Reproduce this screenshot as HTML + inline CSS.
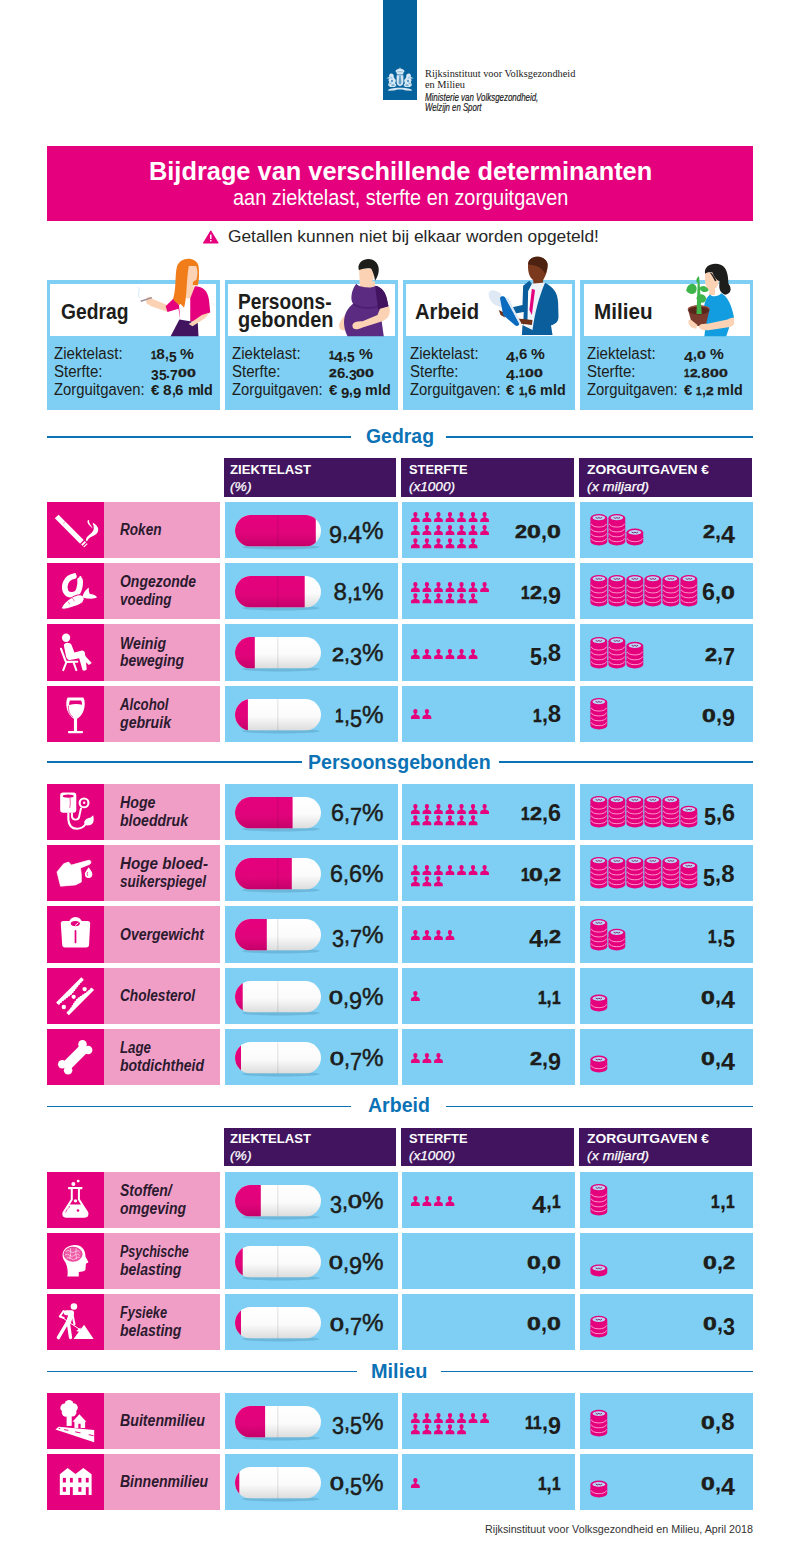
<!DOCTYPE html>
<html><head><meta charset="utf-8"><title>Bijdrage van verschillende determinanten</title>
<style>
html,body{margin:0;padding:0;background:#fff;}
body{width:800px;height:1553px;position:relative;overflow:hidden;font-family:"Liberation Sans",sans-serif;}
#p{position:absolute;left:0;top:0;width:800px;height:1553px;overflow:hidden;}
#p>div,#p>svg,#p>span{position:absolute;}
.t{white-space:nowrap;transform-origin:0 0;display:block;}
svg{overflow:visible;}
</style></head><body><div id="p">
<div style="left:383.25px;top:0.00px;width:33.50px;height:100.25px;background:#05629c;"></div>
<svg style="left:380.00px;top:55.00px;" width="40" height="50" viewBox="0 0 800 1000"><g fill="#d6e8f6">
<path d="M400 240 L412 275 C440 270 480 290 492 325 C470 345 462 370 462 388 L338 388 C338 370 330 345 308 325 C320 290 360 270 388 275 Z"/>
<path d="M332 405 H468 V540 C468 590 430 615 400 625 C370 615 332 590 332 540 Z"/>
<path d="M215 372 C255 368 285 400 275 440 L300 470 L320 520 L300 560 L330 600 L300 640 L200 640 L160 600 L185 540 L165 500 L190 470 L120 465 L185 440 C175 410 185 385 215 372Z"/>
<path d="M585 372 C545 368 515 400 525 440 L500 470 L480 520 L500 560 L470 600 L500 640 L600 640 L640 600 L615 540 L635 500 L610 470 L680 465 L615 440 C625 410 615 385 585 372Z"/>
<path d="M170 690 C250 640 550 640 630 690 L640 715 L520 712 C470 680 330 680 280 712 L160 715 Z"/>
</g>
<g fill="#05629c"><path d="M385 420 L415 420 L430 560 L400 600 L370 560Z" opacity="0.55"/><path d="M300 400 q-25 40 0 80 M500 400 q25 40 0 80" stroke="#05629c" stroke-width="14" fill="none" opacity="0.8"/><path d="M205 440 l40 30 M595 440 l-40 30 M180 580 l50 -20 M620 580 l-50 -20" stroke="#05629c" stroke-width="12" opacity="0.7"/><circle cx="240" cy="520" r="22" opacity="0.7"/><circle cx="560" cy="520" r="22" opacity="0.7"/><path d="M230 590 h60 v25 h-60z M510 590 h60 v25 h-60z" opacity="0.6"/><path d="M345 330 h110 v14 h-110z" opacity="0.5"/></g></svg>
<span class="t" style="left:424.50px;top:68.12px;font:11.2px/11.2px 'Liberation Serif',serif;color:#222;transform:scaleX(0.9220);">Rijksinstituut voor Volksgezondheid</span>
<span class="t" style="left:424.50px;top:78.92px;font:11.2px/11.2px 'Liberation Serif',serif;color:#222;transform:scaleX(0.9252);">en Milieu</span>
<span class="t" style="left:424.50px;top:91.81px;font:italic 10.5px/10.5px 'Liberation Sans',sans-serif;color:#222;transform:scaleX(0.7544);-webkit-text-stroke:0.2px #222;">Ministerie van Volksgezondheid,</span>
<span class="t" style="left:424.50px;top:102.41px;font:italic 10.5px/10.5px 'Liberation Sans',sans-serif;color:#222;transform:scaleX(0.7409);-webkit-text-stroke:0.2px #222;">Welzijn en Sport</span>
<div style="left:47.00px;top:145.50px;width:706.00px;height:75.30px;background:#e5007d;"></div>
<span class="t" style="left:148.80px;top:157.79px;font:bold 26px/26px 'Liberation Sans',sans-serif;color:#fff;transform:scaleX(0.9755);">Bijdrage van verschillende determinanten</span>
<span class="t" style="left:232.60px;top:187.60px;font:21.5px/21.5px 'Liberation Sans',sans-serif;color:#fff;transform:scaleX(0.9262);">aan ziektelast, sterfte en zorguitgaven</span>
<span class="t" style="left:228.30px;top:228.14px;font:17.2px/17.2px 'Liberation Sans',sans-serif;color:#262626;transform:scaleX(1.0083);">Getallen kunnen niet bij elkaar worden opgeteld!</span>
<svg style="left:202.60px;top:230.00px;" width="15.6" height="13.9" viewBox="0 0 30 25"><path d="M15 1.2 L29 24 L1 24 Z" fill="#e5007d" stroke="#e5007d" stroke-width="2" stroke-linejoin="round"/><rect x="13.6" y="8" width="2.8" height="8.5" fill="#fff"/><rect x="13.6" y="18.3" width="2.8" height="2.8" fill="#fff"/></svg>
<div style="left:47.00px;top:280.40px;width:172.80px;height:129.40px;background:#7ecff3;"></div>
<div style="left:50.30px;top:283.70px;width:166.20px;height:51.90px;background:#fff;"></div>
<span class="t" style="left:61.00px;top:301.38px;font:bold 22px/22px 'Liberation Sans',sans-serif;color:#1d1d1b;transform:scaleX(0.8764);">Gedrag</span>
<span class="t" style="left:54.00px;top:346.09px;font:15.6px/15.6px 'Liberation Sans',sans-serif;color:#1d1d1b;transform:scaleX(0.9650);">Ziektelast:</span>
<span class="t" style="left:54.00px;top:364.39px;font:15.6px/15.6px 'Liberation Sans',sans-serif;color:#1d1d1b;transform:scaleX(0.9644);">Sterfte:</span>
<span class="t" style="left:54.00px;top:382.09px;font:15.6px/15.6px 'Liberation Sans',sans-serif;color:#1d1d1b;transform:scaleX(0.9508);">Zorguitgaven:</span>
<span class="t" style="left:150.80px;top:349.72px;font:bold 11.319px/11.319px 'Liberation Sans',sans-serif;color:#1d1d1b;transform:scaleX(0.8766);-webkit-text-stroke:0.3388px #1d1d1b;">1</span>
<span class="t" style="left:156.32px;top:346.26px;font:bold 15.4px/15.4px 'Liberation Sans',sans-serif;color:#1d1d1b;">8</span>
<span class="t" style="left:164.85px;top:346.26px;font:bold 15.4px/15.4px 'Liberation Sans',sans-serif;color:#1d1d1b;transform:scaleX(0.8998);">,</span>
<span class="t" style="left:168.70px;top:348.80px;font:bold 15.4px/15.4px 'Liberation Sans',sans-serif;color:#1d1d1b;transform:scaleX(0.8990);">5</span>
<span class="t" style="left:180.25px;top:346.26px;font:bold 15.4px/15.4px 'Liberation Sans',sans-serif;color:#1d1d1b;transform:scaleX(1.0075);">%</span>
<span class="t" style="left:150.80px;top:367.10px;font:bold 15.4px/15.4px 'Liberation Sans',sans-serif;color:#1d1d1b;transform:scaleX(0.8990);">3</span>
<span class="t" style="left:158.50px;top:367.10px;font:bold 15.4px/15.4px 'Liberation Sans',sans-serif;color:#1d1d1b;transform:scaleX(0.8990);">5</span>
<span class="t" style="left:166.20px;top:364.56px;font:bold 15.4px/15.4px 'Liberation Sans',sans-serif;color:#1d1d1b;transform:scaleX(0.8998);">.</span>
<span class="t" style="left:170.05px;top:367.10px;font:bold 15.4px/15.4px 'Liberation Sans',sans-serif;color:#1d1d1b;transform:scaleX(0.8990);">7</span>
<span class="t" style="left:177.75px;top:368.02px;font:bold 11.319px/11.319px 'Liberation Sans',sans-serif;color:#1d1d1b;transform:scaleX(1.4066);-webkit-text-stroke:0.3388px #1d1d1b;">0</span>
<span class="t" style="left:186.60px;top:368.02px;font:bold 11.319px/11.319px 'Liberation Sans',sans-serif;color:#1d1d1b;transform:scaleX(1.4066);-webkit-text-stroke:0.3388px #1d1d1b;">0</span>
<span class="t" style="left:150.80px;top:382.26px;font:bold 15.4px/15.4px 'Liberation Sans',sans-serif;color:#1d1d1b;transform:scaleX(0.9739);">€</span>
<span class="t" style="left:162.99px;top:382.26px;font:bold 15.4px/15.4px 'Liberation Sans',sans-serif;color:#1d1d1b;">8</span>
<span class="t" style="left:171.53px;top:382.26px;font:bold 15.4px/15.4px 'Liberation Sans',sans-serif;color:#1d1d1b;transform:scaleX(0.8998);">,</span>
<span class="t" style="left:175.38px;top:382.26px;font:bold 15.4px/15.4px 'Liberation Sans',sans-serif;color:#1d1d1b;transform:scaleX(0.9739);">6</span>
<span class="t" style="left:187.57px;top:382.26px;font:bold 15.4px/15.4px 'Liberation Sans',sans-serif;color:#1d1d1b;transform:scaleX(0.9300);">m</span>
<span class="t" style="left:200.30px;top:382.26px;font:bold 15.4px/15.4px 'Liberation Sans',sans-serif;color:#1d1d1b;transform:scaleX(0.9300);">l</span>
<span class="t" style="left:204.28px;top:382.26px;font:bold 15.4px/15.4px 'Liberation Sans',sans-serif;color:#1d1d1b;transform:scaleX(0.9300);">d</span>
<div style="left:225.10px;top:280.40px;width:172.80px;height:129.40px;background:#7ecff3;"></div>
<div style="left:228.40px;top:283.70px;width:166.20px;height:51.90px;background:#fff;"></div>
<span class="t" style="left:238.00px;top:290.88px;font:bold 22px/22px 'Liberation Sans',sans-serif;color:#1d1d1b;transform:scaleX(0.8691);">Persoons-</span>
<span class="t" style="left:238.00px;top:309.38px;font:bold 22px/22px 'Liberation Sans',sans-serif;color:#1d1d1b;transform:scaleX(0.9086);">gebonden</span>
<span class="t" style="left:232.10px;top:346.09px;font:15.6px/15.6px 'Liberation Sans',sans-serif;color:#1d1d1b;transform:scaleX(0.9650);">Ziektelast:</span>
<span class="t" style="left:232.10px;top:364.39px;font:15.6px/15.6px 'Liberation Sans',sans-serif;color:#1d1d1b;transform:scaleX(0.9644);">Sterfte:</span>
<span class="t" style="left:232.10px;top:382.09px;font:15.6px/15.6px 'Liberation Sans',sans-serif;color:#1d1d1b;transform:scaleX(0.9508);">Zorguitgaven:</span>
<span class="t" style="left:328.90px;top:349.72px;font:bold 11.319px/11.319px 'Liberation Sans',sans-serif;color:#1d1d1b;transform:scaleX(0.8766);-webkit-text-stroke:0.3388px #1d1d1b;">1</span>
<span class="t" style="left:334.42px;top:348.80px;font:bold 15.4px/15.4px 'Liberation Sans',sans-serif;color:#1d1d1b;transform:scaleX(1.0489);">4</span>
<span class="t" style="left:343.40px;top:346.26px;font:bold 15.4px/15.4px 'Liberation Sans',sans-serif;color:#1d1d1b;transform:scaleX(0.8998);">,</span>
<span class="t" style="left:347.25px;top:348.80px;font:bold 15.4px/15.4px 'Liberation Sans',sans-serif;color:#1d1d1b;transform:scaleX(0.8990);">5</span>
<span class="t" style="left:358.80px;top:346.26px;font:bold 15.4px/15.4px 'Liberation Sans',sans-serif;color:#1d1d1b;transform:scaleX(1.0075);">%</span>
<span class="t" style="left:328.90px;top:368.02px;font:bold 11.319px/11.319px 'Liberation Sans',sans-serif;color:#1d1d1b;transform:scaleX(1.2232);-webkit-text-stroke:0.3388px #1d1d1b;">2</span>
<span class="t" style="left:336.60px;top:364.56px;font:bold 15.4px/15.4px 'Liberation Sans',sans-serif;color:#1d1d1b;transform:scaleX(0.9739);">6</span>
<span class="t" style="left:344.94px;top:364.56px;font:bold 15.4px/15.4px 'Liberation Sans',sans-serif;color:#1d1d1b;transform:scaleX(0.8998);">.</span>
<span class="t" style="left:348.79px;top:367.10px;font:bold 15.4px/15.4px 'Liberation Sans',sans-serif;color:#1d1d1b;transform:scaleX(0.8990);">3</span>
<span class="t" style="left:356.49px;top:368.02px;font:bold 11.319px/11.319px 'Liberation Sans',sans-serif;color:#1d1d1b;transform:scaleX(1.4066);-webkit-text-stroke:0.3388px #1d1d1b;">0</span>
<span class="t" style="left:365.35px;top:368.02px;font:bold 11.319px/11.319px 'Liberation Sans',sans-serif;color:#1d1d1b;transform:scaleX(1.4066);-webkit-text-stroke:0.3388px #1d1d1b;">0</span>
<span class="t" style="left:328.90px;top:382.26px;font:bold 15.4px/15.4px 'Liberation Sans',sans-serif;color:#1d1d1b;transform:scaleX(0.9739);">€</span>
<span class="t" style="left:341.09px;top:384.80px;font:bold 15.4px/15.4px 'Liberation Sans',sans-serif;color:#1d1d1b;transform:scaleX(0.9739);">9</span>
<span class="t" style="left:349.43px;top:382.26px;font:bold 15.4px/15.4px 'Liberation Sans',sans-serif;color:#1d1d1b;transform:scaleX(0.8998);">,</span>
<span class="t" style="left:353.28px;top:384.80px;font:bold 15.4px/15.4px 'Liberation Sans',sans-serif;color:#1d1d1b;transform:scaleX(0.9739);">9</span>
<span class="t" style="left:365.47px;top:382.26px;font:bold 15.4px/15.4px 'Liberation Sans',sans-serif;color:#1d1d1b;transform:scaleX(0.9300);">m</span>
<span class="t" style="left:378.21px;top:382.26px;font:bold 15.4px/15.4px 'Liberation Sans',sans-serif;color:#1d1d1b;transform:scaleX(0.9300);">l</span>
<span class="t" style="left:382.19px;top:382.26px;font:bold 15.4px/15.4px 'Liberation Sans',sans-serif;color:#1d1d1b;transform:scaleX(0.9300);">d</span>
<div style="left:402.60px;top:280.40px;width:172.80px;height:129.40px;background:#7ecff3;"></div>
<div style="left:405.90px;top:283.70px;width:166.20px;height:51.90px;background:#fff;"></div>
<span class="t" style="left:415.00px;top:301.38px;font:bold 22px/22px 'Liberation Sans',sans-serif;color:#1d1d1b;transform:scaleX(0.9186);">Arbeid</span>
<span class="t" style="left:409.60px;top:346.09px;font:15.6px/15.6px 'Liberation Sans',sans-serif;color:#1d1d1b;transform:scaleX(0.9650);">Ziektelast:</span>
<span class="t" style="left:409.60px;top:364.39px;font:15.6px/15.6px 'Liberation Sans',sans-serif;color:#1d1d1b;transform:scaleX(0.9644);">Sterfte:</span>
<span class="t" style="left:409.60px;top:382.09px;font:15.6px/15.6px 'Liberation Sans',sans-serif;color:#1d1d1b;transform:scaleX(0.9508);">Zorguitgaven:</span>
<span class="t" style="left:506.40px;top:348.80px;font:bold 15.4px/15.4px 'Liberation Sans',sans-serif;color:#1d1d1b;transform:scaleX(1.0489);">4</span>
<span class="t" style="left:515.38px;top:346.26px;font:bold 15.4px/15.4px 'Liberation Sans',sans-serif;color:#1d1d1b;transform:scaleX(0.8998);">,</span>
<span class="t" style="left:519.23px;top:346.26px;font:bold 15.4px/15.4px 'Liberation Sans',sans-serif;color:#1d1d1b;transform:scaleX(0.9739);">6</span>
<span class="t" style="left:531.43px;top:346.26px;font:bold 15.4px/15.4px 'Liberation Sans',sans-serif;color:#1d1d1b;transform:scaleX(1.0075);">%</span>
<span class="t" style="left:506.40px;top:367.10px;font:bold 15.4px/15.4px 'Liberation Sans',sans-serif;color:#1d1d1b;transform:scaleX(1.0489);">4</span>
<span class="t" style="left:515.38px;top:364.56px;font:bold 15.4px/15.4px 'Liberation Sans',sans-serif;color:#1d1d1b;transform:scaleX(0.8998);">.</span>
<span class="t" style="left:519.23px;top:368.02px;font:bold 11.319px/11.319px 'Liberation Sans',sans-serif;color:#1d1d1b;transform:scaleX(0.8766);-webkit-text-stroke:0.3388px #1d1d1b;">1</span>
<span class="t" style="left:524.75px;top:368.02px;font:bold 11.319px/11.319px 'Liberation Sans',sans-serif;color:#1d1d1b;transform:scaleX(1.4066);-webkit-text-stroke:0.3388px #1d1d1b;">0</span>
<span class="t" style="left:533.61px;top:368.02px;font:bold 11.319px/11.319px 'Liberation Sans',sans-serif;color:#1d1d1b;transform:scaleX(1.4066);-webkit-text-stroke:0.3388px #1d1d1b;">0</span>
<span class="t" style="left:506.40px;top:382.26px;font:bold 15.4px/15.4px 'Liberation Sans',sans-serif;color:#1d1d1b;transform:scaleX(0.9739);">€</span>
<span class="t" style="left:518.59px;top:385.72px;font:bold 11.319px/11.319px 'Liberation Sans',sans-serif;color:#1d1d1b;transform:scaleX(0.8766);-webkit-text-stroke:0.3388px #1d1d1b;">1</span>
<span class="t" style="left:524.11px;top:382.26px;font:bold 15.4px/15.4px 'Liberation Sans',sans-serif;color:#1d1d1b;transform:scaleX(0.8998);">,</span>
<span class="t" style="left:527.96px;top:382.26px;font:bold 15.4px/15.4px 'Liberation Sans',sans-serif;color:#1d1d1b;transform:scaleX(0.9739);">6</span>
<span class="t" style="left:540.15px;top:382.26px;font:bold 15.4px/15.4px 'Liberation Sans',sans-serif;color:#1d1d1b;transform:scaleX(0.9300);">m</span>
<span class="t" style="left:552.89px;top:382.26px;font:bold 15.4px/15.4px 'Liberation Sans',sans-serif;color:#1d1d1b;transform:scaleX(0.9300);">l</span>
<span class="t" style="left:556.87px;top:382.26px;font:bold 15.4px/15.4px 'Liberation Sans',sans-serif;color:#1d1d1b;transform:scaleX(0.9300);">d</span>
<div style="left:580.40px;top:280.40px;width:172.80px;height:129.40px;background:#7ecff3;"></div>
<div style="left:583.70px;top:283.70px;width:166.20px;height:51.90px;background:#fff;"></div>
<span class="t" style="left:594.00px;top:301.38px;font:bold 22px/22px 'Liberation Sans',sans-serif;color:#1d1d1b;transform:scaleX(0.9384);">Milieu</span>
<span class="t" style="left:587.40px;top:346.09px;font:15.6px/15.6px 'Liberation Sans',sans-serif;color:#1d1d1b;transform:scaleX(0.9650);">Ziektelast:</span>
<span class="t" style="left:587.40px;top:364.39px;font:15.6px/15.6px 'Liberation Sans',sans-serif;color:#1d1d1b;transform:scaleX(0.9644);">Sterfte:</span>
<span class="t" style="left:587.40px;top:382.09px;font:15.6px/15.6px 'Liberation Sans',sans-serif;color:#1d1d1b;transform:scaleX(0.9508);">Zorguitgaven:</span>
<span class="t" style="left:684.20px;top:348.80px;font:bold 15.4px/15.4px 'Liberation Sans',sans-serif;color:#1d1d1b;transform:scaleX(1.0489);">4</span>
<span class="t" style="left:693.18px;top:346.26px;font:bold 15.4px/15.4px 'Liberation Sans',sans-serif;color:#1d1d1b;transform:scaleX(0.8998);">,</span>
<span class="t" style="left:697.03px;top:349.72px;font:bold 11.319px/11.319px 'Liberation Sans',sans-serif;color:#1d1d1b;transform:scaleX(1.4066);-webkit-text-stroke:0.3388px #1d1d1b;">0</span>
<span class="t" style="left:709.74px;top:346.26px;font:bold 15.4px/15.4px 'Liberation Sans',sans-serif;color:#1d1d1b;transform:scaleX(1.0075);">%</span>
<span class="t" style="left:684.20px;top:368.02px;font:bold 11.319px/11.319px 'Liberation Sans',sans-serif;color:#1d1d1b;transform:scaleX(0.8766);-webkit-text-stroke:0.3388px #1d1d1b;">1</span>
<span class="t" style="left:689.72px;top:368.02px;font:bold 11.319px/11.319px 'Liberation Sans',sans-serif;color:#1d1d1b;transform:scaleX(1.2232);-webkit-text-stroke:0.3388px #1d1d1b;">2</span>
<span class="t" style="left:697.42px;top:364.56px;font:bold 15.4px/15.4px 'Liberation Sans',sans-serif;color:#1d1d1b;transform:scaleX(0.8998);">.</span>
<span class="t" style="left:701.27px;top:364.56px;font:bold 15.4px/15.4px 'Liberation Sans',sans-serif;color:#1d1d1b;">8</span>
<span class="t" style="left:709.80px;top:368.02px;font:bold 11.319px/11.319px 'Liberation Sans',sans-serif;color:#1d1d1b;transform:scaleX(1.4066);-webkit-text-stroke:0.3388px #1d1d1b;">0</span>
<span class="t" style="left:718.66px;top:368.02px;font:bold 11.319px/11.319px 'Liberation Sans',sans-serif;color:#1d1d1b;transform:scaleX(1.4066);-webkit-text-stroke:0.3388px #1d1d1b;">0</span>
<span class="t" style="left:684.20px;top:382.26px;font:bold 15.4px/15.4px 'Liberation Sans',sans-serif;color:#1d1d1b;transform:scaleX(0.9739);">€</span>
<span class="t" style="left:696.39px;top:385.72px;font:bold 11.319px/11.319px 'Liberation Sans',sans-serif;color:#1d1d1b;transform:scaleX(0.8766);-webkit-text-stroke:0.3388px #1d1d1b;">1</span>
<span class="t" style="left:701.91px;top:382.26px;font:bold 15.4px/15.4px 'Liberation Sans',sans-serif;color:#1d1d1b;transform:scaleX(0.8998);">,</span>
<span class="t" style="left:705.76px;top:385.72px;font:bold 11.319px/11.319px 'Liberation Sans',sans-serif;color:#1d1d1b;transform:scaleX(1.2232);-webkit-text-stroke:0.3388px #1d1d1b;">2</span>
<span class="t" style="left:717.31px;top:382.26px;font:bold 15.4px/15.4px 'Liberation Sans',sans-serif;color:#1d1d1b;transform:scaleX(0.9300);">m</span>
<span class="t" style="left:730.04px;top:382.26px;font:bold 15.4px/15.4px 'Liberation Sans',sans-serif;color:#1d1d1b;transform:scaleX(0.9300);">l</span>
<span class="t" style="left:734.02px;top:382.26px;font:bold 15.4px/15.4px 'Liberation Sans',sans-serif;color:#1d1d1b;transform:scaleX(0.9300);">d</span>
<svg style="left:130.00px;top:250.00px;" width="100" height="90" viewBox="0 0 800 720">
<path d="M180 392 L294 438 L304 496 L158 446 Z" fill="#fbd3b4"/>
<ellipse cx="156" cy="406" rx="27" ry="33" fill="#fbd3b4"/>
<line x1="86" y1="410" x2="176" y2="381" stroke="#9b8f98" stroke-width="11"/>
<path d="M80 385 C45 345 95 325 62 298" fill="none" stroke="#c5dff0" stroke-width="6"/>
<path d="M455 125 L530 125 C548 180 545 245 505 285 L505 350 L440 360 Z" fill="#fbd3b4"/>
<path d="M440 300 L520 292 L500 400 L450 400 Z" fill="#fbd3b4"/>
<path d="M440 385 L492 385 L492 562 L395 562 Z" fill="#fff"/>
<path d="M520 290 C585 292 622 325 632 400 L642 500 L585 522 L562 565 L482 572 L482 385 Z" fill="#e5007d"/>
<path d="M348 388 L285 450 L300 496 L388 470 L402 560 L392 440 Z" fill="#e5007d"/>
<path d="M395 555 L542 580 L548 690 L325 690 Z" fill="#42145f"/>
<path d="M470 592 L575 520 L640 500 L600 545 L500 610 Z" fill="#fbd3b4"/>
<path d="M375 135 C395 55 525 45 548 125 C556 180 552 240 543 282 L505 282 C497 265 505 250 520 243 L530 240 C545 200 540 150 528 128 L470 128 C450 250 455 400 432 462 C412 440 402 420 396 442 C370 420 345 400 345 390 C372 300 358 200 375 135 Z" fill="#f07d1a"/>
</svg>
<svg style="left:310.00px;top:250.00px;" width="100" height="90" viewBox="0 0 800 720">
<path d="M392 150 L500 150 C520 200 515 250 470 270 L470 300 L400 300 Z" fill="#fbd3b4"/>
<path d="M395 250 L520 250 L520 310 L410 310 Z" fill="#fbd3b4"/>
<path d="M388 150 C380 80 470 50 520 90 C560 120 560 190 520 245 C515 200 500 170 490 150 C460 140 430 150 392 160 Z" fill="#1d1d1b"/>
<path d="M232 600 C240 560 270 540 280 520 L300 640 C260 650 232 640 232 600Z" fill="#fbd3b4"/>
<path d="M370 270 C390 300 500 310 525 285 C570 300 600 330 612 380 L628 450 L560 475 L590 690 L300 690 C240 560 290 470 345 430 C320 400 330 320 370 270 Z" fill="#5b2b82"/>
<path d="M525 285 C580 300 605 340 615 390 L628 452 L545 478 C540 400 520 330 525 285Z" fill="#42145f"/>
<path d="M350 435 C400 470 500 470 545 450" fill="none" stroke="#4a1f70" stroke-width="14"/>
<path d="M560 470 L635 450 C650 520 620 560 560 575 L420 620 C380 640 340 640 340 610 C335 580 370 570 420 570 L540 520 Z" fill="#fbd3b4"/>
</svg>
<svg style="left:480.00px;top:250.00px;" width="100" height="90" viewBox="0 0 800 720">
<path d="M385 110 C390 40 520 30 540 110 C545 170 520 215 505 240 L505 290 L430 300 L425 240 C395 220 380 170 385 110Z" fill="#7b3a1e"/>
<path d="M385 115 C385 40 520 30 540 110 C542 150 530 170 520 190 C500 150 470 120 385 115Z" fill="#4e2210"/>
<path d="M410 270 L520 260 L500 640 L380 640 Z" fill="#eef3fa"/>
<path d="M415 310 L440 320 L415 520 L395 480 Z" fill="#e5007d"/>
<path d="M520 262 C590 300 620 340 625 420 L628 535 C626 578 600 592 568 602 L580 680 L335 680 L340 600 L420 640 C440 500 470 380 520 262Z" fill="#0b5e9c"/>
<path d="M395 245 L345 285 L340 440 L250 460 L270 510 L350 495 L345 600 L380 560 L385 330 L415 270Z" fill="#0b5e9c"/>
<path d="M300 548 L420 560 L415 600 L330 590 Z" fill="#6d3219"/>
<path d="M150 480 L190 500 L200 540 L165 520Z" fill="#6d3219"/>
<path d="M70 345 C80 310 130 320 165 350 L200 470 L120 440 C90 420 65 380 70 345Z" fill="#dfe9f5"/>
<path d="M160 385 C165 365 195 365 205 385 L315 590 C310 610 290 612 278 600 L185 520 Z" fill="#0b6bbf"/>
<path d="M205 385 L225 380 L330 585 L315 592 Z" fill="#dfe9f5"/>
</svg>
<svg style="left:660.00px;top:250.00px;" width="100" height="90" viewBox="0 0 800 720">
<path d="M362 180 L470 180 C480 240 470 290 440 310 L440 360 L390 360 L395 320 C360 300 355 240 362 180Z" fill="#fbd3b4"/>
<path d="M360 190 C350 120 430 95 490 120 C545 145 545 230 548 270 C578 310 568 350 520 358 C475 340 468 300 478 250 C450 240 430 210 420 180 C400 170 380 178 360 190Z" fill="#1d1d1b"/><path d="M395 175 C420 185 440 215 452 245 L440 250 C425 215 410 195 395 175Z" fill="#1d1d1b"/>
<path d="M400 355 C420 380 470 370 490 345 C540 370 575 440 592 540 L560 600 L530 690 L355 690 L365 600 C340 520 340 400 400 355Z" fill="#119de0"/>
<path d="M225 480 C225 440 395 440 395 480 L370 590 C360 615 265 615 255 590 Z" fill="#7a3b2e"/>
<ellipse cx="310" cy="480" rx="85" ry="38" fill="#5a261c"/>
<path d="M225 478 C225 440 395 440 395 478" fill="none" stroke="#9a5040" stroke-width="10"/>
<path d="M292 512 L302 250 L310 212 L316 250 L334 512 Z" fill="#3db54a"/>
<path d="M210 322 C222 262 280 255 292 300 C298 335 275 358 245 350 C228 345 215 335 210 322Z" fill="#3db54a"/>
<path d="M315 305 C332 275 378 285 390 322 C368 345 332 340 315 305Z" fill="#3db54a"/>
<path d="M292 385 C298 345 355 340 370 385 C365 420 340 430 318 414 C303 403 296 396 292 385Z" fill="#3db54a"/>
<path d="M290 250 C290 225 305 210 312 212 C318 230 312 255 300 262Z" fill="#3db54a"/>
<path d="M230 560 C220 590 240 625 290 630 L300 600 L250 560Z" fill="#fbd3b4"/>
<path d="M560 545 L590 540 C600 590 590 610 560 615 L400 640 C340 650 310 630 310 610 C320 590 350 590 380 590 L540 555Z" fill="#fbd3b4"/>
</svg>
<div style="left:47.00px;top:435.85px;width:304.00px;height:1.70px;background:#0b72b5;"></div>
<div style="left:446.20px;top:435.85px;width:306.80px;height:1.70px;background:#0b72b5;"></div>
<span class="t" style="left:365.60px;top:424.72px;font:bold 21px/21px 'Liberation Sans',sans-serif;color:#0b72b5;transform:scaleX(0.9249);">Gedrag</span>
<div style="left:223.50px;top:458.10px;width:172.90px;height:38.70px;background:#42145f;"></div>
<span class="t" style="left:230.25px;top:462.56px;font:bold 13.4px/13.4px 'Liberation Sans',sans-serif;color:#fff;transform:scaleX(0.9803);">ZIEKTELAST</span>
<span class="t" style="left:230.25px;top:479.56px;font:italic 13.4px/13.4px 'Liberation Sans',sans-serif;color:#fff;transform:scaleX(1.0317);-webkit-text-stroke:0.25px #fff;">(%)</span>
<div style="left:400.80px;top:458.10px;width:172.90px;height:38.70px;background:#42145f;"></div>
<span class="t" style="left:409.30px;top:462.56px;font:bold 13.4px/13.4px 'Liberation Sans',sans-serif;color:#fff;transform:scaleX(0.9583);">STERFTE</span>
<span class="t" style="left:409.30px;top:479.56px;font:italic 13.4px/13.4px 'Liberation Sans',sans-serif;color:#fff;transform:scaleX(1.0124);-webkit-text-stroke:0.25px #fff;">(x1000)</span>
<div style="left:578.80px;top:458.10px;width:172.90px;height:38.70px;background:#42145f;"></div>
<span class="t" style="left:587.25px;top:462.56px;font:bold 13.4px/13.4px 'Liberation Sans',sans-serif;color:#fff;transform:scaleX(1.0328);">ZORGUITGAVEN €</span>
<span class="t" style="left:587.25px;top:479.56px;font:italic 13.4px/13.4px 'Liberation Sans',sans-serif;color:#fff;transform:scaleX(1.0543);-webkit-text-stroke:0.25px #fff;">(x miljard)</span>
<div style="left:47.00px;top:502.00px;width:56.80px;height:56.30px;background:#e5007d;"></div>
<div style="left:103.70px;top:502.00px;width:115.90px;height:56.30px;background:#f19ec7;"></div>
<div style="left:224.70px;top:502.00px;width:173.00px;height:56.30px;background:#7ecff3;"></div>
<div style="left:402.00px;top:502.00px;width:173.00px;height:56.30px;background:#7ecff3;"></div>
<div style="left:580.00px;top:502.00px;width:173.00px;height:56.30px;background:#7ecff3;"></div>
<span class="t" style="left:120.00px;top:522.16px;font:italic bold 16px/16px 'Liberation Sans',sans-serif;color:#2b1a2e;transform:scaleX(0.8487);">Roken</span>
<svg style="left:235.30px;top:514.90px;" width="86" height="31.6" viewBox="0 0 86 31.6"><defs><clipPath id="c235_514"><rect x="0" y="0" width="86" height="31.6" rx="15.8" ry="15.8"/></clipPath>
<linearGradient id="g235_514" x1="0" y1="0" x2="0" y2="1"><stop offset="0" stop-color="#ffffff"/><stop offset="0.55" stop-color="#fbfbfb"/><stop offset="1" stop-color="#dcdcdc"/></linearGradient>
<linearGradient id="h235_514" x1="0" y1="0" x2="0" y2="1"><stop offset="0" stop-color="#e5007d"/><stop offset="0.6" stop-color="#e0047a"/><stop offset="1" stop-color="#c4006a"/></linearGradient></defs>
<ellipse cx="46.0" cy="32.1" rx="39.0" ry="2.4" fill="#3a7ea0" opacity="0.28"/>
<g clip-path="url(#c235_514)"><rect x="0" y="0" width="86" height="31.6" fill="url(#g235_514)"/>
<rect x="0" y="0" width="80.8" height="31.6" fill="url(#h235_514)"/>
<rect x="42.4" y="0" width="0.9" height="31.6" fill="#000" opacity="0.13"/></g></svg>
<span class="t" style="left:328.50px;top:523.04px;font:24px/24px 'Liberation Sans',sans-serif;color:#1d1d1b;transform:scaleX(0.9739);-webkit-text-stroke:0.5px #1d1d1b;">9</span>
<span class="t" style="left:341.50px;top:519.08px;font:24px/24px 'Liberation Sans',sans-serif;color:#1d1d1b;transform:scaleX(0.8998);-webkit-text-stroke:0.5px #1d1d1b;">,</span>
<span class="t" style="left:347.50px;top:523.04px;font:24px/24px 'Liberation Sans',sans-serif;color:#1d1d1b;transform:scaleX(1.0489);-webkit-text-stroke:0.5px #1d1d1b;">4</span>
<span class="t" style="left:361.50px;top:519.08px;font:24px/24px 'Liberation Sans',sans-serif;color:#1d1d1b;transform:scaleX(1.0075);-webkit-text-stroke:0.5px #1d1d1b;">%</span>
<svg style="left:411.00px;top:511.90px;" width="90" height="45" viewBox="0 0 90 45"><g fill="#e5007d"><g transform="translate(0.00,0.00)"><path d="M4.375 0C5.6 0 6.45 .9 6.45 2.25C6.45 3.3 5.95 4.2 5.35 4.7C5.1 4.9 5.15 5.3 5.5 5.5L7.6 6.45C8.4 6.85 8.75 7.6 8.75 8.5V10H0V8.5C0 7.6 .35 6.85 1.15 6.45L3.25 5.5C3.6 5.3 3.65 4.9 3.4 4.7C2.8 4.2 2.3 3.3 2.3 2.25C2.3 .9 3.15 0 4.375 0Z"/></g><g transform="translate(11.54,0.00)"><path d="M4.375 0C5.6 0 6.45 .9 6.45 2.25C6.45 3.3 5.95 4.2 5.35 4.7C5.1 4.9 5.15 5.3 5.5 5.5L7.6 6.45C8.4 6.85 8.75 7.6 8.75 8.5V10H0V8.5C0 7.6 .35 6.85 1.15 6.45L3.25 5.5C3.6 5.3 3.65 4.9 3.4 4.7C2.8 4.2 2.3 3.3 2.3 2.25C2.3 .9 3.15 0 4.375 0Z"/></g><g transform="translate(23.08,0.00)"><path d="M4.375 0C5.6 0 6.45 .9 6.45 2.25C6.45 3.3 5.95 4.2 5.35 4.7C5.1 4.9 5.15 5.3 5.5 5.5L7.6 6.45C8.4 6.85 8.75 7.6 8.75 8.5V10H0V8.5C0 7.6 .35 6.85 1.15 6.45L3.25 5.5C3.6 5.3 3.65 4.9 3.4 4.7C2.8 4.2 2.3 3.3 2.3 2.25C2.3 .9 3.15 0 4.375 0Z"/></g><g transform="translate(34.62,0.00)"><path d="M4.375 0C5.6 0 6.45 .9 6.45 2.25C6.45 3.3 5.95 4.2 5.35 4.7C5.1 4.9 5.15 5.3 5.5 5.5L7.6 6.45C8.4 6.85 8.75 7.6 8.75 8.5V10H0V8.5C0 7.6 .35 6.85 1.15 6.45L3.25 5.5C3.6 5.3 3.65 4.9 3.4 4.7C2.8 4.2 2.3 3.3 2.3 2.25C2.3 .9 3.15 0 4.375 0Z"/></g><g transform="translate(46.16,0.00)"><path d="M4.375 0C5.6 0 6.45 .9 6.45 2.25C6.45 3.3 5.95 4.2 5.35 4.7C5.1 4.9 5.15 5.3 5.5 5.5L7.6 6.45C8.4 6.85 8.75 7.6 8.75 8.5V10H0V8.5C0 7.6 .35 6.85 1.15 6.45L3.25 5.5C3.6 5.3 3.65 4.9 3.4 4.7C2.8 4.2 2.3 3.3 2.3 2.25C2.3 .9 3.15 0 4.375 0Z"/></g><g transform="translate(57.70,0.00)"><path d="M4.375 0C5.6 0 6.45 .9 6.45 2.25C6.45 3.3 5.95 4.2 5.35 4.7C5.1 4.9 5.15 5.3 5.5 5.5L7.6 6.45C8.4 6.85 8.75 7.6 8.75 8.5V10H0V8.5C0 7.6 .35 6.85 1.15 6.45L3.25 5.5C3.6 5.3 3.65 4.9 3.4 4.7C2.8 4.2 2.3 3.3 2.3 2.25C2.3 .9 3.15 0 4.375 0Z"/></g><g transform="translate(69.24,0.00)"><path d="M4.375 0C5.6 0 6.45 .9 6.45 2.25C6.45 3.3 5.95 4.2 5.35 4.7C5.1 4.9 5.15 5.3 5.5 5.5L7.6 6.45C8.4 6.85 8.75 7.6 8.75 8.5V10H0V8.5C0 7.6 .35 6.85 1.15 6.45L3.25 5.5C3.6 5.3 3.65 4.9 3.4 4.7C2.8 4.2 2.3 3.3 2.3 2.25C2.3 .9 3.15 0 4.375 0Z"/></g><g transform="translate(0.00,13.10)"><path d="M4.375 0C5.6 0 6.45 .9 6.45 2.25C6.45 3.3 5.95 4.2 5.35 4.7C5.1 4.9 5.15 5.3 5.5 5.5L7.6 6.45C8.4 6.85 8.75 7.6 8.75 8.5V10H0V8.5C0 7.6 .35 6.85 1.15 6.45L3.25 5.5C3.6 5.3 3.65 4.9 3.4 4.7C2.8 4.2 2.3 3.3 2.3 2.25C2.3 .9 3.15 0 4.375 0Z"/></g><g transform="translate(11.54,13.10)"><path d="M4.375 0C5.6 0 6.45 .9 6.45 2.25C6.45 3.3 5.95 4.2 5.35 4.7C5.1 4.9 5.15 5.3 5.5 5.5L7.6 6.45C8.4 6.85 8.75 7.6 8.75 8.5V10H0V8.5C0 7.6 .35 6.85 1.15 6.45L3.25 5.5C3.6 5.3 3.65 4.9 3.4 4.7C2.8 4.2 2.3 3.3 2.3 2.25C2.3 .9 3.15 0 4.375 0Z"/></g><g transform="translate(23.08,13.10)"><path d="M4.375 0C5.6 0 6.45 .9 6.45 2.25C6.45 3.3 5.95 4.2 5.35 4.7C5.1 4.9 5.15 5.3 5.5 5.5L7.6 6.45C8.4 6.85 8.75 7.6 8.75 8.5V10H0V8.5C0 7.6 .35 6.85 1.15 6.45L3.25 5.5C3.6 5.3 3.65 4.9 3.4 4.7C2.8 4.2 2.3 3.3 2.3 2.25C2.3 .9 3.15 0 4.375 0Z"/></g><g transform="translate(34.62,13.10)"><path d="M4.375 0C5.6 0 6.45 .9 6.45 2.25C6.45 3.3 5.95 4.2 5.35 4.7C5.1 4.9 5.15 5.3 5.5 5.5L7.6 6.45C8.4 6.85 8.75 7.6 8.75 8.5V10H0V8.5C0 7.6 .35 6.85 1.15 6.45L3.25 5.5C3.6 5.3 3.65 4.9 3.4 4.7C2.8 4.2 2.3 3.3 2.3 2.25C2.3 .9 3.15 0 4.375 0Z"/></g><g transform="translate(46.16,13.10)"><path d="M4.375 0C5.6 0 6.45 .9 6.45 2.25C6.45 3.3 5.95 4.2 5.35 4.7C5.1 4.9 5.15 5.3 5.5 5.5L7.6 6.45C8.4 6.85 8.75 7.6 8.75 8.5V10H0V8.5C0 7.6 .35 6.85 1.15 6.45L3.25 5.5C3.6 5.3 3.65 4.9 3.4 4.7C2.8 4.2 2.3 3.3 2.3 2.25C2.3 .9 3.15 0 4.375 0Z"/></g><g transform="translate(57.70,13.10)"><path d="M4.375 0C5.6 0 6.45 .9 6.45 2.25C6.45 3.3 5.95 4.2 5.35 4.7C5.1 4.9 5.15 5.3 5.5 5.5L7.6 6.45C8.4 6.85 8.75 7.6 8.75 8.5V10H0V8.5C0 7.6 .35 6.85 1.15 6.45L3.25 5.5C3.6 5.3 3.65 4.9 3.4 4.7C2.8 4.2 2.3 3.3 2.3 2.25C2.3 .9 3.15 0 4.375 0Z"/></g><g transform="translate(69.24,13.10)"><path d="M4.375 0C5.6 0 6.45 .9 6.45 2.25C6.45 3.3 5.95 4.2 5.35 4.7C5.1 4.9 5.15 5.3 5.5 5.5L7.6 6.45C8.4 6.85 8.75 7.6 8.75 8.5V10H0V8.5C0 7.6 .35 6.85 1.15 6.45L3.25 5.5C3.6 5.3 3.65 4.9 3.4 4.7C2.8 4.2 2.3 3.3 2.3 2.25C2.3 .9 3.15 0 4.375 0Z"/></g><g transform="translate(0.00,26.20)"><path d="M4.375 0C5.6 0 6.45 .9 6.45 2.25C6.45 3.3 5.95 4.2 5.35 4.7C5.1 4.9 5.15 5.3 5.5 5.5L7.6 6.45C8.4 6.85 8.75 7.6 8.75 8.5V10H0V8.5C0 7.6 .35 6.85 1.15 6.45L3.25 5.5C3.6 5.3 3.65 4.9 3.4 4.7C2.8 4.2 2.3 3.3 2.3 2.25C2.3 .9 3.15 0 4.375 0Z"/></g><g transform="translate(11.54,26.20)"><path d="M4.375 0C5.6 0 6.45 .9 6.45 2.25C6.45 3.3 5.95 4.2 5.35 4.7C5.1 4.9 5.15 5.3 5.5 5.5L7.6 6.45C8.4 6.85 8.75 7.6 8.75 8.5V10H0V8.5C0 7.6 .35 6.85 1.15 6.45L3.25 5.5C3.6 5.3 3.65 4.9 3.4 4.7C2.8 4.2 2.3 3.3 2.3 2.25C2.3 .9 3.15 0 4.375 0Z"/></g><g transform="translate(23.08,26.20)"><path d="M4.375 0C5.6 0 6.45 .9 6.45 2.25C6.45 3.3 5.95 4.2 5.35 4.7C5.1 4.9 5.15 5.3 5.5 5.5L7.6 6.45C8.4 6.85 8.75 7.6 8.75 8.5V10H0V8.5C0 7.6 .35 6.85 1.15 6.45L3.25 5.5C3.6 5.3 3.65 4.9 3.4 4.7C2.8 4.2 2.3 3.3 2.3 2.25C2.3 .9 3.15 0 4.375 0Z"/></g><g transform="translate(34.62,26.20)"><path d="M4.375 0C5.6 0 6.45 .9 6.45 2.25C6.45 3.3 5.95 4.2 5.35 4.7C5.1 4.9 5.15 5.3 5.5 5.5L7.6 6.45C8.4 6.85 8.75 7.6 8.75 8.5V10H0V8.5C0 7.6 .35 6.85 1.15 6.45L3.25 5.5C3.6 5.3 3.65 4.9 3.4 4.7C2.8 4.2 2.3 3.3 2.3 2.25C2.3 .9 3.15 0 4.375 0Z"/></g><g transform="translate(46.16,26.20)"><path d="M4.375 0C5.6 0 6.45 .9 6.45 2.25C6.45 3.3 5.95 4.2 5.35 4.7C5.1 4.9 5.15 5.3 5.5 5.5L7.6 6.45C8.4 6.85 8.75 7.6 8.75 8.5V10H0V8.5C0 7.6 .35 6.85 1.15 6.45L3.25 5.5C3.6 5.3 3.65 4.9 3.4 4.7C2.8 4.2 2.3 3.3 2.3 2.25C2.3 .9 3.15 0 4.375 0Z"/></g><g transform="translate(57.70,26.20)"><path d="M4.375 0C5.6 0 6.45 .9 6.45 2.25C6.45 3.3 5.95 4.2 5.35 4.7C5.1 4.9 5.15 5.3 5.5 5.5L7.6 6.45C8.4 6.85 8.75 7.6 8.75 8.5V10H0V8.5C0 7.6 .35 6.85 1.15 6.45L3.25 5.5C3.6 5.3 3.65 4.9 3.4 4.7C2.8 4.2 2.3 3.3 2.3 2.25C2.3 .9 3.15 0 4.375 0Z"/></g></g></svg>
<span class="t" style="left:515.40px;top:524.27px;font:bold 17.64px/17.64px 'Liberation Sans',sans-serif;color:#1d1d1b;transform:scaleX(1.2232);-webkit-text-stroke:0.528px #1d1d1b;">2</span>
<span class="t" style="left:527.40px;top:524.27px;font:bold 17.64px/17.64px 'Liberation Sans',sans-serif;color:#1d1d1b;transform:scaleX(1.4066);-webkit-text-stroke:0.528px #1d1d1b;">0</span>
<span class="t" style="left:541.20px;top:518.88px;font:bold 24px/24px 'Liberation Sans',sans-serif;color:#1d1d1b;transform:scaleX(0.8998);">,</span>
<span class="t" style="left:547.20px;top:524.27px;font:bold 17.64px/17.64px 'Liberation Sans',sans-serif;color:#1d1d1b;transform:scaleX(1.4066);-webkit-text-stroke:0.528px #1d1d1b;">0</span>
<svg style="left:589.50px;top:514.25px;" width="110" height="32" viewBox="0 0 110 32"><g transform="translate(0.00,0)"><path d="M0.45 23.40 v4.2 a8.4 3.9 0 0 0 16.8 0 v-4.2 z" fill="#e5007d"/><ellipse cx="8.85" cy="23.40" rx="8.4" ry="3.9" fill="#e5007d"/><path d="M0.45 18.52 v4.2 a8.4 3.9 0 0 0 16.8 0 v-4.2 z" fill="#e5007d"/><ellipse cx="8.85" cy="18.52" rx="8.4" ry="3.9" fill="#e5007d"/><path d="M0.45 13.65 v4.2 a8.4 3.9 0 0 0 16.8 0 v-4.2 z" fill="#e5007d"/><ellipse cx="8.85" cy="13.65" rx="8.4" ry="3.9" fill="#e5007d"/><path d="M0.45 8.77 v4.2 a8.4 3.9 0 0 0 16.8 0 v-4.2 z" fill="#e5007d"/><ellipse cx="8.85" cy="8.77" rx="8.4" ry="3.9" fill="#e5007d"/><path d="M0.45 3.90 v4.2 a8.4 3.9 0 0 0 16.8 0 v-4.2 z" fill="#e5007d"/><ellipse cx="8.85" cy="3.90" rx="8.4" ry="3.9" fill="#e5007d"/><path d="M1.35 24.40 a7.50 3.30 0 0 0 15.00 0" fill="none" stroke="#ff94cb" stroke-width="1.0"/><path d="M1.35 19.52 a7.50 3.30 0 0 0 15.00 0" fill="none" stroke="#ff94cb" stroke-width="1.0"/><path d="M1.35 14.65 a7.50 3.30 0 0 0 15.00 0" fill="none" stroke="#ff94cb" stroke-width="1.0"/><path d="M1.35 9.77 a7.50 3.30 0 0 0 15.00 0" fill="none" stroke="#ff94cb" stroke-width="1.0"/><ellipse cx="8.85" cy="3.75" rx="6.3" ry="2.45" fill="#b9d6f2"/><path d="M5.65 3.40 q1.6 1.7 3.2 0.2 q1.6 1.5 3.2 -0.2" fill="none" stroke="#7a1a6a" stroke-width="0.9"/></g><g transform="translate(18.00,0)"><path d="M0.45 23.40 v4.2 a8.4 3.9 0 0 0 16.8 0 v-4.2 z" fill="#e5007d"/><ellipse cx="8.85" cy="23.40" rx="8.4" ry="3.9" fill="#e5007d"/><path d="M0.45 18.52 v4.2 a8.4 3.9 0 0 0 16.8 0 v-4.2 z" fill="#e5007d"/><ellipse cx="8.85" cy="18.52" rx="8.4" ry="3.9" fill="#e5007d"/><path d="M0.45 13.65 v4.2 a8.4 3.9 0 0 0 16.8 0 v-4.2 z" fill="#e5007d"/><ellipse cx="8.85" cy="13.65" rx="8.4" ry="3.9" fill="#e5007d"/><path d="M0.45 8.77 v4.2 a8.4 3.9 0 0 0 16.8 0 v-4.2 z" fill="#e5007d"/><ellipse cx="8.85" cy="8.77" rx="8.4" ry="3.9" fill="#e5007d"/><path d="M0.45 3.90 v4.2 a8.4 3.9 0 0 0 16.8 0 v-4.2 z" fill="#e5007d"/><ellipse cx="8.85" cy="3.90" rx="8.4" ry="3.9" fill="#e5007d"/><path d="M1.35 24.40 a7.50 3.30 0 0 0 15.00 0" fill="none" stroke="#ff94cb" stroke-width="1.0"/><path d="M1.35 19.52 a7.50 3.30 0 0 0 15.00 0" fill="none" stroke="#ff94cb" stroke-width="1.0"/><path d="M1.35 14.65 a7.50 3.30 0 0 0 15.00 0" fill="none" stroke="#ff94cb" stroke-width="1.0"/><path d="M1.35 9.77 a7.50 3.30 0 0 0 15.00 0" fill="none" stroke="#ff94cb" stroke-width="1.0"/><ellipse cx="8.85" cy="3.75" rx="6.3" ry="2.45" fill="#b9d6f2"/><path d="M5.65 3.40 q1.6 1.7 3.2 0.2 q1.6 1.5 3.2 -0.2" fill="none" stroke="#7a1a6a" stroke-width="0.9"/></g><g transform="translate(36.00,0)"><path d="M0.45 23.40 v4.2 a8.4 3.9 0 0 0 16.8 0 v-4.2 z" fill="#e5007d"/><ellipse cx="8.85" cy="23.40" rx="8.4" ry="3.9" fill="#e5007d"/><path d="M0.45 18.52 v4.2 a8.4 3.9 0 0 0 16.8 0 v-4.2 z" fill="#e5007d"/><ellipse cx="8.85" cy="18.52" rx="8.4" ry="3.9" fill="#e5007d"/><path d="M1.35 24.40 a7.50 3.30 0 0 0 15.00 0" fill="none" stroke="#ff94cb" stroke-width="1.0"/><ellipse cx="8.85" cy="18.38" rx="6.3" ry="2.45" fill="#b9d6f2"/><path d="M5.65 18.02 q1.6 1.7 3.2 0.2 q1.6 1.5 3.2 -0.2" fill="none" stroke="#7a1a6a" stroke-width="0.9"/></g></svg>
<span class="t" style="left:702.50px;top:524.27px;font:bold 17.64px/17.64px 'Liberation Sans',sans-serif;color:#1d1d1b;transform:scaleX(1.2232);-webkit-text-stroke:0.528px #1d1d1b;">2</span>
<span class="t" style="left:714.50px;top:518.88px;font:bold 24px/24px 'Liberation Sans',sans-serif;color:#1d1d1b;transform:scaleX(0.8998);">,</span>
<span class="t" style="left:720.50px;top:522.84px;font:bold 24px/24px 'Liberation Sans',sans-serif;color:#1d1d1b;transform:scaleX(1.0489);">4</span>
<svg style="left:47.00px;top:502.00px;" width="57" height="56" viewBox="0 0 800 786"><g fill="#fff">
<polygon points="110,228 162,180 515,535 465,585"/>
<polygon points="480,598 530,548 548,566 498,616"/>
<polygon points="508,628 558,578 570,590 520,640"/>
<path d="M548 548 C535 470 640 450 655 385 C662 345 648 318 640 292 C700 318 745 375 705 435 C672 482 590 480 562 552 Z"/>
<path d="M578 250 C545 290 600 335 642 372 C625 325 585 300 590 258 Z"/>
</g><line x1="228" y1="300" x2="250" y2="282" stroke="#e5007d" stroke-width="7"/></svg>
<div style="left:47.00px;top:563.20px;width:56.80px;height:56.30px;background:#e5007d;"></div>
<div style="left:103.70px;top:563.20px;width:115.90px;height:56.30px;background:#f19ec7;"></div>
<div style="left:224.70px;top:563.20px;width:173.00px;height:56.30px;background:#7ecff3;"></div>
<div style="left:402.00px;top:563.20px;width:173.00px;height:56.30px;background:#7ecff3;"></div>
<div style="left:580.00px;top:563.20px;width:173.00px;height:56.30px;background:#7ecff3;"></div>
<span class="t" style="left:120.00px;top:574.36px;font:italic bold 16px/16px 'Liberation Sans',sans-serif;color:#2b1a2e;transform:scaleX(0.8725);">Ongezonde</span>
<span class="t" style="left:120.00px;top:592.26px;font:italic bold 16px/16px 'Liberation Sans',sans-serif;color:#2b1a2e;transform:scaleX(0.8396);">voeding</span>
<svg style="left:235.30px;top:576.10px;" width="86" height="31.6" viewBox="0 0 86 31.6"><defs><clipPath id="c235_576"><rect x="0" y="0" width="86" height="31.6" rx="15.8" ry="15.8"/></clipPath>
<linearGradient id="g235_576" x1="0" y1="0" x2="0" y2="1"><stop offset="0" stop-color="#ffffff"/><stop offset="0.55" stop-color="#fbfbfb"/><stop offset="1" stop-color="#dcdcdc"/></linearGradient>
<linearGradient id="h235_576" x1="0" y1="0" x2="0" y2="1"><stop offset="0" stop-color="#e5007d"/><stop offset="0.6" stop-color="#e0047a"/><stop offset="1" stop-color="#c4006a"/></linearGradient></defs>
<ellipse cx="46.0" cy="32.1" rx="39.0" ry="2.4" fill="#3a7ea0" opacity="0.28"/>
<g clip-path="url(#c235_576)"><rect x="0" y="0" width="86" height="31.6" fill="url(#g235_576)"/>
<rect x="0" y="0" width="69.7" height="31.6" fill="url(#h235_576)"/>
<rect x="42.4" y="0" width="0.9" height="31.6" fill="#000" opacity="0.13"/></g></svg>
<span class="t" style="left:333.60px;top:580.28px;font:24px/24px 'Liberation Sans',sans-serif;color:#1d1d1b;-webkit-text-stroke:0.5px #1d1d1b;">8</span>
<span class="t" style="left:346.90px;top:580.28px;font:24px/24px 'Liberation Sans',sans-serif;color:#1d1d1b;transform:scaleX(0.8998);-webkit-text-stroke:0.5px #1d1d1b;">,</span>
<span class="t" style="left:352.90px;top:585.67px;font:17.64px/17.64px 'Liberation Sans',sans-serif;color:#1d1d1b;transform:scaleX(0.8766);-webkit-text-stroke:0.788px #1d1d1b;">1</span>
<span class="t" style="left:361.50px;top:580.28px;font:24px/24px 'Liberation Sans',sans-serif;color:#1d1d1b;transform:scaleX(1.0075);-webkit-text-stroke:0.5px #1d1d1b;">%</span>
<svg style="left:411.00px;top:581.90px;" width="90" height="45" viewBox="0 0 90 45"><g fill="#e5007d"><g transform="translate(0.00,0.00)"><path d="M4.375 0C5.6 0 6.45 .9 6.45 2.25C6.45 3.3 5.95 4.2 5.35 4.7C5.1 4.9 5.15 5.3 5.5 5.5L7.6 6.45C8.4 6.85 8.75 7.6 8.75 8.5V10H0V8.5C0 7.6 .35 6.85 1.15 6.45L3.25 5.5C3.6 5.3 3.65 4.9 3.4 4.7C2.8 4.2 2.3 3.3 2.3 2.25C2.3 .9 3.15 0 4.375 0Z"/></g><g transform="translate(11.54,0.00)"><path d="M4.375 0C5.6 0 6.45 .9 6.45 2.25C6.45 3.3 5.95 4.2 5.35 4.7C5.1 4.9 5.15 5.3 5.5 5.5L7.6 6.45C8.4 6.85 8.75 7.6 8.75 8.5V10H0V8.5C0 7.6 .35 6.85 1.15 6.45L3.25 5.5C3.6 5.3 3.65 4.9 3.4 4.7C2.8 4.2 2.3 3.3 2.3 2.25C2.3 .9 3.15 0 4.375 0Z"/></g><g transform="translate(23.08,0.00)"><path d="M4.375 0C5.6 0 6.45 .9 6.45 2.25C6.45 3.3 5.95 4.2 5.35 4.7C5.1 4.9 5.15 5.3 5.5 5.5L7.6 6.45C8.4 6.85 8.75 7.6 8.75 8.5V10H0V8.5C0 7.6 .35 6.85 1.15 6.45L3.25 5.5C3.6 5.3 3.65 4.9 3.4 4.7C2.8 4.2 2.3 3.3 2.3 2.25C2.3 .9 3.15 0 4.375 0Z"/></g><g transform="translate(34.62,0.00)"><path d="M4.375 0C5.6 0 6.45 .9 6.45 2.25C6.45 3.3 5.95 4.2 5.35 4.7C5.1 4.9 5.15 5.3 5.5 5.5L7.6 6.45C8.4 6.85 8.75 7.6 8.75 8.5V10H0V8.5C0 7.6 .35 6.85 1.15 6.45L3.25 5.5C3.6 5.3 3.65 4.9 3.4 4.7C2.8 4.2 2.3 3.3 2.3 2.25C2.3 .9 3.15 0 4.375 0Z"/></g><g transform="translate(46.16,0.00)"><path d="M4.375 0C5.6 0 6.45 .9 6.45 2.25C6.45 3.3 5.95 4.2 5.35 4.7C5.1 4.9 5.15 5.3 5.5 5.5L7.6 6.45C8.4 6.85 8.75 7.6 8.75 8.5V10H0V8.5C0 7.6 .35 6.85 1.15 6.45L3.25 5.5C3.6 5.3 3.65 4.9 3.4 4.7C2.8 4.2 2.3 3.3 2.3 2.25C2.3 .9 3.15 0 4.375 0Z"/></g><g transform="translate(57.70,0.00)"><path d="M4.375 0C5.6 0 6.45 .9 6.45 2.25C6.45 3.3 5.95 4.2 5.35 4.7C5.1 4.9 5.15 5.3 5.5 5.5L7.6 6.45C8.4 6.85 8.75 7.6 8.75 8.5V10H0V8.5C0 7.6 .35 6.85 1.15 6.45L3.25 5.5C3.6 5.3 3.65 4.9 3.4 4.7C2.8 4.2 2.3 3.3 2.3 2.25C2.3 .9 3.15 0 4.375 0Z"/></g><g transform="translate(69.24,0.00)"><path d="M4.375 0C5.6 0 6.45 .9 6.45 2.25C6.45 3.3 5.95 4.2 5.35 4.7C5.1 4.9 5.15 5.3 5.5 5.5L7.6 6.45C8.4 6.85 8.75 7.6 8.75 8.5V10H0V8.5C0 7.6 .35 6.85 1.15 6.45L3.25 5.5C3.6 5.3 3.65 4.9 3.4 4.7C2.8 4.2 2.3 3.3 2.3 2.25C2.3 .9 3.15 0 4.375 0Z"/></g><g transform="translate(0.00,11.25)"><path d="M4.375 0C5.6 0 6.45 .9 6.45 2.25C6.45 3.3 5.95 4.2 5.35 4.7C5.1 4.9 5.15 5.3 5.5 5.5L7.6 6.45C8.4 6.85 8.75 7.6 8.75 8.5V10H0V8.5C0 7.6 .35 6.85 1.15 6.45L3.25 5.5C3.6 5.3 3.65 4.9 3.4 4.7C2.8 4.2 2.3 3.3 2.3 2.25C2.3 .9 3.15 0 4.375 0Z"/></g><g transform="translate(11.54,11.25)"><path d="M4.375 0C5.6 0 6.45 .9 6.45 2.25C6.45 3.3 5.95 4.2 5.35 4.7C5.1 4.9 5.15 5.3 5.5 5.5L7.6 6.45C8.4 6.85 8.75 7.6 8.75 8.5V10H0V8.5C0 7.6 .35 6.85 1.15 6.45L3.25 5.5C3.6 5.3 3.65 4.9 3.4 4.7C2.8 4.2 2.3 3.3 2.3 2.25C2.3 .9 3.15 0 4.375 0Z"/></g><g transform="translate(23.08,11.25)"><path d="M4.375 0C5.6 0 6.45 .9 6.45 2.25C6.45 3.3 5.95 4.2 5.35 4.7C5.1 4.9 5.15 5.3 5.5 5.5L7.6 6.45C8.4 6.85 8.75 7.6 8.75 8.5V10H0V8.5C0 7.6 .35 6.85 1.15 6.45L3.25 5.5C3.6 5.3 3.65 4.9 3.4 4.7C2.8 4.2 2.3 3.3 2.3 2.25C2.3 .9 3.15 0 4.375 0Z"/></g><g transform="translate(34.62,11.25)"><path d="M4.375 0C5.6 0 6.45 .9 6.45 2.25C6.45 3.3 5.95 4.2 5.35 4.7C5.1 4.9 5.15 5.3 5.5 5.5L7.6 6.45C8.4 6.85 8.75 7.6 8.75 8.5V10H0V8.5C0 7.6 .35 6.85 1.15 6.45L3.25 5.5C3.6 5.3 3.65 4.9 3.4 4.7C2.8 4.2 2.3 3.3 2.3 2.25C2.3 .9 3.15 0 4.375 0Z"/></g><g transform="translate(46.16,11.25)"><path d="M4.375 0C5.6 0 6.45 .9 6.45 2.25C6.45 3.3 5.95 4.2 5.35 4.7C5.1 4.9 5.15 5.3 5.5 5.5L7.6 6.45C8.4 6.85 8.75 7.6 8.75 8.5V10H0V8.5C0 7.6 .35 6.85 1.15 6.45L3.25 5.5C3.6 5.3 3.65 4.9 3.4 4.7C2.8 4.2 2.3 3.3 2.3 2.25C2.3 .9 3.15 0 4.375 0Z"/></g><g transform="translate(57.70,11.25)"><path d="M4.375 0C5.6 0 6.45 .9 6.45 2.25C6.45 3.3 5.95 4.2 5.35 4.7C5.1 4.9 5.15 5.3 5.5 5.5L7.6 6.45C8.4 6.85 8.75 7.6 8.75 8.5V10H0V8.5C0 7.6 .35 6.85 1.15 6.45L3.25 5.5C3.6 5.3 3.65 4.9 3.4 4.7C2.8 4.2 2.3 3.3 2.3 2.25C2.3 .9 3.15 0 4.375 0Z"/></g></g></svg>
<span class="t" style="left:521.40px;top:585.47px;font:bold 17.64px/17.64px 'Liberation Sans',sans-serif;color:#1d1d1b;transform:scaleX(0.8766);-webkit-text-stroke:0.528px #1d1d1b;">1</span>
<span class="t" style="left:530.00px;top:585.47px;font:bold 17.64px/17.64px 'Liberation Sans',sans-serif;color:#1d1d1b;transform:scaleX(1.2232);-webkit-text-stroke:0.528px #1d1d1b;">2</span>
<span class="t" style="left:542.00px;top:580.08px;font:bold 24px/24px 'Liberation Sans',sans-serif;color:#1d1d1b;transform:scaleX(0.8998);">,</span>
<span class="t" style="left:548.00px;top:584.04px;font:bold 24px/24px 'Liberation Sans',sans-serif;color:#1d1d1b;transform:scaleX(0.9739);">9</span>
<svg style="left:589.50px;top:575.45px;" width="110" height="32" viewBox="0 0 110 32"><g transform="translate(0.00,0)"><path d="M0.45 23.40 v4.2 a8.4 3.9 0 0 0 16.8 0 v-4.2 z" fill="#e5007d"/><ellipse cx="8.85" cy="23.40" rx="8.4" ry="3.9" fill="#e5007d"/><path d="M0.45 18.52 v4.2 a8.4 3.9 0 0 0 16.8 0 v-4.2 z" fill="#e5007d"/><ellipse cx="8.85" cy="18.52" rx="8.4" ry="3.9" fill="#e5007d"/><path d="M0.45 13.65 v4.2 a8.4 3.9 0 0 0 16.8 0 v-4.2 z" fill="#e5007d"/><ellipse cx="8.85" cy="13.65" rx="8.4" ry="3.9" fill="#e5007d"/><path d="M0.45 8.77 v4.2 a8.4 3.9 0 0 0 16.8 0 v-4.2 z" fill="#e5007d"/><ellipse cx="8.85" cy="8.77" rx="8.4" ry="3.9" fill="#e5007d"/><path d="M0.45 3.90 v4.2 a8.4 3.9 0 0 0 16.8 0 v-4.2 z" fill="#e5007d"/><ellipse cx="8.85" cy="3.90" rx="8.4" ry="3.9" fill="#e5007d"/><path d="M1.35 24.40 a7.50 3.30 0 0 0 15.00 0" fill="none" stroke="#ff94cb" stroke-width="1.0"/><path d="M1.35 19.52 a7.50 3.30 0 0 0 15.00 0" fill="none" stroke="#ff94cb" stroke-width="1.0"/><path d="M1.35 14.65 a7.50 3.30 0 0 0 15.00 0" fill="none" stroke="#ff94cb" stroke-width="1.0"/><path d="M1.35 9.77 a7.50 3.30 0 0 0 15.00 0" fill="none" stroke="#ff94cb" stroke-width="1.0"/><ellipse cx="8.85" cy="3.75" rx="6.3" ry="2.45" fill="#b9d6f2"/><path d="M5.65 3.40 q1.6 1.7 3.2 0.2 q1.6 1.5 3.2 -0.2" fill="none" stroke="#7a1a6a" stroke-width="0.9"/></g><g transform="translate(18.00,0)"><path d="M0.45 23.40 v4.2 a8.4 3.9 0 0 0 16.8 0 v-4.2 z" fill="#e5007d"/><ellipse cx="8.85" cy="23.40" rx="8.4" ry="3.9" fill="#e5007d"/><path d="M0.45 18.52 v4.2 a8.4 3.9 0 0 0 16.8 0 v-4.2 z" fill="#e5007d"/><ellipse cx="8.85" cy="18.52" rx="8.4" ry="3.9" fill="#e5007d"/><path d="M0.45 13.65 v4.2 a8.4 3.9 0 0 0 16.8 0 v-4.2 z" fill="#e5007d"/><ellipse cx="8.85" cy="13.65" rx="8.4" ry="3.9" fill="#e5007d"/><path d="M0.45 8.77 v4.2 a8.4 3.9 0 0 0 16.8 0 v-4.2 z" fill="#e5007d"/><ellipse cx="8.85" cy="8.77" rx="8.4" ry="3.9" fill="#e5007d"/><path d="M0.45 3.90 v4.2 a8.4 3.9 0 0 0 16.8 0 v-4.2 z" fill="#e5007d"/><ellipse cx="8.85" cy="3.90" rx="8.4" ry="3.9" fill="#e5007d"/><path d="M1.35 24.40 a7.50 3.30 0 0 0 15.00 0" fill="none" stroke="#ff94cb" stroke-width="1.0"/><path d="M1.35 19.52 a7.50 3.30 0 0 0 15.00 0" fill="none" stroke="#ff94cb" stroke-width="1.0"/><path d="M1.35 14.65 a7.50 3.30 0 0 0 15.00 0" fill="none" stroke="#ff94cb" stroke-width="1.0"/><path d="M1.35 9.77 a7.50 3.30 0 0 0 15.00 0" fill="none" stroke="#ff94cb" stroke-width="1.0"/><ellipse cx="8.85" cy="3.75" rx="6.3" ry="2.45" fill="#b9d6f2"/><path d="M5.65 3.40 q1.6 1.7 3.2 0.2 q1.6 1.5 3.2 -0.2" fill="none" stroke="#7a1a6a" stroke-width="0.9"/></g><g transform="translate(36.00,0)"><path d="M0.45 23.40 v4.2 a8.4 3.9 0 0 0 16.8 0 v-4.2 z" fill="#e5007d"/><ellipse cx="8.85" cy="23.40" rx="8.4" ry="3.9" fill="#e5007d"/><path d="M0.45 18.52 v4.2 a8.4 3.9 0 0 0 16.8 0 v-4.2 z" fill="#e5007d"/><ellipse cx="8.85" cy="18.52" rx="8.4" ry="3.9" fill="#e5007d"/><path d="M0.45 13.65 v4.2 a8.4 3.9 0 0 0 16.8 0 v-4.2 z" fill="#e5007d"/><ellipse cx="8.85" cy="13.65" rx="8.4" ry="3.9" fill="#e5007d"/><path d="M0.45 8.77 v4.2 a8.4 3.9 0 0 0 16.8 0 v-4.2 z" fill="#e5007d"/><ellipse cx="8.85" cy="8.77" rx="8.4" ry="3.9" fill="#e5007d"/><path d="M0.45 3.90 v4.2 a8.4 3.9 0 0 0 16.8 0 v-4.2 z" fill="#e5007d"/><ellipse cx="8.85" cy="3.90" rx="8.4" ry="3.9" fill="#e5007d"/><path d="M1.35 24.40 a7.50 3.30 0 0 0 15.00 0" fill="none" stroke="#ff94cb" stroke-width="1.0"/><path d="M1.35 19.52 a7.50 3.30 0 0 0 15.00 0" fill="none" stroke="#ff94cb" stroke-width="1.0"/><path d="M1.35 14.65 a7.50 3.30 0 0 0 15.00 0" fill="none" stroke="#ff94cb" stroke-width="1.0"/><path d="M1.35 9.77 a7.50 3.30 0 0 0 15.00 0" fill="none" stroke="#ff94cb" stroke-width="1.0"/><ellipse cx="8.85" cy="3.75" rx="6.3" ry="2.45" fill="#b9d6f2"/><path d="M5.65 3.40 q1.6 1.7 3.2 0.2 q1.6 1.5 3.2 -0.2" fill="none" stroke="#7a1a6a" stroke-width="0.9"/></g><g transform="translate(54.00,0)"><path d="M0.45 23.40 v4.2 a8.4 3.9 0 0 0 16.8 0 v-4.2 z" fill="#e5007d"/><ellipse cx="8.85" cy="23.40" rx="8.4" ry="3.9" fill="#e5007d"/><path d="M0.45 18.52 v4.2 a8.4 3.9 0 0 0 16.8 0 v-4.2 z" fill="#e5007d"/><ellipse cx="8.85" cy="18.52" rx="8.4" ry="3.9" fill="#e5007d"/><path d="M0.45 13.65 v4.2 a8.4 3.9 0 0 0 16.8 0 v-4.2 z" fill="#e5007d"/><ellipse cx="8.85" cy="13.65" rx="8.4" ry="3.9" fill="#e5007d"/><path d="M0.45 8.77 v4.2 a8.4 3.9 0 0 0 16.8 0 v-4.2 z" fill="#e5007d"/><ellipse cx="8.85" cy="8.77" rx="8.4" ry="3.9" fill="#e5007d"/><path d="M0.45 3.90 v4.2 a8.4 3.9 0 0 0 16.8 0 v-4.2 z" fill="#e5007d"/><ellipse cx="8.85" cy="3.90" rx="8.4" ry="3.9" fill="#e5007d"/><path d="M1.35 24.40 a7.50 3.30 0 0 0 15.00 0" fill="none" stroke="#ff94cb" stroke-width="1.0"/><path d="M1.35 19.52 a7.50 3.30 0 0 0 15.00 0" fill="none" stroke="#ff94cb" stroke-width="1.0"/><path d="M1.35 14.65 a7.50 3.30 0 0 0 15.00 0" fill="none" stroke="#ff94cb" stroke-width="1.0"/><path d="M1.35 9.77 a7.50 3.30 0 0 0 15.00 0" fill="none" stroke="#ff94cb" stroke-width="1.0"/><ellipse cx="8.85" cy="3.75" rx="6.3" ry="2.45" fill="#b9d6f2"/><path d="M5.65 3.40 q1.6 1.7 3.2 0.2 q1.6 1.5 3.2 -0.2" fill="none" stroke="#7a1a6a" stroke-width="0.9"/></g><g transform="translate(72.00,0)"><path d="M0.45 23.40 v4.2 a8.4 3.9 0 0 0 16.8 0 v-4.2 z" fill="#e5007d"/><ellipse cx="8.85" cy="23.40" rx="8.4" ry="3.9" fill="#e5007d"/><path d="M0.45 18.52 v4.2 a8.4 3.9 0 0 0 16.8 0 v-4.2 z" fill="#e5007d"/><ellipse cx="8.85" cy="18.52" rx="8.4" ry="3.9" fill="#e5007d"/><path d="M0.45 13.65 v4.2 a8.4 3.9 0 0 0 16.8 0 v-4.2 z" fill="#e5007d"/><ellipse cx="8.85" cy="13.65" rx="8.4" ry="3.9" fill="#e5007d"/><path d="M0.45 8.77 v4.2 a8.4 3.9 0 0 0 16.8 0 v-4.2 z" fill="#e5007d"/><ellipse cx="8.85" cy="8.77" rx="8.4" ry="3.9" fill="#e5007d"/><path d="M0.45 3.90 v4.2 a8.4 3.9 0 0 0 16.8 0 v-4.2 z" fill="#e5007d"/><ellipse cx="8.85" cy="3.90" rx="8.4" ry="3.9" fill="#e5007d"/><path d="M1.35 24.40 a7.50 3.30 0 0 0 15.00 0" fill="none" stroke="#ff94cb" stroke-width="1.0"/><path d="M1.35 19.52 a7.50 3.30 0 0 0 15.00 0" fill="none" stroke="#ff94cb" stroke-width="1.0"/><path d="M1.35 14.65 a7.50 3.30 0 0 0 15.00 0" fill="none" stroke="#ff94cb" stroke-width="1.0"/><path d="M1.35 9.77 a7.50 3.30 0 0 0 15.00 0" fill="none" stroke="#ff94cb" stroke-width="1.0"/><ellipse cx="8.85" cy="3.75" rx="6.3" ry="2.45" fill="#b9d6f2"/><path d="M5.65 3.40 q1.6 1.7 3.2 0.2 q1.6 1.5 3.2 -0.2" fill="none" stroke="#7a1a6a" stroke-width="0.9"/></g><g transform="translate(90.00,0)"><path d="M0.45 23.40 v4.2 a8.4 3.9 0 0 0 16.8 0 v-4.2 z" fill="#e5007d"/><ellipse cx="8.85" cy="23.40" rx="8.4" ry="3.9" fill="#e5007d"/><path d="M0.45 18.52 v4.2 a8.4 3.9 0 0 0 16.8 0 v-4.2 z" fill="#e5007d"/><ellipse cx="8.85" cy="18.52" rx="8.4" ry="3.9" fill="#e5007d"/><path d="M0.45 13.65 v4.2 a8.4 3.9 0 0 0 16.8 0 v-4.2 z" fill="#e5007d"/><ellipse cx="8.85" cy="13.65" rx="8.4" ry="3.9" fill="#e5007d"/><path d="M0.45 8.77 v4.2 a8.4 3.9 0 0 0 16.8 0 v-4.2 z" fill="#e5007d"/><ellipse cx="8.85" cy="8.77" rx="8.4" ry="3.9" fill="#e5007d"/><path d="M0.45 3.90 v4.2 a8.4 3.9 0 0 0 16.8 0 v-4.2 z" fill="#e5007d"/><ellipse cx="8.85" cy="3.90" rx="8.4" ry="3.9" fill="#e5007d"/><path d="M1.35 24.40 a7.50 3.30 0 0 0 15.00 0" fill="none" stroke="#ff94cb" stroke-width="1.0"/><path d="M1.35 19.52 a7.50 3.30 0 0 0 15.00 0" fill="none" stroke="#ff94cb" stroke-width="1.0"/><path d="M1.35 14.65 a7.50 3.30 0 0 0 15.00 0" fill="none" stroke="#ff94cb" stroke-width="1.0"/><path d="M1.35 9.77 a7.50 3.30 0 0 0 15.00 0" fill="none" stroke="#ff94cb" stroke-width="1.0"/><ellipse cx="8.85" cy="3.75" rx="6.3" ry="2.45" fill="#b9d6f2"/><path d="M5.65 3.40 q1.6 1.7 3.2 0.2 q1.6 1.5 3.2 -0.2" fill="none" stroke="#7a1a6a" stroke-width="0.9"/></g></svg>
<span class="t" style="left:701.70px;top:580.08px;font:bold 24px/24px 'Liberation Sans',sans-serif;color:#1d1d1b;transform:scaleX(0.9739);">6</span>
<span class="t" style="left:714.70px;top:580.08px;font:bold 24px/24px 'Liberation Sans',sans-serif;color:#1d1d1b;transform:scaleX(0.8998);">,</span>
<span class="t" style="left:720.70px;top:585.47px;font:bold 17.64px/17.64px 'Liberation Sans',sans-serif;color:#1d1d1b;transform:scaleX(1.4066);-webkit-text-stroke:0.528px #1d1d1b;">0</span>
<svg style="left:47.00px;top:563.00px;" width="57" height="56" viewBox="0 0 800 786"><path d="M378 185 C262 205 228 325 262 400 C300 470 420 462 446 380 C466 320 470 275 464 240" fill="none" stroke="#fff" stroke-width="78" stroke-linecap="round"/>
<circle cx="392" cy="160" r="15" fill="#fff"/><circle cx="468" cy="198" r="15" fill="#fff"/>
<path d="M205 628 C225 560 340 475 425 450 C490 435 525 470 520 512 C508 575 420 602 330 628 C280 642 205 665 205 628 Z" fill="#fff" stroke="#e5007d" stroke-width="14"/>
<path d="M498 470 C520 400 560 362 588 345 C582 390 592 420 602 435 C645 440 690 452 702 482 C660 512 580 502 518 492 Z" fill="#fff"/>
<path d="M352 492 q28 18 30 44 M292 542 q22 14 24 36" stroke="#e5007d" stroke-width="8" fill="none"/></svg>
<div style="left:47.00px;top:624.40px;width:56.80px;height:56.30px;background:#e5007d;"></div>
<div style="left:103.70px;top:624.40px;width:115.90px;height:56.30px;background:#f19ec7;"></div>
<div style="left:224.70px;top:624.40px;width:173.00px;height:56.30px;background:#7ecff3;"></div>
<div style="left:402.00px;top:624.40px;width:173.00px;height:56.30px;background:#7ecff3;"></div>
<div style="left:580.00px;top:624.40px;width:173.00px;height:56.30px;background:#7ecff3;"></div>
<span class="t" style="left:120.00px;top:635.56px;font:italic bold 16px/16px 'Liberation Sans',sans-serif;color:#2b1a2e;transform:scaleX(0.8821);">Weinig</span>
<span class="t" style="left:120.00px;top:653.46px;font:italic bold 16px/16px 'Liberation Sans',sans-serif;color:#2b1a2e;transform:scaleX(0.8674);">beweging</span>
<svg style="left:235.30px;top:637.30px;" width="86" height="31.6" viewBox="0 0 86 31.6"><defs><clipPath id="c235_637"><rect x="0" y="0" width="86" height="31.6" rx="15.8" ry="15.8"/></clipPath>
<linearGradient id="g235_637" x1="0" y1="0" x2="0" y2="1"><stop offset="0" stop-color="#ffffff"/><stop offset="0.55" stop-color="#fbfbfb"/><stop offset="1" stop-color="#dcdcdc"/></linearGradient>
<linearGradient id="h235_637" x1="0" y1="0" x2="0" y2="1"><stop offset="0" stop-color="#e5007d"/><stop offset="0.6" stop-color="#e0047a"/><stop offset="1" stop-color="#c4006a"/></linearGradient></defs>
<ellipse cx="46.0" cy="32.1" rx="39.0" ry="2.4" fill="#3a7ea0" opacity="0.28"/>
<g clip-path="url(#c235_637)"><rect x="0" y="0" width="86" height="31.6" fill="url(#g235_637)"/>
<rect x="0" y="0" width="19.8" height="31.6" fill="url(#h235_637)"/>
<rect x="42.4" y="0" width="0.9" height="31.6" fill="#000" opacity="0.13"/></g></svg>
<span class="t" style="left:331.50px;top:646.87px;font:17.64px/17.64px 'Liberation Sans',sans-serif;color:#1d1d1b;transform:scaleX(1.2232);-webkit-text-stroke:0.788px #1d1d1b;">2</span>
<span class="t" style="left:343.50px;top:641.48px;font:24px/24px 'Liberation Sans',sans-serif;color:#1d1d1b;transform:scaleX(0.8998);-webkit-text-stroke:0.5px #1d1d1b;">,</span>
<span class="t" style="left:349.50px;top:645.44px;font:24px/24px 'Liberation Sans',sans-serif;color:#1d1d1b;transform:scaleX(0.8990);-webkit-text-stroke:0.5px #1d1d1b;">3</span>
<span class="t" style="left:361.50px;top:641.48px;font:24px/24px 'Liberation Sans',sans-serif;color:#1d1d1b;transform:scaleX(1.0075);-webkit-text-stroke:0.5px #1d1d1b;">%</span>
<svg style="left:411.00px;top:649.40px;" width="90" height="45" viewBox="0 0 90 45"><g fill="#e5007d"><g transform="translate(0.00,0.00)"><path d="M4.375 0C5.6 0 6.45 .9 6.45 2.25C6.45 3.3 5.95 4.2 5.35 4.7C5.1 4.9 5.15 5.3 5.5 5.5L7.6 6.45C8.4 6.85 8.75 7.6 8.75 8.5V10H0V8.5C0 7.6 .35 6.85 1.15 6.45L3.25 5.5C3.6 5.3 3.65 4.9 3.4 4.7C2.8 4.2 2.3 3.3 2.3 2.25C2.3 .9 3.15 0 4.375 0Z"/></g><g transform="translate(11.54,0.00)"><path d="M4.375 0C5.6 0 6.45 .9 6.45 2.25C6.45 3.3 5.95 4.2 5.35 4.7C5.1 4.9 5.15 5.3 5.5 5.5L7.6 6.45C8.4 6.85 8.75 7.6 8.75 8.5V10H0V8.5C0 7.6 .35 6.85 1.15 6.45L3.25 5.5C3.6 5.3 3.65 4.9 3.4 4.7C2.8 4.2 2.3 3.3 2.3 2.25C2.3 .9 3.15 0 4.375 0Z"/></g><g transform="translate(23.08,0.00)"><path d="M4.375 0C5.6 0 6.45 .9 6.45 2.25C6.45 3.3 5.95 4.2 5.35 4.7C5.1 4.9 5.15 5.3 5.5 5.5L7.6 6.45C8.4 6.85 8.75 7.6 8.75 8.5V10H0V8.5C0 7.6 .35 6.85 1.15 6.45L3.25 5.5C3.6 5.3 3.65 4.9 3.4 4.7C2.8 4.2 2.3 3.3 2.3 2.25C2.3 .9 3.15 0 4.375 0Z"/></g><g transform="translate(34.62,0.00)"><path d="M4.375 0C5.6 0 6.45 .9 6.45 2.25C6.45 3.3 5.95 4.2 5.35 4.7C5.1 4.9 5.15 5.3 5.5 5.5L7.6 6.45C8.4 6.85 8.75 7.6 8.75 8.5V10H0V8.5C0 7.6 .35 6.85 1.15 6.45L3.25 5.5C3.6 5.3 3.65 4.9 3.4 4.7C2.8 4.2 2.3 3.3 2.3 2.25C2.3 .9 3.15 0 4.375 0Z"/></g><g transform="translate(46.16,0.00)"><path d="M4.375 0C5.6 0 6.45 .9 6.45 2.25C6.45 3.3 5.95 4.2 5.35 4.7C5.1 4.9 5.15 5.3 5.5 5.5L7.6 6.45C8.4 6.85 8.75 7.6 8.75 8.5V10H0V8.5C0 7.6 .35 6.85 1.15 6.45L3.25 5.5C3.6 5.3 3.65 4.9 3.4 4.7C2.8 4.2 2.3 3.3 2.3 2.25C2.3 .9 3.15 0 4.375 0Z"/></g><g transform="translate(57.70,0.00)"><path d="M4.375 0C5.6 0 6.45 .9 6.45 2.25C6.45 3.3 5.95 4.2 5.35 4.7C5.1 4.9 5.15 5.3 5.5 5.5L7.6 6.45C8.4 6.85 8.75 7.6 8.75 8.5V10H0V8.5C0 7.6 .35 6.85 1.15 6.45L3.25 5.5C3.6 5.3 3.65 4.9 3.4 4.7C2.8 4.2 2.3 3.3 2.3 2.25C2.3 .9 3.15 0 4.375 0Z"/></g></g></svg>
<span class="t" style="left:529.70px;top:645.24px;font:bold 24px/24px 'Liberation Sans',sans-serif;color:#1d1d1b;transform:scaleX(0.8990);">5</span>
<span class="t" style="left:541.70px;top:641.28px;font:bold 24px/24px 'Liberation Sans',sans-serif;color:#1d1d1b;transform:scaleX(0.8998);">,</span>
<span class="t" style="left:547.70px;top:641.28px;font:bold 24px/24px 'Liberation Sans',sans-serif;color:#1d1d1b;">8</span>
<svg style="left:589.50px;top:636.65px;" width="110" height="32" viewBox="0 0 110 32"><g transform="translate(0.00,0)"><path d="M0.45 23.40 v4.2 a8.4 3.9 0 0 0 16.8 0 v-4.2 z" fill="#e5007d"/><ellipse cx="8.85" cy="23.40" rx="8.4" ry="3.9" fill="#e5007d"/><path d="M0.45 18.52 v4.2 a8.4 3.9 0 0 0 16.8 0 v-4.2 z" fill="#e5007d"/><ellipse cx="8.85" cy="18.52" rx="8.4" ry="3.9" fill="#e5007d"/><path d="M0.45 13.65 v4.2 a8.4 3.9 0 0 0 16.8 0 v-4.2 z" fill="#e5007d"/><ellipse cx="8.85" cy="13.65" rx="8.4" ry="3.9" fill="#e5007d"/><path d="M0.45 8.77 v4.2 a8.4 3.9 0 0 0 16.8 0 v-4.2 z" fill="#e5007d"/><ellipse cx="8.85" cy="8.77" rx="8.4" ry="3.9" fill="#e5007d"/><path d="M0.45 3.90 v4.2 a8.4 3.9 0 0 0 16.8 0 v-4.2 z" fill="#e5007d"/><ellipse cx="8.85" cy="3.90" rx="8.4" ry="3.9" fill="#e5007d"/><path d="M1.35 24.40 a7.50 3.30 0 0 0 15.00 0" fill="none" stroke="#ff94cb" stroke-width="1.0"/><path d="M1.35 19.52 a7.50 3.30 0 0 0 15.00 0" fill="none" stroke="#ff94cb" stroke-width="1.0"/><path d="M1.35 14.65 a7.50 3.30 0 0 0 15.00 0" fill="none" stroke="#ff94cb" stroke-width="1.0"/><path d="M1.35 9.77 a7.50 3.30 0 0 0 15.00 0" fill="none" stroke="#ff94cb" stroke-width="1.0"/><ellipse cx="8.85" cy="3.75" rx="6.3" ry="2.45" fill="#b9d6f2"/><path d="M5.65 3.40 q1.6 1.7 3.2 0.2 q1.6 1.5 3.2 -0.2" fill="none" stroke="#7a1a6a" stroke-width="0.9"/></g><g transform="translate(18.00,0)"><path d="M0.45 23.40 v4.2 a8.4 3.9 0 0 0 16.8 0 v-4.2 z" fill="#e5007d"/><ellipse cx="8.85" cy="23.40" rx="8.4" ry="3.9" fill="#e5007d"/><path d="M0.45 18.52 v4.2 a8.4 3.9 0 0 0 16.8 0 v-4.2 z" fill="#e5007d"/><ellipse cx="8.85" cy="18.52" rx="8.4" ry="3.9" fill="#e5007d"/><path d="M0.45 13.65 v4.2 a8.4 3.9 0 0 0 16.8 0 v-4.2 z" fill="#e5007d"/><ellipse cx="8.85" cy="13.65" rx="8.4" ry="3.9" fill="#e5007d"/><path d="M0.45 8.77 v4.2 a8.4 3.9 0 0 0 16.8 0 v-4.2 z" fill="#e5007d"/><ellipse cx="8.85" cy="8.77" rx="8.4" ry="3.9" fill="#e5007d"/><path d="M0.45 3.90 v4.2 a8.4 3.9 0 0 0 16.8 0 v-4.2 z" fill="#e5007d"/><ellipse cx="8.85" cy="3.90" rx="8.4" ry="3.9" fill="#e5007d"/><path d="M1.35 24.40 a7.50 3.30 0 0 0 15.00 0" fill="none" stroke="#ff94cb" stroke-width="1.0"/><path d="M1.35 19.52 a7.50 3.30 0 0 0 15.00 0" fill="none" stroke="#ff94cb" stroke-width="1.0"/><path d="M1.35 14.65 a7.50 3.30 0 0 0 15.00 0" fill="none" stroke="#ff94cb" stroke-width="1.0"/><path d="M1.35 9.77 a7.50 3.30 0 0 0 15.00 0" fill="none" stroke="#ff94cb" stroke-width="1.0"/><ellipse cx="8.85" cy="3.75" rx="6.3" ry="2.45" fill="#b9d6f2"/><path d="M5.65 3.40 q1.6 1.7 3.2 0.2 q1.6 1.5 3.2 -0.2" fill="none" stroke="#7a1a6a" stroke-width="0.9"/></g><g transform="translate(36.00,0)"><path d="M0.45 23.40 v4.2 a8.4 3.9 0 0 0 16.8 0 v-4.2 z" fill="#e5007d"/><ellipse cx="8.85" cy="23.40" rx="8.4" ry="3.9" fill="#e5007d"/><path d="M0.45 18.52 v4.2 a8.4 3.9 0 0 0 16.8 0 v-4.2 z" fill="#e5007d"/><ellipse cx="8.85" cy="18.52" rx="8.4" ry="3.9" fill="#e5007d"/><path d="M0.45 13.65 v4.2 a8.4 3.9 0 0 0 16.8 0 v-4.2 z" fill="#e5007d"/><ellipse cx="8.85" cy="13.65" rx="8.4" ry="3.9" fill="#e5007d"/><path d="M0.45 8.77 v4.2 a8.4 3.9 0 0 0 16.8 0 v-4.2 z" fill="#e5007d"/><ellipse cx="8.85" cy="8.77" rx="8.4" ry="3.9" fill="#e5007d"/><path d="M1.35 24.40 a7.50 3.30 0 0 0 15.00 0" fill="none" stroke="#ff94cb" stroke-width="1.0"/><path d="M1.35 19.52 a7.50 3.30 0 0 0 15.00 0" fill="none" stroke="#ff94cb" stroke-width="1.0"/><path d="M1.35 14.65 a7.50 3.30 0 0 0 15.00 0" fill="none" stroke="#ff94cb" stroke-width="1.0"/><ellipse cx="8.85" cy="8.62" rx="6.3" ry="2.45" fill="#b9d6f2"/><path d="M5.65 8.27 q1.6 1.7 3.2 0.2 q1.6 1.5 3.2 -0.2" fill="none" stroke="#7a1a6a" stroke-width="0.9"/></g></svg>
<span class="t" style="left:704.50px;top:646.67px;font:bold 17.64px/17.64px 'Liberation Sans',sans-serif;color:#1d1d1b;transform:scaleX(1.2232);-webkit-text-stroke:0.528px #1d1d1b;">2</span>
<span class="t" style="left:716.50px;top:641.28px;font:bold 24px/24px 'Liberation Sans',sans-serif;color:#1d1d1b;transform:scaleX(0.8998);">,</span>
<span class="t" style="left:722.50px;top:645.24px;font:bold 24px/24px 'Liberation Sans',sans-serif;color:#1d1d1b;transform:scaleX(0.8990);">7</span>
<svg style="left:47.00px;top:624.00px;" width="57" height="56" viewBox="0 0 800 786"><circle cx="268" cy="193" r="58" fill="#fff"/>
<path d="M236 300 C240 258 325 250 345 295 L385 400 L478 375 C512 368 528 385 533 410 L558 640 Q530 665 500 650 L452 482 L325 505 C292 508 275 485 268 460 Z" fill="#fff"/>
<path d="M488 395 L628 548 L588 575 L495 490 Z" fill="#fff"/>
<g fill="none" stroke="#fff" stroke-linecap="round" stroke-linejoin="round">
<path d="M197 348 L258 515 Q266 532 290 532 L425 530" stroke-width="30"/>
<path d="M268 545 L228 648 M375 545 L412 648" stroke-width="28"/></g></svg>
<div style="left:47.00px;top:685.60px;width:56.80px;height:56.30px;background:#e5007d;"></div>
<div style="left:103.70px;top:685.60px;width:115.90px;height:56.30px;background:#f19ec7;"></div>
<div style="left:224.70px;top:685.60px;width:173.00px;height:56.30px;background:#7ecff3;"></div>
<div style="left:402.00px;top:685.60px;width:173.00px;height:56.30px;background:#7ecff3;"></div>
<div style="left:580.00px;top:685.60px;width:173.00px;height:56.30px;background:#7ecff3;"></div>
<span class="t" style="left:120.00px;top:696.76px;font:italic bold 16px/16px 'Liberation Sans',sans-serif;color:#2b1a2e;transform:scaleX(0.8267);">Alcohol</span>
<span class="t" style="left:120.00px;top:714.66px;font:italic bold 16px/16px 'Liberation Sans',sans-serif;color:#2b1a2e;transform:scaleX(0.8825);">gebruik</span>
<svg style="left:235.30px;top:698.50px;" width="86" height="31.6" viewBox="0 0 86 31.6"><defs><clipPath id="c235_698"><rect x="0" y="0" width="86" height="31.6" rx="15.8" ry="15.8"/></clipPath>
<linearGradient id="g235_698" x1="0" y1="0" x2="0" y2="1"><stop offset="0" stop-color="#ffffff"/><stop offset="0.55" stop-color="#fbfbfb"/><stop offset="1" stop-color="#dcdcdc"/></linearGradient>
<linearGradient id="h235_698" x1="0" y1="0" x2="0" y2="1"><stop offset="0" stop-color="#e5007d"/><stop offset="0.6" stop-color="#e0047a"/><stop offset="1" stop-color="#c4006a"/></linearGradient></defs>
<ellipse cx="46.0" cy="32.1" rx="39.0" ry="2.4" fill="#3a7ea0" opacity="0.28"/>
<g clip-path="url(#c235_698)"><rect x="0" y="0" width="86" height="31.6" fill="url(#g235_698)"/>
<rect x="0" y="0" width="12.9" height="31.6" fill="url(#h235_698)"/>
<rect x="42.4" y="0" width="0.9" height="31.6" fill="#000" opacity="0.13"/></g></svg>
<span class="t" style="left:334.90px;top:708.07px;font:17.64px/17.64px 'Liberation Sans',sans-serif;color:#1d1d1b;transform:scaleX(0.8766);-webkit-text-stroke:0.788px #1d1d1b;">1</span>
<span class="t" style="left:343.50px;top:702.68px;font:24px/24px 'Liberation Sans',sans-serif;color:#1d1d1b;transform:scaleX(0.8998);-webkit-text-stroke:0.5px #1d1d1b;">,</span>
<span class="t" style="left:349.50px;top:706.64px;font:24px/24px 'Liberation Sans',sans-serif;color:#1d1d1b;transform:scaleX(0.8990);-webkit-text-stroke:0.5px #1d1d1b;">5</span>
<span class="t" style="left:361.50px;top:702.68px;font:24px/24px 'Liberation Sans',sans-serif;color:#1d1d1b;transform:scaleX(1.0075);-webkit-text-stroke:0.5px #1d1d1b;">%</span>
<svg style="left:411.00px;top:709.40px;" width="90" height="45" viewBox="0 0 90 45"><g fill="#e5007d"><g transform="translate(0.00,0.00)"><path d="M4.375 0C5.6 0 6.45 .9 6.45 2.25C6.45 3.3 5.95 4.2 5.35 4.7C5.1 4.9 5.15 5.3 5.5 5.5L7.6 6.45C8.4 6.85 8.75 7.6 8.75 8.5V10H0V8.5C0 7.6 .35 6.85 1.15 6.45L3.25 5.5C3.6 5.3 3.65 4.9 3.4 4.7C2.8 4.2 2.3 3.3 2.3 2.25C2.3 .9 3.15 0 4.375 0Z"/></g><g transform="translate(11.54,0.00)"><path d="M4.375 0C5.6 0 6.45 .9 6.45 2.25C6.45 3.3 5.95 4.2 5.35 4.7C5.1 4.9 5.15 5.3 5.5 5.5L7.6 6.45C8.4 6.85 8.75 7.6 8.75 8.5V10H0V8.5C0 7.6 .35 6.85 1.15 6.45L3.25 5.5C3.6 5.3 3.65 4.9 3.4 4.7C2.8 4.2 2.3 3.3 2.3 2.25C2.3 .9 3.15 0 4.375 0Z"/></g></g></svg>
<span class="t" style="left:533.10px;top:707.87px;font:bold 17.64px/17.64px 'Liberation Sans',sans-serif;color:#1d1d1b;transform:scaleX(0.8766);-webkit-text-stroke:0.528px #1d1d1b;">1</span>
<span class="t" style="left:541.70px;top:702.48px;font:bold 24px/24px 'Liberation Sans',sans-serif;color:#1d1d1b;transform:scaleX(0.8998);">,</span>
<span class="t" style="left:547.70px;top:702.48px;font:bold 24px/24px 'Liberation Sans',sans-serif;color:#1d1d1b;">8</span>
<svg style="left:589.50px;top:697.85px;" width="110" height="32" viewBox="0 0 110 32"><g transform="translate(0.00,0)"><path d="M0.45 23.40 v4.2 a8.4 3.9 0 0 0 16.8 0 v-4.2 z" fill="#e5007d"/><ellipse cx="8.85" cy="23.40" rx="8.4" ry="3.9" fill="#e5007d"/><path d="M0.45 18.52 v4.2 a8.4 3.9 0 0 0 16.8 0 v-4.2 z" fill="#e5007d"/><ellipse cx="8.85" cy="18.52" rx="8.4" ry="3.9" fill="#e5007d"/><path d="M0.45 13.65 v4.2 a8.4 3.9 0 0 0 16.8 0 v-4.2 z" fill="#e5007d"/><ellipse cx="8.85" cy="13.65" rx="8.4" ry="3.9" fill="#e5007d"/><path d="M0.45 8.77 v4.2 a8.4 3.9 0 0 0 16.8 0 v-4.2 z" fill="#e5007d"/><ellipse cx="8.85" cy="8.77" rx="8.4" ry="3.9" fill="#e5007d"/><path d="M0.45 3.90 v4.2 a8.4 3.9 0 0 0 16.8 0 v-4.2 z" fill="#e5007d"/><ellipse cx="8.85" cy="3.90" rx="8.4" ry="3.9" fill="#e5007d"/><path d="M1.35 24.40 a7.50 3.30 0 0 0 15.00 0" fill="none" stroke="#ff94cb" stroke-width="1.0"/><path d="M1.35 19.52 a7.50 3.30 0 0 0 15.00 0" fill="none" stroke="#ff94cb" stroke-width="1.0"/><path d="M1.35 14.65 a7.50 3.30 0 0 0 15.00 0" fill="none" stroke="#ff94cb" stroke-width="1.0"/><path d="M1.35 9.77 a7.50 3.30 0 0 0 15.00 0" fill="none" stroke="#ff94cb" stroke-width="1.0"/><ellipse cx="8.85" cy="3.75" rx="6.3" ry="2.45" fill="#b9d6f2"/><path d="M5.65 3.40 q1.6 1.7 3.2 0.2 q1.6 1.5 3.2 -0.2" fill="none" stroke="#7a1a6a" stroke-width="0.9"/></g></svg>
<span class="t" style="left:701.70px;top:707.87px;font:bold 17.64px/17.64px 'Liberation Sans',sans-serif;color:#1d1d1b;transform:scaleX(1.4066);-webkit-text-stroke:0.528px #1d1d1b;">0</span>
<span class="t" style="left:715.50px;top:702.48px;font:bold 24px/24px 'Liberation Sans',sans-serif;color:#1d1d1b;transform:scaleX(0.8998);">,</span>
<span class="t" style="left:721.50px;top:706.44px;font:bold 24px/24px 'Liberation Sans',sans-serif;color:#1d1d1b;transform:scaleX(0.9739);">9</span>
<svg style="left:47.00px;top:686.00px;" width="57" height="56" viewBox="0 0 800 786"><path d="M292 160 C262 180 240 400 400 470 C560 400 538 180 508 160 Z" fill="#fff"/>
<path d="M322 205 h156 C490 225 492 250 492 264 C440 250 368 250 312 268 C310 240 314 222 322 205Z" fill="#e5007d"/>
<path d="M303 275 C295 350 320 410 362 432" fill="none" stroke="#e5007d" stroke-width="9"/>
<rect x="378" y="455" width="44" height="180" fill="#fff"/><rect x="294" y="630" width="212" height="33" rx="14" fill="#fff"/></svg>
<div style="left:47.00px;top:761.25px;width:254.80px;height:1.70px;background:#0b72b5;"></div>
<div style="left:499.00px;top:761.25px;width:254.00px;height:1.70px;background:#0b72b5;"></div>
<span class="t" style="left:308.30px;top:750.82px;font:bold 21px/21px 'Liberation Sans',sans-serif;color:#0b72b5;transform:scaleX(0.9320);">Persoonsgebonden</span>
<div style="left:47.00px;top:784.00px;width:56.80px;height:56.30px;background:#e5007d;"></div>
<div style="left:103.70px;top:784.00px;width:115.90px;height:56.30px;background:#f19ec7;"></div>
<div style="left:224.70px;top:784.00px;width:173.00px;height:56.30px;background:#7ecff3;"></div>
<div style="left:402.00px;top:784.00px;width:173.00px;height:56.30px;background:#7ecff3;"></div>
<div style="left:580.00px;top:784.00px;width:173.00px;height:56.30px;background:#7ecff3;"></div>
<span class="t" style="left:120.00px;top:795.16px;font:italic bold 16px/16px 'Liberation Sans',sans-serif;color:#2b1a2e;transform:scaleX(0.8875);">Hoge</span>
<span class="t" style="left:120.00px;top:813.06px;font:italic bold 16px/16px 'Liberation Sans',sans-serif;color:#2b1a2e;transform:scaleX(0.8793);">bloeddruk</span>
<svg style="left:235.30px;top:796.90px;" width="86" height="31.6" viewBox="0 0 86 31.6"><defs><clipPath id="c235_796"><rect x="0" y="0" width="86" height="31.6" rx="15.8" ry="15.8"/></clipPath>
<linearGradient id="g235_796" x1="0" y1="0" x2="0" y2="1"><stop offset="0" stop-color="#ffffff"/><stop offset="0.55" stop-color="#fbfbfb"/><stop offset="1" stop-color="#dcdcdc"/></linearGradient>
<linearGradient id="h235_796" x1="0" y1="0" x2="0" y2="1"><stop offset="0" stop-color="#e5007d"/><stop offset="0.6" stop-color="#e0047a"/><stop offset="1" stop-color="#c4006a"/></linearGradient></defs>
<ellipse cx="46.0" cy="32.1" rx="39.0" ry="2.4" fill="#3a7ea0" opacity="0.28"/>
<g clip-path="url(#c235_796)"><rect x="0" y="0" width="86" height="31.6" fill="url(#g235_796)"/>
<rect x="0" y="0" width="57.6" height="31.6" fill="url(#h235_796)"/>
<rect x="42.4" y="0" width="0.9" height="31.6" fill="#000" opacity="0.13"/></g></svg>
<span class="t" style="left:330.50px;top:801.08px;font:24px/24px 'Liberation Sans',sans-serif;color:#1d1d1b;transform:scaleX(0.9739);-webkit-text-stroke:0.5px #1d1d1b;">6</span>
<span class="t" style="left:343.50px;top:801.08px;font:24px/24px 'Liberation Sans',sans-serif;color:#1d1d1b;transform:scaleX(0.8998);-webkit-text-stroke:0.5px #1d1d1b;">,</span>
<span class="t" style="left:349.50px;top:805.04px;font:24px/24px 'Liberation Sans',sans-serif;color:#1d1d1b;transform:scaleX(0.8990);-webkit-text-stroke:0.5px #1d1d1b;">7</span>
<span class="t" style="left:361.50px;top:801.08px;font:24px/24px 'Liberation Sans',sans-serif;color:#1d1d1b;transform:scaleX(1.0075);-webkit-text-stroke:0.5px #1d1d1b;">%</span>
<svg style="left:411.00px;top:803.80px;" width="90" height="45" viewBox="0 0 90 45"><g fill="#e5007d"><g transform="translate(0.00,0.00)"><path d="M4.375 0C5.6 0 6.45 .9 6.45 2.25C6.45 3.3 5.95 4.2 5.35 4.7C5.1 4.9 5.15 5.3 5.5 5.5L7.6 6.45C8.4 6.85 8.75 7.6 8.75 8.5V10H0V8.5C0 7.6 .35 6.85 1.15 6.45L3.25 5.5C3.6 5.3 3.65 4.9 3.4 4.7C2.8 4.2 2.3 3.3 2.3 2.25C2.3 .9 3.15 0 4.375 0Z"/></g><g transform="translate(11.54,0.00)"><path d="M4.375 0C5.6 0 6.45 .9 6.45 2.25C6.45 3.3 5.95 4.2 5.35 4.7C5.1 4.9 5.15 5.3 5.5 5.5L7.6 6.45C8.4 6.85 8.75 7.6 8.75 8.5V10H0V8.5C0 7.6 .35 6.85 1.15 6.45L3.25 5.5C3.6 5.3 3.65 4.9 3.4 4.7C2.8 4.2 2.3 3.3 2.3 2.25C2.3 .9 3.15 0 4.375 0Z"/></g><g transform="translate(23.08,0.00)"><path d="M4.375 0C5.6 0 6.45 .9 6.45 2.25C6.45 3.3 5.95 4.2 5.35 4.7C5.1 4.9 5.15 5.3 5.5 5.5L7.6 6.45C8.4 6.85 8.75 7.6 8.75 8.5V10H0V8.5C0 7.6 .35 6.85 1.15 6.45L3.25 5.5C3.6 5.3 3.65 4.9 3.4 4.7C2.8 4.2 2.3 3.3 2.3 2.25C2.3 .9 3.15 0 4.375 0Z"/></g><g transform="translate(34.62,0.00)"><path d="M4.375 0C5.6 0 6.45 .9 6.45 2.25C6.45 3.3 5.95 4.2 5.35 4.7C5.1 4.9 5.15 5.3 5.5 5.5L7.6 6.45C8.4 6.85 8.75 7.6 8.75 8.5V10H0V8.5C0 7.6 .35 6.85 1.15 6.45L3.25 5.5C3.6 5.3 3.65 4.9 3.4 4.7C2.8 4.2 2.3 3.3 2.3 2.25C2.3 .9 3.15 0 4.375 0Z"/></g><g transform="translate(46.16,0.00)"><path d="M4.375 0C5.6 0 6.45 .9 6.45 2.25C6.45 3.3 5.95 4.2 5.35 4.7C5.1 4.9 5.15 5.3 5.5 5.5L7.6 6.45C8.4 6.85 8.75 7.6 8.75 8.5V10H0V8.5C0 7.6 .35 6.85 1.15 6.45L3.25 5.5C3.6 5.3 3.65 4.9 3.4 4.7C2.8 4.2 2.3 3.3 2.3 2.25C2.3 .9 3.15 0 4.375 0Z"/></g><g transform="translate(57.70,0.00)"><path d="M4.375 0C5.6 0 6.45 .9 6.45 2.25C6.45 3.3 5.95 4.2 5.35 4.7C5.1 4.9 5.15 5.3 5.5 5.5L7.6 6.45C8.4 6.85 8.75 7.6 8.75 8.5V10H0V8.5C0 7.6 .35 6.85 1.15 6.45L3.25 5.5C3.6 5.3 3.65 4.9 3.4 4.7C2.8 4.2 2.3 3.3 2.3 2.25C2.3 .9 3.15 0 4.375 0Z"/></g><g transform="translate(69.24,0.00)"><path d="M4.375 0C5.6 0 6.45 .9 6.45 2.25C6.45 3.3 5.95 4.2 5.35 4.7C5.1 4.9 5.15 5.3 5.5 5.5L7.6 6.45C8.4 6.85 8.75 7.6 8.75 8.5V10H0V8.5C0 7.6 .35 6.85 1.15 6.45L3.25 5.5C3.6 5.3 3.65 4.9 3.4 4.7C2.8 4.2 2.3 3.3 2.3 2.25C2.3 .9 3.15 0 4.375 0Z"/></g><g transform="translate(0.00,11.25)"><path d="M4.375 0C5.6 0 6.45 .9 6.45 2.25C6.45 3.3 5.95 4.2 5.35 4.7C5.1 4.9 5.15 5.3 5.5 5.5L7.6 6.45C8.4 6.85 8.75 7.6 8.75 8.5V10H0V8.5C0 7.6 .35 6.85 1.15 6.45L3.25 5.5C3.6 5.3 3.65 4.9 3.4 4.7C2.8 4.2 2.3 3.3 2.3 2.25C2.3 .9 3.15 0 4.375 0Z"/></g><g transform="translate(11.54,11.25)"><path d="M4.375 0C5.6 0 6.45 .9 6.45 2.25C6.45 3.3 5.95 4.2 5.35 4.7C5.1 4.9 5.15 5.3 5.5 5.5L7.6 6.45C8.4 6.85 8.75 7.6 8.75 8.5V10H0V8.5C0 7.6 .35 6.85 1.15 6.45L3.25 5.5C3.6 5.3 3.65 4.9 3.4 4.7C2.8 4.2 2.3 3.3 2.3 2.25C2.3 .9 3.15 0 4.375 0Z"/></g><g transform="translate(23.08,11.25)"><path d="M4.375 0C5.6 0 6.45 .9 6.45 2.25C6.45 3.3 5.95 4.2 5.35 4.7C5.1 4.9 5.15 5.3 5.5 5.5L7.6 6.45C8.4 6.85 8.75 7.6 8.75 8.5V10H0V8.5C0 7.6 .35 6.85 1.15 6.45L3.25 5.5C3.6 5.3 3.65 4.9 3.4 4.7C2.8 4.2 2.3 3.3 2.3 2.25C2.3 .9 3.15 0 4.375 0Z"/></g><g transform="translate(34.62,11.25)"><path d="M4.375 0C5.6 0 6.45 .9 6.45 2.25C6.45 3.3 5.95 4.2 5.35 4.7C5.1 4.9 5.15 5.3 5.5 5.5L7.6 6.45C8.4 6.85 8.75 7.6 8.75 8.5V10H0V8.5C0 7.6 .35 6.85 1.15 6.45L3.25 5.5C3.6 5.3 3.65 4.9 3.4 4.7C2.8 4.2 2.3 3.3 2.3 2.25C2.3 .9 3.15 0 4.375 0Z"/></g><g transform="translate(46.16,11.25)"><path d="M4.375 0C5.6 0 6.45 .9 6.45 2.25C6.45 3.3 5.95 4.2 5.35 4.7C5.1 4.9 5.15 5.3 5.5 5.5L7.6 6.45C8.4 6.85 8.75 7.6 8.75 8.5V10H0V8.5C0 7.6 .35 6.85 1.15 6.45L3.25 5.5C3.6 5.3 3.65 4.9 3.4 4.7C2.8 4.2 2.3 3.3 2.3 2.25C2.3 .9 3.15 0 4.375 0Z"/></g><g transform="translate(57.70,11.25)"><path d="M4.375 0C5.6 0 6.45 .9 6.45 2.25C6.45 3.3 5.95 4.2 5.35 4.7C5.1 4.9 5.15 5.3 5.5 5.5L7.6 6.45C8.4 6.85 8.75 7.6 8.75 8.5V10H0V8.5C0 7.6 .35 6.85 1.15 6.45L3.25 5.5C3.6 5.3 3.65 4.9 3.4 4.7C2.8 4.2 2.3 3.3 2.3 2.25C2.3 .9 3.15 0 4.375 0Z"/></g></g></svg>
<span class="t" style="left:521.40px;top:806.27px;font:bold 17.64px/17.64px 'Liberation Sans',sans-serif;color:#1d1d1b;transform:scaleX(0.8766);-webkit-text-stroke:0.528px #1d1d1b;">1</span>
<span class="t" style="left:530.00px;top:806.27px;font:bold 17.64px/17.64px 'Liberation Sans',sans-serif;color:#1d1d1b;transform:scaleX(1.2232);-webkit-text-stroke:0.528px #1d1d1b;">2</span>
<span class="t" style="left:542.00px;top:800.88px;font:bold 24px/24px 'Liberation Sans',sans-serif;color:#1d1d1b;transform:scaleX(0.8998);">,</span>
<span class="t" style="left:548.00px;top:800.88px;font:bold 24px/24px 'Liberation Sans',sans-serif;color:#1d1d1b;transform:scaleX(0.9739);">6</span>
<svg style="left:589.50px;top:796.25px;" width="110" height="32" viewBox="0 0 110 32"><g transform="translate(0.00,0)"><path d="M0.45 23.40 v4.2 a8.4 3.9 0 0 0 16.8 0 v-4.2 z" fill="#e5007d"/><ellipse cx="8.85" cy="23.40" rx="8.4" ry="3.9" fill="#e5007d"/><path d="M0.45 18.52 v4.2 a8.4 3.9 0 0 0 16.8 0 v-4.2 z" fill="#e5007d"/><ellipse cx="8.85" cy="18.52" rx="8.4" ry="3.9" fill="#e5007d"/><path d="M0.45 13.65 v4.2 a8.4 3.9 0 0 0 16.8 0 v-4.2 z" fill="#e5007d"/><ellipse cx="8.85" cy="13.65" rx="8.4" ry="3.9" fill="#e5007d"/><path d="M0.45 8.77 v4.2 a8.4 3.9 0 0 0 16.8 0 v-4.2 z" fill="#e5007d"/><ellipse cx="8.85" cy="8.77" rx="8.4" ry="3.9" fill="#e5007d"/><path d="M0.45 3.90 v4.2 a8.4 3.9 0 0 0 16.8 0 v-4.2 z" fill="#e5007d"/><ellipse cx="8.85" cy="3.90" rx="8.4" ry="3.9" fill="#e5007d"/><path d="M1.35 24.40 a7.50 3.30 0 0 0 15.00 0" fill="none" stroke="#ff94cb" stroke-width="1.0"/><path d="M1.35 19.52 a7.50 3.30 0 0 0 15.00 0" fill="none" stroke="#ff94cb" stroke-width="1.0"/><path d="M1.35 14.65 a7.50 3.30 0 0 0 15.00 0" fill="none" stroke="#ff94cb" stroke-width="1.0"/><path d="M1.35 9.77 a7.50 3.30 0 0 0 15.00 0" fill="none" stroke="#ff94cb" stroke-width="1.0"/><ellipse cx="8.85" cy="3.75" rx="6.3" ry="2.45" fill="#b9d6f2"/><path d="M5.65 3.40 q1.6 1.7 3.2 0.2 q1.6 1.5 3.2 -0.2" fill="none" stroke="#7a1a6a" stroke-width="0.9"/></g><g transform="translate(18.00,0)"><path d="M0.45 23.40 v4.2 a8.4 3.9 0 0 0 16.8 0 v-4.2 z" fill="#e5007d"/><ellipse cx="8.85" cy="23.40" rx="8.4" ry="3.9" fill="#e5007d"/><path d="M0.45 18.52 v4.2 a8.4 3.9 0 0 0 16.8 0 v-4.2 z" fill="#e5007d"/><ellipse cx="8.85" cy="18.52" rx="8.4" ry="3.9" fill="#e5007d"/><path d="M0.45 13.65 v4.2 a8.4 3.9 0 0 0 16.8 0 v-4.2 z" fill="#e5007d"/><ellipse cx="8.85" cy="13.65" rx="8.4" ry="3.9" fill="#e5007d"/><path d="M0.45 8.77 v4.2 a8.4 3.9 0 0 0 16.8 0 v-4.2 z" fill="#e5007d"/><ellipse cx="8.85" cy="8.77" rx="8.4" ry="3.9" fill="#e5007d"/><path d="M0.45 3.90 v4.2 a8.4 3.9 0 0 0 16.8 0 v-4.2 z" fill="#e5007d"/><ellipse cx="8.85" cy="3.90" rx="8.4" ry="3.9" fill="#e5007d"/><path d="M1.35 24.40 a7.50 3.30 0 0 0 15.00 0" fill="none" stroke="#ff94cb" stroke-width="1.0"/><path d="M1.35 19.52 a7.50 3.30 0 0 0 15.00 0" fill="none" stroke="#ff94cb" stroke-width="1.0"/><path d="M1.35 14.65 a7.50 3.30 0 0 0 15.00 0" fill="none" stroke="#ff94cb" stroke-width="1.0"/><path d="M1.35 9.77 a7.50 3.30 0 0 0 15.00 0" fill="none" stroke="#ff94cb" stroke-width="1.0"/><ellipse cx="8.85" cy="3.75" rx="6.3" ry="2.45" fill="#b9d6f2"/><path d="M5.65 3.40 q1.6 1.7 3.2 0.2 q1.6 1.5 3.2 -0.2" fill="none" stroke="#7a1a6a" stroke-width="0.9"/></g><g transform="translate(36.00,0)"><path d="M0.45 23.40 v4.2 a8.4 3.9 0 0 0 16.8 0 v-4.2 z" fill="#e5007d"/><ellipse cx="8.85" cy="23.40" rx="8.4" ry="3.9" fill="#e5007d"/><path d="M0.45 18.52 v4.2 a8.4 3.9 0 0 0 16.8 0 v-4.2 z" fill="#e5007d"/><ellipse cx="8.85" cy="18.52" rx="8.4" ry="3.9" fill="#e5007d"/><path d="M0.45 13.65 v4.2 a8.4 3.9 0 0 0 16.8 0 v-4.2 z" fill="#e5007d"/><ellipse cx="8.85" cy="13.65" rx="8.4" ry="3.9" fill="#e5007d"/><path d="M0.45 8.77 v4.2 a8.4 3.9 0 0 0 16.8 0 v-4.2 z" fill="#e5007d"/><ellipse cx="8.85" cy="8.77" rx="8.4" ry="3.9" fill="#e5007d"/><path d="M0.45 3.90 v4.2 a8.4 3.9 0 0 0 16.8 0 v-4.2 z" fill="#e5007d"/><ellipse cx="8.85" cy="3.90" rx="8.4" ry="3.9" fill="#e5007d"/><path d="M1.35 24.40 a7.50 3.30 0 0 0 15.00 0" fill="none" stroke="#ff94cb" stroke-width="1.0"/><path d="M1.35 19.52 a7.50 3.30 0 0 0 15.00 0" fill="none" stroke="#ff94cb" stroke-width="1.0"/><path d="M1.35 14.65 a7.50 3.30 0 0 0 15.00 0" fill="none" stroke="#ff94cb" stroke-width="1.0"/><path d="M1.35 9.77 a7.50 3.30 0 0 0 15.00 0" fill="none" stroke="#ff94cb" stroke-width="1.0"/><ellipse cx="8.85" cy="3.75" rx="6.3" ry="2.45" fill="#b9d6f2"/><path d="M5.65 3.40 q1.6 1.7 3.2 0.2 q1.6 1.5 3.2 -0.2" fill="none" stroke="#7a1a6a" stroke-width="0.9"/></g><g transform="translate(54.00,0)"><path d="M0.45 23.40 v4.2 a8.4 3.9 0 0 0 16.8 0 v-4.2 z" fill="#e5007d"/><ellipse cx="8.85" cy="23.40" rx="8.4" ry="3.9" fill="#e5007d"/><path d="M0.45 18.52 v4.2 a8.4 3.9 0 0 0 16.8 0 v-4.2 z" fill="#e5007d"/><ellipse cx="8.85" cy="18.52" rx="8.4" ry="3.9" fill="#e5007d"/><path d="M0.45 13.65 v4.2 a8.4 3.9 0 0 0 16.8 0 v-4.2 z" fill="#e5007d"/><ellipse cx="8.85" cy="13.65" rx="8.4" ry="3.9" fill="#e5007d"/><path d="M0.45 8.77 v4.2 a8.4 3.9 0 0 0 16.8 0 v-4.2 z" fill="#e5007d"/><ellipse cx="8.85" cy="8.77" rx="8.4" ry="3.9" fill="#e5007d"/><path d="M0.45 3.90 v4.2 a8.4 3.9 0 0 0 16.8 0 v-4.2 z" fill="#e5007d"/><ellipse cx="8.85" cy="3.90" rx="8.4" ry="3.9" fill="#e5007d"/><path d="M1.35 24.40 a7.50 3.30 0 0 0 15.00 0" fill="none" stroke="#ff94cb" stroke-width="1.0"/><path d="M1.35 19.52 a7.50 3.30 0 0 0 15.00 0" fill="none" stroke="#ff94cb" stroke-width="1.0"/><path d="M1.35 14.65 a7.50 3.30 0 0 0 15.00 0" fill="none" stroke="#ff94cb" stroke-width="1.0"/><path d="M1.35 9.77 a7.50 3.30 0 0 0 15.00 0" fill="none" stroke="#ff94cb" stroke-width="1.0"/><ellipse cx="8.85" cy="3.75" rx="6.3" ry="2.45" fill="#b9d6f2"/><path d="M5.65 3.40 q1.6 1.7 3.2 0.2 q1.6 1.5 3.2 -0.2" fill="none" stroke="#7a1a6a" stroke-width="0.9"/></g><g transform="translate(72.00,0)"><path d="M0.45 23.40 v4.2 a8.4 3.9 0 0 0 16.8 0 v-4.2 z" fill="#e5007d"/><ellipse cx="8.85" cy="23.40" rx="8.4" ry="3.9" fill="#e5007d"/><path d="M0.45 18.52 v4.2 a8.4 3.9 0 0 0 16.8 0 v-4.2 z" fill="#e5007d"/><ellipse cx="8.85" cy="18.52" rx="8.4" ry="3.9" fill="#e5007d"/><path d="M0.45 13.65 v4.2 a8.4 3.9 0 0 0 16.8 0 v-4.2 z" fill="#e5007d"/><ellipse cx="8.85" cy="13.65" rx="8.4" ry="3.9" fill="#e5007d"/><path d="M0.45 8.77 v4.2 a8.4 3.9 0 0 0 16.8 0 v-4.2 z" fill="#e5007d"/><ellipse cx="8.85" cy="8.77" rx="8.4" ry="3.9" fill="#e5007d"/><path d="M0.45 3.90 v4.2 a8.4 3.9 0 0 0 16.8 0 v-4.2 z" fill="#e5007d"/><ellipse cx="8.85" cy="3.90" rx="8.4" ry="3.9" fill="#e5007d"/><path d="M1.35 24.40 a7.50 3.30 0 0 0 15.00 0" fill="none" stroke="#ff94cb" stroke-width="1.0"/><path d="M1.35 19.52 a7.50 3.30 0 0 0 15.00 0" fill="none" stroke="#ff94cb" stroke-width="1.0"/><path d="M1.35 14.65 a7.50 3.30 0 0 0 15.00 0" fill="none" stroke="#ff94cb" stroke-width="1.0"/><path d="M1.35 9.77 a7.50 3.30 0 0 0 15.00 0" fill="none" stroke="#ff94cb" stroke-width="1.0"/><ellipse cx="8.85" cy="3.75" rx="6.3" ry="2.45" fill="#b9d6f2"/><path d="M5.65 3.40 q1.6 1.7 3.2 0.2 q1.6 1.5 3.2 -0.2" fill="none" stroke="#7a1a6a" stroke-width="0.9"/></g><g transform="translate(90.00,0)"><path d="M0.45 23.40 v4.2 a8.4 3.9 0 0 0 16.8 0 v-4.2 z" fill="#e5007d"/><ellipse cx="8.85" cy="23.40" rx="8.4" ry="3.9" fill="#e5007d"/><path d="M0.45 18.52 v4.2 a8.4 3.9 0 0 0 16.8 0 v-4.2 z" fill="#e5007d"/><ellipse cx="8.85" cy="18.52" rx="8.4" ry="3.9" fill="#e5007d"/><path d="M0.45 13.65 v4.2 a8.4 3.9 0 0 0 16.8 0 v-4.2 z" fill="#e5007d"/><ellipse cx="8.85" cy="13.65" rx="8.4" ry="3.9" fill="#e5007d"/><path d="M1.35 24.40 a7.50 3.30 0 0 0 15.00 0" fill="none" stroke="#ff94cb" stroke-width="1.0"/><path d="M1.35 19.52 a7.50 3.30 0 0 0 15.00 0" fill="none" stroke="#ff94cb" stroke-width="1.0"/><ellipse cx="8.85" cy="13.50" rx="6.3" ry="2.45" fill="#b9d6f2"/><path d="M5.65 13.15 q1.6 1.7 3.2 0.2 q1.6 1.5 3.2 -0.2" fill="none" stroke="#7a1a6a" stroke-width="0.9"/></g></svg>
<span class="t" style="left:703.50px;top:804.84px;font:bold 24px/24px 'Liberation Sans',sans-serif;color:#1d1d1b;transform:scaleX(0.8990);">5</span>
<span class="t" style="left:715.50px;top:800.88px;font:bold 24px/24px 'Liberation Sans',sans-serif;color:#1d1d1b;transform:scaleX(0.8998);">,</span>
<span class="t" style="left:721.50px;top:800.88px;font:bold 24px/24px 'Liberation Sans',sans-serif;color:#1d1d1b;transform:scaleX(0.9739);">6</span>
<svg style="left:47.00px;top:784.00px;" width="57" height="56" viewBox="0 0 800 786"><rect x="185" y="120" width="226" height="282" rx="40" fill="#fff"/>
<ellipse cx="298" cy="170" rx="78" ry="22" fill="#e5007d"/><path d="M322 185 q12 80 -2 150" stroke="#e5007d" stroke-width="9" fill="none"/>
<circle cx="520" cy="265" r="62" fill="none" stroke="#fff" stroke-width="30"/><circle cx="522" cy="262" r="17" fill="#fff"/>
<path d="M350 400 L350 455 Q355 500 400 500 Q450 500 455 440 L478 335" fill="none" stroke="#fff" stroke-width="28"/>
<path d="M300 400 L300 500 Q310 625 420 628 Q500 625 540 565" fill="none" stroke="#fff" stroke-width="30"/>
<path d="M522 540 C530 490 580 478 612 470 L650 438 L655 480 C660 530 640 570 595 580 C555 588 520 575 522 540Z" fill="#fff"/></svg>
<div style="left:47.00px;top:845.20px;width:56.80px;height:56.30px;background:#e5007d;"></div>
<div style="left:103.70px;top:845.20px;width:115.90px;height:56.30px;background:#f19ec7;"></div>
<div style="left:224.70px;top:845.20px;width:173.00px;height:56.30px;background:#7ecff3;"></div>
<div style="left:402.00px;top:845.20px;width:173.00px;height:56.30px;background:#7ecff3;"></div>
<div style="left:580.00px;top:845.20px;width:173.00px;height:56.30px;background:#7ecff3;"></div>
<span class="t" style="left:120.00px;top:856.36px;font:italic bold 16px/16px 'Liberation Sans',sans-serif;color:#2b1a2e;transform:scaleX(0.9520);">Hoge bloed-</span>
<span class="t" style="left:120.00px;top:874.26px;font:italic bold 16px/16px 'Liberation Sans',sans-serif;color:#2b1a2e;transform:scaleX(0.8409);">suikerspiegel</span>
<svg style="left:235.30px;top:858.10px;" width="86" height="31.6" viewBox="0 0 86 31.6"><defs><clipPath id="c235_858"><rect x="0" y="0" width="86" height="31.6" rx="15.8" ry="15.8"/></clipPath>
<linearGradient id="g235_858" x1="0" y1="0" x2="0" y2="1"><stop offset="0" stop-color="#ffffff"/><stop offset="0.55" stop-color="#fbfbfb"/><stop offset="1" stop-color="#dcdcdc"/></linearGradient>
<linearGradient id="h235_858" x1="0" y1="0" x2="0" y2="1"><stop offset="0" stop-color="#e5007d"/><stop offset="0.6" stop-color="#e0047a"/><stop offset="1" stop-color="#c4006a"/></linearGradient></defs>
<ellipse cx="46.0" cy="32.1" rx="39.0" ry="2.4" fill="#3a7ea0" opacity="0.28"/>
<g clip-path="url(#c235_858)"><rect x="0" y="0" width="86" height="31.6" fill="url(#g235_858)"/>
<rect x="0" y="0" width="56.8" height="31.6" fill="url(#h235_858)"/>
<rect x="42.4" y="0" width="0.9" height="31.6" fill="#000" opacity="0.13"/></g></svg>
<span class="t" style="left:329.50px;top:862.28px;font:24px/24px 'Liberation Sans',sans-serif;color:#1d1d1b;transform:scaleX(0.9739);-webkit-text-stroke:0.5px #1d1d1b;">6</span>
<span class="t" style="left:342.50px;top:862.28px;font:24px/24px 'Liberation Sans',sans-serif;color:#1d1d1b;transform:scaleX(0.8998);-webkit-text-stroke:0.5px #1d1d1b;">,</span>
<span class="t" style="left:348.50px;top:862.28px;font:24px/24px 'Liberation Sans',sans-serif;color:#1d1d1b;transform:scaleX(0.9739);-webkit-text-stroke:0.5px #1d1d1b;">6</span>
<span class="t" style="left:361.50px;top:862.28px;font:24px/24px 'Liberation Sans',sans-serif;color:#1d1d1b;transform:scaleX(1.0075);-webkit-text-stroke:0.5px #1d1d1b;">%</span>
<svg style="left:411.00px;top:865.00px;" width="90" height="45" viewBox="0 0 90 45"><g fill="#e5007d"><g transform="translate(0.00,0.00)"><path d="M4.375 0C5.6 0 6.45 .9 6.45 2.25C6.45 3.3 5.95 4.2 5.35 4.7C5.1 4.9 5.15 5.3 5.5 5.5L7.6 6.45C8.4 6.85 8.75 7.6 8.75 8.5V10H0V8.5C0 7.6 .35 6.85 1.15 6.45L3.25 5.5C3.6 5.3 3.65 4.9 3.4 4.7C2.8 4.2 2.3 3.3 2.3 2.25C2.3 .9 3.15 0 4.375 0Z"/></g><g transform="translate(11.54,0.00)"><path d="M4.375 0C5.6 0 6.45 .9 6.45 2.25C6.45 3.3 5.95 4.2 5.35 4.7C5.1 4.9 5.15 5.3 5.5 5.5L7.6 6.45C8.4 6.85 8.75 7.6 8.75 8.5V10H0V8.5C0 7.6 .35 6.85 1.15 6.45L3.25 5.5C3.6 5.3 3.65 4.9 3.4 4.7C2.8 4.2 2.3 3.3 2.3 2.25C2.3 .9 3.15 0 4.375 0Z"/></g><g transform="translate(23.08,0.00)"><path d="M4.375 0C5.6 0 6.45 .9 6.45 2.25C6.45 3.3 5.95 4.2 5.35 4.7C5.1 4.9 5.15 5.3 5.5 5.5L7.6 6.45C8.4 6.85 8.75 7.6 8.75 8.5V10H0V8.5C0 7.6 .35 6.85 1.15 6.45L3.25 5.5C3.6 5.3 3.65 4.9 3.4 4.7C2.8 4.2 2.3 3.3 2.3 2.25C2.3 .9 3.15 0 4.375 0Z"/></g><g transform="translate(34.62,0.00)"><path d="M4.375 0C5.6 0 6.45 .9 6.45 2.25C6.45 3.3 5.95 4.2 5.35 4.7C5.1 4.9 5.15 5.3 5.5 5.5L7.6 6.45C8.4 6.85 8.75 7.6 8.75 8.5V10H0V8.5C0 7.6 .35 6.85 1.15 6.45L3.25 5.5C3.6 5.3 3.65 4.9 3.4 4.7C2.8 4.2 2.3 3.3 2.3 2.25C2.3 .9 3.15 0 4.375 0Z"/></g><g transform="translate(46.16,0.00)"><path d="M4.375 0C5.6 0 6.45 .9 6.45 2.25C6.45 3.3 5.95 4.2 5.35 4.7C5.1 4.9 5.15 5.3 5.5 5.5L7.6 6.45C8.4 6.85 8.75 7.6 8.75 8.5V10H0V8.5C0 7.6 .35 6.85 1.15 6.45L3.25 5.5C3.6 5.3 3.65 4.9 3.4 4.7C2.8 4.2 2.3 3.3 2.3 2.25C2.3 .9 3.15 0 4.375 0Z"/></g><g transform="translate(57.70,0.00)"><path d="M4.375 0C5.6 0 6.45 .9 6.45 2.25C6.45 3.3 5.95 4.2 5.35 4.7C5.1 4.9 5.15 5.3 5.5 5.5L7.6 6.45C8.4 6.85 8.75 7.6 8.75 8.5V10H0V8.5C0 7.6 .35 6.85 1.15 6.45L3.25 5.5C3.6 5.3 3.65 4.9 3.4 4.7C2.8 4.2 2.3 3.3 2.3 2.25C2.3 .9 3.15 0 4.375 0Z"/></g><g transform="translate(69.24,0.00)"><path d="M4.375 0C5.6 0 6.45 .9 6.45 2.25C6.45 3.3 5.95 4.2 5.35 4.7C5.1 4.9 5.15 5.3 5.5 5.5L7.6 6.45C8.4 6.85 8.75 7.6 8.75 8.5V10H0V8.5C0 7.6 .35 6.85 1.15 6.45L3.25 5.5C3.6 5.3 3.65 4.9 3.4 4.7C2.8 4.2 2.3 3.3 2.3 2.25C2.3 .9 3.15 0 4.375 0Z"/></g><g transform="translate(0.00,11.25)"><path d="M4.375 0C5.6 0 6.45 .9 6.45 2.25C6.45 3.3 5.95 4.2 5.35 4.7C5.1 4.9 5.15 5.3 5.5 5.5L7.6 6.45C8.4 6.85 8.75 7.6 8.75 8.5V10H0V8.5C0 7.6 .35 6.85 1.15 6.45L3.25 5.5C3.6 5.3 3.65 4.9 3.4 4.7C2.8 4.2 2.3 3.3 2.3 2.25C2.3 .9 3.15 0 4.375 0Z"/></g><g transform="translate(11.54,11.25)"><path d="M4.375 0C5.6 0 6.45 .9 6.45 2.25C6.45 3.3 5.95 4.2 5.35 4.7C5.1 4.9 5.15 5.3 5.5 5.5L7.6 6.45C8.4 6.85 8.75 7.6 8.75 8.5V10H0V8.5C0 7.6 .35 6.85 1.15 6.45L3.25 5.5C3.6 5.3 3.65 4.9 3.4 4.7C2.8 4.2 2.3 3.3 2.3 2.25C2.3 .9 3.15 0 4.375 0Z"/></g><g transform="translate(23.08,11.25)"><path d="M4.375 0C5.6 0 6.45 .9 6.45 2.25C6.45 3.3 5.95 4.2 5.35 4.7C5.1 4.9 5.15 5.3 5.5 5.5L7.6 6.45C8.4 6.85 8.75 7.6 8.75 8.5V10H0V8.5C0 7.6 .35 6.85 1.15 6.45L3.25 5.5C3.6 5.3 3.65 4.9 3.4 4.7C2.8 4.2 2.3 3.3 2.3 2.25C2.3 .9 3.15 0 4.375 0Z"/></g></g></svg>
<span class="t" style="left:520.60px;top:867.47px;font:bold 17.64px/17.64px 'Liberation Sans',sans-serif;color:#1d1d1b;transform:scaleX(0.8766);-webkit-text-stroke:0.528px #1d1d1b;">1</span>
<span class="t" style="left:529.20px;top:867.47px;font:bold 17.64px/17.64px 'Liberation Sans',sans-serif;color:#1d1d1b;transform:scaleX(1.4066);-webkit-text-stroke:0.528px #1d1d1b;">0</span>
<span class="t" style="left:543.00px;top:862.08px;font:bold 24px/24px 'Liberation Sans',sans-serif;color:#1d1d1b;transform:scaleX(0.8998);">,</span>
<span class="t" style="left:549.00px;top:867.47px;font:bold 17.64px/17.64px 'Liberation Sans',sans-serif;color:#1d1d1b;transform:scaleX(1.2232);-webkit-text-stroke:0.528px #1d1d1b;">2</span>
<svg style="left:589.50px;top:857.45px;" width="110" height="32" viewBox="0 0 110 32"><g transform="translate(0.00,0)"><path d="M0.45 23.40 v4.2 a8.4 3.9 0 0 0 16.8 0 v-4.2 z" fill="#e5007d"/><ellipse cx="8.85" cy="23.40" rx="8.4" ry="3.9" fill="#e5007d"/><path d="M0.45 18.52 v4.2 a8.4 3.9 0 0 0 16.8 0 v-4.2 z" fill="#e5007d"/><ellipse cx="8.85" cy="18.52" rx="8.4" ry="3.9" fill="#e5007d"/><path d="M0.45 13.65 v4.2 a8.4 3.9 0 0 0 16.8 0 v-4.2 z" fill="#e5007d"/><ellipse cx="8.85" cy="13.65" rx="8.4" ry="3.9" fill="#e5007d"/><path d="M0.45 8.77 v4.2 a8.4 3.9 0 0 0 16.8 0 v-4.2 z" fill="#e5007d"/><ellipse cx="8.85" cy="8.77" rx="8.4" ry="3.9" fill="#e5007d"/><path d="M0.45 3.90 v4.2 a8.4 3.9 0 0 0 16.8 0 v-4.2 z" fill="#e5007d"/><ellipse cx="8.85" cy="3.90" rx="8.4" ry="3.9" fill="#e5007d"/><path d="M1.35 24.40 a7.50 3.30 0 0 0 15.00 0" fill="none" stroke="#ff94cb" stroke-width="1.0"/><path d="M1.35 19.52 a7.50 3.30 0 0 0 15.00 0" fill="none" stroke="#ff94cb" stroke-width="1.0"/><path d="M1.35 14.65 a7.50 3.30 0 0 0 15.00 0" fill="none" stroke="#ff94cb" stroke-width="1.0"/><path d="M1.35 9.77 a7.50 3.30 0 0 0 15.00 0" fill="none" stroke="#ff94cb" stroke-width="1.0"/><ellipse cx="8.85" cy="3.75" rx="6.3" ry="2.45" fill="#b9d6f2"/><path d="M5.65 3.40 q1.6 1.7 3.2 0.2 q1.6 1.5 3.2 -0.2" fill="none" stroke="#7a1a6a" stroke-width="0.9"/></g><g transform="translate(18.00,0)"><path d="M0.45 23.40 v4.2 a8.4 3.9 0 0 0 16.8 0 v-4.2 z" fill="#e5007d"/><ellipse cx="8.85" cy="23.40" rx="8.4" ry="3.9" fill="#e5007d"/><path d="M0.45 18.52 v4.2 a8.4 3.9 0 0 0 16.8 0 v-4.2 z" fill="#e5007d"/><ellipse cx="8.85" cy="18.52" rx="8.4" ry="3.9" fill="#e5007d"/><path d="M0.45 13.65 v4.2 a8.4 3.9 0 0 0 16.8 0 v-4.2 z" fill="#e5007d"/><ellipse cx="8.85" cy="13.65" rx="8.4" ry="3.9" fill="#e5007d"/><path d="M0.45 8.77 v4.2 a8.4 3.9 0 0 0 16.8 0 v-4.2 z" fill="#e5007d"/><ellipse cx="8.85" cy="8.77" rx="8.4" ry="3.9" fill="#e5007d"/><path d="M0.45 3.90 v4.2 a8.4 3.9 0 0 0 16.8 0 v-4.2 z" fill="#e5007d"/><ellipse cx="8.85" cy="3.90" rx="8.4" ry="3.9" fill="#e5007d"/><path d="M1.35 24.40 a7.50 3.30 0 0 0 15.00 0" fill="none" stroke="#ff94cb" stroke-width="1.0"/><path d="M1.35 19.52 a7.50 3.30 0 0 0 15.00 0" fill="none" stroke="#ff94cb" stroke-width="1.0"/><path d="M1.35 14.65 a7.50 3.30 0 0 0 15.00 0" fill="none" stroke="#ff94cb" stroke-width="1.0"/><path d="M1.35 9.77 a7.50 3.30 0 0 0 15.00 0" fill="none" stroke="#ff94cb" stroke-width="1.0"/><ellipse cx="8.85" cy="3.75" rx="6.3" ry="2.45" fill="#b9d6f2"/><path d="M5.65 3.40 q1.6 1.7 3.2 0.2 q1.6 1.5 3.2 -0.2" fill="none" stroke="#7a1a6a" stroke-width="0.9"/></g><g transform="translate(36.00,0)"><path d="M0.45 23.40 v4.2 a8.4 3.9 0 0 0 16.8 0 v-4.2 z" fill="#e5007d"/><ellipse cx="8.85" cy="23.40" rx="8.4" ry="3.9" fill="#e5007d"/><path d="M0.45 18.52 v4.2 a8.4 3.9 0 0 0 16.8 0 v-4.2 z" fill="#e5007d"/><ellipse cx="8.85" cy="18.52" rx="8.4" ry="3.9" fill="#e5007d"/><path d="M0.45 13.65 v4.2 a8.4 3.9 0 0 0 16.8 0 v-4.2 z" fill="#e5007d"/><ellipse cx="8.85" cy="13.65" rx="8.4" ry="3.9" fill="#e5007d"/><path d="M0.45 8.77 v4.2 a8.4 3.9 0 0 0 16.8 0 v-4.2 z" fill="#e5007d"/><ellipse cx="8.85" cy="8.77" rx="8.4" ry="3.9" fill="#e5007d"/><path d="M0.45 3.90 v4.2 a8.4 3.9 0 0 0 16.8 0 v-4.2 z" fill="#e5007d"/><ellipse cx="8.85" cy="3.90" rx="8.4" ry="3.9" fill="#e5007d"/><path d="M1.35 24.40 a7.50 3.30 0 0 0 15.00 0" fill="none" stroke="#ff94cb" stroke-width="1.0"/><path d="M1.35 19.52 a7.50 3.30 0 0 0 15.00 0" fill="none" stroke="#ff94cb" stroke-width="1.0"/><path d="M1.35 14.65 a7.50 3.30 0 0 0 15.00 0" fill="none" stroke="#ff94cb" stroke-width="1.0"/><path d="M1.35 9.77 a7.50 3.30 0 0 0 15.00 0" fill="none" stroke="#ff94cb" stroke-width="1.0"/><ellipse cx="8.85" cy="3.75" rx="6.3" ry="2.45" fill="#b9d6f2"/><path d="M5.65 3.40 q1.6 1.7 3.2 0.2 q1.6 1.5 3.2 -0.2" fill="none" stroke="#7a1a6a" stroke-width="0.9"/></g><g transform="translate(54.00,0)"><path d="M0.45 23.40 v4.2 a8.4 3.9 0 0 0 16.8 0 v-4.2 z" fill="#e5007d"/><ellipse cx="8.85" cy="23.40" rx="8.4" ry="3.9" fill="#e5007d"/><path d="M0.45 18.52 v4.2 a8.4 3.9 0 0 0 16.8 0 v-4.2 z" fill="#e5007d"/><ellipse cx="8.85" cy="18.52" rx="8.4" ry="3.9" fill="#e5007d"/><path d="M0.45 13.65 v4.2 a8.4 3.9 0 0 0 16.8 0 v-4.2 z" fill="#e5007d"/><ellipse cx="8.85" cy="13.65" rx="8.4" ry="3.9" fill="#e5007d"/><path d="M0.45 8.77 v4.2 a8.4 3.9 0 0 0 16.8 0 v-4.2 z" fill="#e5007d"/><ellipse cx="8.85" cy="8.77" rx="8.4" ry="3.9" fill="#e5007d"/><path d="M0.45 3.90 v4.2 a8.4 3.9 0 0 0 16.8 0 v-4.2 z" fill="#e5007d"/><ellipse cx="8.85" cy="3.90" rx="8.4" ry="3.9" fill="#e5007d"/><path d="M1.35 24.40 a7.50 3.30 0 0 0 15.00 0" fill="none" stroke="#ff94cb" stroke-width="1.0"/><path d="M1.35 19.52 a7.50 3.30 0 0 0 15.00 0" fill="none" stroke="#ff94cb" stroke-width="1.0"/><path d="M1.35 14.65 a7.50 3.30 0 0 0 15.00 0" fill="none" stroke="#ff94cb" stroke-width="1.0"/><path d="M1.35 9.77 a7.50 3.30 0 0 0 15.00 0" fill="none" stroke="#ff94cb" stroke-width="1.0"/><ellipse cx="8.85" cy="3.75" rx="6.3" ry="2.45" fill="#b9d6f2"/><path d="M5.65 3.40 q1.6 1.7 3.2 0.2 q1.6 1.5 3.2 -0.2" fill="none" stroke="#7a1a6a" stroke-width="0.9"/></g><g transform="translate(72.00,0)"><path d="M0.45 23.40 v4.2 a8.4 3.9 0 0 0 16.8 0 v-4.2 z" fill="#e5007d"/><ellipse cx="8.85" cy="23.40" rx="8.4" ry="3.9" fill="#e5007d"/><path d="M0.45 18.52 v4.2 a8.4 3.9 0 0 0 16.8 0 v-4.2 z" fill="#e5007d"/><ellipse cx="8.85" cy="18.52" rx="8.4" ry="3.9" fill="#e5007d"/><path d="M0.45 13.65 v4.2 a8.4 3.9 0 0 0 16.8 0 v-4.2 z" fill="#e5007d"/><ellipse cx="8.85" cy="13.65" rx="8.4" ry="3.9" fill="#e5007d"/><path d="M0.45 8.77 v4.2 a8.4 3.9 0 0 0 16.8 0 v-4.2 z" fill="#e5007d"/><ellipse cx="8.85" cy="8.77" rx="8.4" ry="3.9" fill="#e5007d"/><path d="M0.45 3.90 v4.2 a8.4 3.9 0 0 0 16.8 0 v-4.2 z" fill="#e5007d"/><ellipse cx="8.85" cy="3.90" rx="8.4" ry="3.9" fill="#e5007d"/><path d="M1.35 24.40 a7.50 3.30 0 0 0 15.00 0" fill="none" stroke="#ff94cb" stroke-width="1.0"/><path d="M1.35 19.52 a7.50 3.30 0 0 0 15.00 0" fill="none" stroke="#ff94cb" stroke-width="1.0"/><path d="M1.35 14.65 a7.50 3.30 0 0 0 15.00 0" fill="none" stroke="#ff94cb" stroke-width="1.0"/><path d="M1.35 9.77 a7.50 3.30 0 0 0 15.00 0" fill="none" stroke="#ff94cb" stroke-width="1.0"/><ellipse cx="8.85" cy="3.75" rx="6.3" ry="2.45" fill="#b9d6f2"/><path d="M5.65 3.40 q1.6 1.7 3.2 0.2 q1.6 1.5 3.2 -0.2" fill="none" stroke="#7a1a6a" stroke-width="0.9"/></g><g transform="translate(90.00,0)"><path d="M0.45 23.40 v4.2 a8.4 3.9 0 0 0 16.8 0 v-4.2 z" fill="#e5007d"/><ellipse cx="8.85" cy="23.40" rx="8.4" ry="3.9" fill="#e5007d"/><path d="M0.45 18.52 v4.2 a8.4 3.9 0 0 0 16.8 0 v-4.2 z" fill="#e5007d"/><ellipse cx="8.85" cy="18.52" rx="8.4" ry="3.9" fill="#e5007d"/><path d="M0.45 13.65 v4.2 a8.4 3.9 0 0 0 16.8 0 v-4.2 z" fill="#e5007d"/><ellipse cx="8.85" cy="13.65" rx="8.4" ry="3.9" fill="#e5007d"/><path d="M0.45 8.77 v4.2 a8.4 3.9 0 0 0 16.8 0 v-4.2 z" fill="#e5007d"/><ellipse cx="8.85" cy="8.77" rx="8.4" ry="3.9" fill="#e5007d"/><path d="M1.35 24.40 a7.50 3.30 0 0 0 15.00 0" fill="none" stroke="#ff94cb" stroke-width="1.0"/><path d="M1.35 19.52 a7.50 3.30 0 0 0 15.00 0" fill="none" stroke="#ff94cb" stroke-width="1.0"/><path d="M1.35 14.65 a7.50 3.30 0 0 0 15.00 0" fill="none" stroke="#ff94cb" stroke-width="1.0"/><ellipse cx="8.85" cy="8.62" rx="6.3" ry="2.45" fill="#b9d6f2"/><path d="M5.65 8.27 q1.6 1.7 3.2 0.2 q1.6 1.5 3.2 -0.2" fill="none" stroke="#7a1a6a" stroke-width="0.9"/></g></svg>
<span class="t" style="left:703.20px;top:866.04px;font:bold 24px/24px 'Liberation Sans',sans-serif;color:#1d1d1b;transform:scaleX(0.8990);">5</span>
<span class="t" style="left:715.20px;top:862.08px;font:bold 24px/24px 'Liberation Sans',sans-serif;color:#1d1d1b;transform:scaleX(0.8998);">,</span>
<span class="t" style="left:721.20px;top:862.08px;font:bold 24px/24px 'Liberation Sans',sans-serif;color:#1d1d1b;">8</span>
<svg style="left:47.00px;top:845.00px;" width="57" height="56" viewBox="0 0 800 786"><path d="M140 378 L235 262 L305 240 L340 282 L585 215 C625 210 625 262 592 275 L470 322 L482 420 L482 520 L400 560 L190 578 Z" fill="#fff" stroke="#fff" stroke-width="10" stroke-linejoin="round"/>
<path d="M585 312 C630 372 638 392 636 412 A52 52 0 0 1 532 412 C530 392 542 372 585 312Z" fill="#fff"/>
<path d="M572 378 q-22 28 0 56" stroke="#e5007d" stroke-width="10" fill="none"/></svg>
<div style="left:47.00px;top:906.40px;width:56.80px;height:56.30px;background:#e5007d;"></div>
<div style="left:103.70px;top:906.40px;width:115.90px;height:56.30px;background:#f19ec7;"></div>
<div style="left:224.70px;top:906.40px;width:173.00px;height:56.30px;background:#7ecff3;"></div>
<div style="left:402.00px;top:906.40px;width:173.00px;height:56.30px;background:#7ecff3;"></div>
<div style="left:580.00px;top:906.40px;width:173.00px;height:56.30px;background:#7ecff3;"></div>
<span class="t" style="left:120.00px;top:926.56px;font:italic bold 16px/16px 'Liberation Sans',sans-serif;color:#2b1a2e;transform:scaleX(0.8747);">Overgewicht</span>
<svg style="left:235.30px;top:919.30px;" width="86" height="31.6" viewBox="0 0 86 31.6"><defs><clipPath id="c235_919"><rect x="0" y="0" width="86" height="31.6" rx="15.8" ry="15.8"/></clipPath>
<linearGradient id="g235_919" x1="0" y1="0" x2="0" y2="1"><stop offset="0" stop-color="#ffffff"/><stop offset="0.55" stop-color="#fbfbfb"/><stop offset="1" stop-color="#dcdcdc"/></linearGradient>
<linearGradient id="h235_919" x1="0" y1="0" x2="0" y2="1"><stop offset="0" stop-color="#e5007d"/><stop offset="0.6" stop-color="#e0047a"/><stop offset="1" stop-color="#c4006a"/></linearGradient></defs>
<ellipse cx="46.0" cy="32.1" rx="39.0" ry="2.4" fill="#3a7ea0" opacity="0.28"/>
<g clip-path="url(#c235_919)"><rect x="0" y="0" width="86" height="31.6" fill="url(#g235_919)"/>
<rect x="0" y="0" width="31.8" height="31.6" fill="url(#h235_919)"/>
<rect x="42.4" y="0" width="0.9" height="31.6" fill="#000" opacity="0.13"/></g></svg>
<span class="t" style="left:331.50px;top:927.44px;font:24px/24px 'Liberation Sans',sans-serif;color:#1d1d1b;transform:scaleX(0.8990);-webkit-text-stroke:0.5px #1d1d1b;">3</span>
<span class="t" style="left:343.50px;top:923.48px;font:24px/24px 'Liberation Sans',sans-serif;color:#1d1d1b;transform:scaleX(0.8998);-webkit-text-stroke:0.5px #1d1d1b;">,</span>
<span class="t" style="left:349.50px;top:927.44px;font:24px/24px 'Liberation Sans',sans-serif;color:#1d1d1b;transform:scaleX(0.8990);-webkit-text-stroke:0.5px #1d1d1b;">7</span>
<span class="t" style="left:361.50px;top:923.48px;font:24px/24px 'Liberation Sans',sans-serif;color:#1d1d1b;transform:scaleX(1.0075);-webkit-text-stroke:0.5px #1d1d1b;">%</span>
<svg style="left:411.00px;top:930.20px;" width="90" height="45" viewBox="0 0 90 45"><g fill="#e5007d"><g transform="translate(0.00,0.00)"><path d="M4.375 0C5.6 0 6.45 .9 6.45 2.25C6.45 3.3 5.95 4.2 5.35 4.7C5.1 4.9 5.15 5.3 5.5 5.5L7.6 6.45C8.4 6.85 8.75 7.6 8.75 8.5V10H0V8.5C0 7.6 .35 6.85 1.15 6.45L3.25 5.5C3.6 5.3 3.65 4.9 3.4 4.7C2.8 4.2 2.3 3.3 2.3 2.25C2.3 .9 3.15 0 4.375 0Z"/></g><g transform="translate(11.54,0.00)"><path d="M4.375 0C5.6 0 6.45 .9 6.45 2.25C6.45 3.3 5.95 4.2 5.35 4.7C5.1 4.9 5.15 5.3 5.5 5.5L7.6 6.45C8.4 6.85 8.75 7.6 8.75 8.5V10H0V8.5C0 7.6 .35 6.85 1.15 6.45L3.25 5.5C3.6 5.3 3.65 4.9 3.4 4.7C2.8 4.2 2.3 3.3 2.3 2.25C2.3 .9 3.15 0 4.375 0Z"/></g><g transform="translate(23.08,0.00)"><path d="M4.375 0C5.6 0 6.45 .9 6.45 2.25C6.45 3.3 5.95 4.2 5.35 4.7C5.1 4.9 5.15 5.3 5.5 5.5L7.6 6.45C8.4 6.85 8.75 7.6 8.75 8.5V10H0V8.5C0 7.6 .35 6.85 1.15 6.45L3.25 5.5C3.6 5.3 3.65 4.9 3.4 4.7C2.8 4.2 2.3 3.3 2.3 2.25C2.3 .9 3.15 0 4.375 0Z"/></g><g transform="translate(34.62,0.00)"><path d="M4.375 0C5.6 0 6.45 .9 6.45 2.25C6.45 3.3 5.95 4.2 5.35 4.7C5.1 4.9 5.15 5.3 5.5 5.5L7.6 6.45C8.4 6.85 8.75 7.6 8.75 8.5V10H0V8.5C0 7.6 .35 6.85 1.15 6.45L3.25 5.5C3.6 5.3 3.65 4.9 3.4 4.7C2.8 4.2 2.3 3.3 2.3 2.25C2.3 .9 3.15 0 4.375 0Z"/></g></g></svg>
<span class="t" style="left:529.00px;top:927.24px;font:bold 24px/24px 'Liberation Sans',sans-serif;color:#1d1d1b;transform:scaleX(1.0489);">4</span>
<span class="t" style="left:543.00px;top:923.28px;font:bold 24px/24px 'Liberation Sans',sans-serif;color:#1d1d1b;transform:scaleX(0.8998);">,</span>
<span class="t" style="left:549.00px;top:928.67px;font:bold 17.64px/17.64px 'Liberation Sans',sans-serif;color:#1d1d1b;transform:scaleX(1.2232);-webkit-text-stroke:0.528px #1d1d1b;">2</span>
<svg style="left:589.50px;top:918.65px;" width="110" height="32" viewBox="0 0 110 32"><g transform="translate(0.00,0)"><path d="M0.45 23.40 v4.2 a8.4 3.9 0 0 0 16.8 0 v-4.2 z" fill="#e5007d"/><ellipse cx="8.85" cy="23.40" rx="8.4" ry="3.9" fill="#e5007d"/><path d="M0.45 18.52 v4.2 a8.4 3.9 0 0 0 16.8 0 v-4.2 z" fill="#e5007d"/><ellipse cx="8.85" cy="18.52" rx="8.4" ry="3.9" fill="#e5007d"/><path d="M0.45 13.65 v4.2 a8.4 3.9 0 0 0 16.8 0 v-4.2 z" fill="#e5007d"/><ellipse cx="8.85" cy="13.65" rx="8.4" ry="3.9" fill="#e5007d"/><path d="M0.45 8.77 v4.2 a8.4 3.9 0 0 0 16.8 0 v-4.2 z" fill="#e5007d"/><ellipse cx="8.85" cy="8.77" rx="8.4" ry="3.9" fill="#e5007d"/><path d="M0.45 3.90 v4.2 a8.4 3.9 0 0 0 16.8 0 v-4.2 z" fill="#e5007d"/><ellipse cx="8.85" cy="3.90" rx="8.4" ry="3.9" fill="#e5007d"/><path d="M1.35 24.40 a7.50 3.30 0 0 0 15.00 0" fill="none" stroke="#ff94cb" stroke-width="1.0"/><path d="M1.35 19.52 a7.50 3.30 0 0 0 15.00 0" fill="none" stroke="#ff94cb" stroke-width="1.0"/><path d="M1.35 14.65 a7.50 3.30 0 0 0 15.00 0" fill="none" stroke="#ff94cb" stroke-width="1.0"/><path d="M1.35 9.77 a7.50 3.30 0 0 0 15.00 0" fill="none" stroke="#ff94cb" stroke-width="1.0"/><ellipse cx="8.85" cy="3.75" rx="6.3" ry="2.45" fill="#b9d6f2"/><path d="M5.65 3.40 q1.6 1.7 3.2 0.2 q1.6 1.5 3.2 -0.2" fill="none" stroke="#7a1a6a" stroke-width="0.9"/></g><g transform="translate(18.00,0)"><path d="M0.45 23.40 v4.2 a8.4 3.9 0 0 0 16.8 0 v-4.2 z" fill="#e5007d"/><ellipse cx="8.85" cy="23.40" rx="8.4" ry="3.9" fill="#e5007d"/><path d="M0.45 18.52 v4.2 a8.4 3.9 0 0 0 16.8 0 v-4.2 z" fill="#e5007d"/><ellipse cx="8.85" cy="18.52" rx="8.4" ry="3.9" fill="#e5007d"/><path d="M0.45 13.65 v4.2 a8.4 3.9 0 0 0 16.8 0 v-4.2 z" fill="#e5007d"/><ellipse cx="8.85" cy="13.65" rx="8.4" ry="3.9" fill="#e5007d"/><path d="M1.35 24.40 a7.50 3.30 0 0 0 15.00 0" fill="none" stroke="#ff94cb" stroke-width="1.0"/><path d="M1.35 19.52 a7.50 3.30 0 0 0 15.00 0" fill="none" stroke="#ff94cb" stroke-width="1.0"/><ellipse cx="8.85" cy="13.50" rx="6.3" ry="2.45" fill="#b9d6f2"/><path d="M5.65 13.15 q1.6 1.7 3.2 0.2 q1.6 1.5 3.2 -0.2" fill="none" stroke="#7a1a6a" stroke-width="0.9"/></g></svg>
<span class="t" style="left:707.90px;top:928.67px;font:bold 17.64px/17.64px 'Liberation Sans',sans-serif;color:#1d1d1b;transform:scaleX(0.8766);-webkit-text-stroke:0.528px #1d1d1b;">1</span>
<span class="t" style="left:716.50px;top:923.28px;font:bold 24px/24px 'Liberation Sans',sans-serif;color:#1d1d1b;transform:scaleX(0.8998);">,</span>
<span class="t" style="left:722.50px;top:927.24px;font:bold 24px/24px 'Liberation Sans',sans-serif;color:#1d1d1b;transform:scaleX(0.8990);">5</span>
<svg style="left:47.00px;top:906.00px;" width="57" height="56" viewBox="0 0 800 786"><circle cx="400" cy="245" r="92" fill="#fff"/>
<path d="M230 212 H570 Q608 212 606 250 L590 545 Q588 582 550 582 H252 Q215 582 213 545 L194 250 Q192 212 230 212Z" fill="#fff"/>
<ellipse cx="398" cy="247" rx="64" ry="36" fill="#e5007d"/><path d="M395 275 L440 235" stroke="#fff" stroke-width="14"/>
<line x1="400" y1="348" x2="400" y2="512" stroke="#e5007d" stroke-width="24" stroke-linecap="round"/></svg>
<div style="left:47.00px;top:967.60px;width:56.80px;height:56.30px;background:#e5007d;"></div>
<div style="left:103.70px;top:967.60px;width:115.90px;height:56.30px;background:#f19ec7;"></div>
<div style="left:224.70px;top:967.60px;width:173.00px;height:56.30px;background:#7ecff3;"></div>
<div style="left:402.00px;top:967.60px;width:173.00px;height:56.30px;background:#7ecff3;"></div>
<div style="left:580.00px;top:967.60px;width:173.00px;height:56.30px;background:#7ecff3;"></div>
<span class="t" style="left:120.00px;top:987.76px;font:italic bold 16px/16px 'Liberation Sans',sans-serif;color:#2b1a2e;transform:scaleX(0.8521);">Cholesterol</span>
<svg style="left:235.30px;top:980.50px;" width="86" height="31.6" viewBox="0 0 86 31.6"><defs><clipPath id="c235_980"><rect x="0" y="0" width="86" height="31.6" rx="15.8" ry="15.8"/></clipPath>
<linearGradient id="g235_980" x1="0" y1="0" x2="0" y2="1"><stop offset="0" stop-color="#ffffff"/><stop offset="0.55" stop-color="#fbfbfb"/><stop offset="1" stop-color="#dcdcdc"/></linearGradient>
<linearGradient id="h235_980" x1="0" y1="0" x2="0" y2="1"><stop offset="0" stop-color="#e5007d"/><stop offset="0.6" stop-color="#e0047a"/><stop offset="1" stop-color="#c4006a"/></linearGradient></defs>
<ellipse cx="46.0" cy="32.1" rx="39.0" ry="2.4" fill="#3a7ea0" opacity="0.28"/>
<g clip-path="url(#c235_980)"><rect x="0" y="0" width="86" height="31.6" fill="url(#g235_980)"/>
<rect x="0" y="0" width="7.7" height="31.6" fill="url(#h235_980)"/>
<rect x="42.4" y="0" width="0.9" height="31.6" fill="#000" opacity="0.13"/></g></svg>
<span class="t" style="left:328.70px;top:990.07px;font:17.64px/17.64px 'Liberation Sans',sans-serif;color:#1d1d1b;transform:scaleX(1.4066);-webkit-text-stroke:0.788px #1d1d1b;">0</span>
<span class="t" style="left:342.50px;top:984.68px;font:24px/24px 'Liberation Sans',sans-serif;color:#1d1d1b;transform:scaleX(0.8998);-webkit-text-stroke:0.5px #1d1d1b;">,</span>
<span class="t" style="left:348.50px;top:988.64px;font:24px/24px 'Liberation Sans',sans-serif;color:#1d1d1b;transform:scaleX(0.9739);-webkit-text-stroke:0.5px #1d1d1b;">9</span>
<span class="t" style="left:361.50px;top:984.68px;font:24px/24px 'Liberation Sans',sans-serif;color:#1d1d1b;transform:scaleX(1.0075);-webkit-text-stroke:0.5px #1d1d1b;">%</span>
<svg style="left:411.00px;top:991.40px;" width="90" height="45" viewBox="0 0 90 45"><g fill="#e5007d"><g transform="translate(0.00,0.00)"><path d="M4.375 0C5.6 0 6.45 .9 6.45 2.25C6.45 3.3 5.95 4.2 5.35 4.7C5.1 4.9 5.15 5.3 5.5 5.5L7.6 6.45C8.4 6.85 8.75 7.6 8.75 8.5V10H0V8.5C0 7.6 .35 6.85 1.15 6.45L3.25 5.5C3.6 5.3 3.65 4.9 3.4 4.7C2.8 4.2 2.3 3.3 2.3 2.25C2.3 .9 3.15 0 4.375 0Z"/></g></g></svg>
<span class="t" style="left:537.80px;top:989.87px;font:bold 17.64px/17.64px 'Liberation Sans',sans-serif;color:#1d1d1b;transform:scaleX(0.8766);-webkit-text-stroke:0.528px #1d1d1b;">1</span>
<span class="t" style="left:546.40px;top:984.48px;font:bold 24px/24px 'Liberation Sans',sans-serif;color:#1d1d1b;transform:scaleX(0.8998);">,</span>
<span class="t" style="left:552.40px;top:989.87px;font:bold 17.64px/17.64px 'Liberation Sans',sans-serif;color:#1d1d1b;transform:scaleX(0.8766);-webkit-text-stroke:0.528px #1d1d1b;">1</span>
<svg style="left:589.50px;top:979.85px;" width="110" height="32" viewBox="0 0 110 32"><g transform="translate(0.00,0)"><path d="M0.45 23.40 v4.2 a8.4 3.9 0 0 0 16.8 0 v-4.2 z" fill="#e5007d"/><ellipse cx="8.85" cy="23.40" rx="8.4" ry="3.9" fill="#e5007d"/><path d="M0.45 18.52 v4.2 a8.4 3.9 0 0 0 16.8 0 v-4.2 z" fill="#e5007d"/><ellipse cx="8.85" cy="18.52" rx="8.4" ry="3.9" fill="#e5007d"/><path d="M1.35 24.40 a7.50 3.30 0 0 0 15.00 0" fill="none" stroke="#ff94cb" stroke-width="1.0"/><ellipse cx="8.85" cy="18.38" rx="6.3" ry="2.45" fill="#b9d6f2"/><path d="M5.65 18.02 q1.6 1.7 3.2 0.2 q1.6 1.5 3.2 -0.2" fill="none" stroke="#7a1a6a" stroke-width="0.9"/></g></svg>
<span class="t" style="left:700.70px;top:989.87px;font:bold 17.64px/17.64px 'Liberation Sans',sans-serif;color:#1d1d1b;transform:scaleX(1.4066);-webkit-text-stroke:0.528px #1d1d1b;">0</span>
<span class="t" style="left:714.50px;top:984.48px;font:bold 24px/24px 'Liberation Sans',sans-serif;color:#1d1d1b;transform:scaleX(0.8998);">,</span>
<span class="t" style="left:720.50px;top:988.44px;font:bold 24px/24px 'Liberation Sans',sans-serif;color:#1d1d1b;transform:scaleX(1.0489);">4</span>
<svg style="left:47.00px;top:968.00px;" width="57" height="56" viewBox="0 0 800 786"><path d="M128 485 L482 131 L513 162 L508 182 L488 188 L483 208 L464 214 L459 235 L440 241 L436 262 L418 269 L414 291 L397 299 L393 320 L375 327 L371 348 L352 355 L346 374 L326 379 L319 397 L297 401 L290 419 L268 423 L261 441 L240 444 L233 463 L212 467 L206 486 L186 491 L180 511 L160 516Z" fill="#fff"/><path d="M307 663 L660 310 L629 278 L609 284 L603 303 L583 308 L577 327 L556 331 L549 349 L527 353 L519 370 L496 373 L488 389 L465 392 L457 409 L435 413 L429 431 L409 437 L405 458 L387 465 L384 488 L367 496 L365 519 L348 527 L345 550 L327 557 L323 578 L305 585 L300 606 L281 612 L275 632Z" fill="#fff"/>
<circle cx="236" cy="548" r="31" fill="#fff"/><circle cx="374" cy="405" r="30" fill="#fff"/><circle cx="528" cy="296" r="31" fill="#fff"/></svg>
<div style="left:47.00px;top:1028.80px;width:56.80px;height:56.30px;background:#e5007d;"></div>
<div style="left:103.70px;top:1028.80px;width:115.90px;height:56.30px;background:#f19ec7;"></div>
<div style="left:224.70px;top:1028.80px;width:173.00px;height:56.30px;background:#7ecff3;"></div>
<div style="left:402.00px;top:1028.80px;width:173.00px;height:56.30px;background:#7ecff3;"></div>
<div style="left:580.00px;top:1028.80px;width:173.00px;height:56.30px;background:#7ecff3;"></div>
<span class="t" style="left:120.00px;top:1039.96px;font:italic bold 16px/16px 'Liberation Sans',sans-serif;color:#2b1a2e;transform:scaleX(0.8301);">Lage</span>
<span class="t" style="left:120.00px;top:1057.86px;font:italic bold 16px/16px 'Liberation Sans',sans-serif;color:#2b1a2e;transform:scaleX(0.8751);">botdichtheid</span>
<svg style="left:235.30px;top:1041.70px;" width="86" height="31.6" viewBox="0 0 86 31.6"><defs><clipPath id="c235_1041"><rect x="0" y="0" width="86" height="31.6" rx="15.8" ry="15.8"/></clipPath>
<linearGradient id="g235_1041" x1="0" y1="0" x2="0" y2="1"><stop offset="0" stop-color="#ffffff"/><stop offset="0.55" stop-color="#fbfbfb"/><stop offset="1" stop-color="#dcdcdc"/></linearGradient>
<linearGradient id="h235_1041" x1="0" y1="0" x2="0" y2="1"><stop offset="0" stop-color="#e5007d"/><stop offset="0.6" stop-color="#e0047a"/><stop offset="1" stop-color="#c4006a"/></linearGradient></defs>
<ellipse cx="46.0" cy="32.1" rx="39.0" ry="2.4" fill="#3a7ea0" opacity="0.28"/>
<g clip-path="url(#c235_1041)"><rect x="0" y="0" width="86" height="31.6" fill="url(#g235_1041)"/>
<rect x="0" y="0" width="6.0" height="31.6" fill="url(#h235_1041)"/>
<rect x="42.4" y="0" width="0.9" height="31.6" fill="#000" opacity="0.13"/></g></svg>
<span class="t" style="left:329.70px;top:1051.27px;font:17.64px/17.64px 'Liberation Sans',sans-serif;color:#1d1d1b;transform:scaleX(1.4066);-webkit-text-stroke:0.788px #1d1d1b;">0</span>
<span class="t" style="left:343.50px;top:1045.88px;font:24px/24px 'Liberation Sans',sans-serif;color:#1d1d1b;transform:scaleX(0.8998);-webkit-text-stroke:0.5px #1d1d1b;">,</span>
<span class="t" style="left:349.50px;top:1049.84px;font:24px/24px 'Liberation Sans',sans-serif;color:#1d1d1b;transform:scaleX(0.8990);-webkit-text-stroke:0.5px #1d1d1b;">7</span>
<span class="t" style="left:361.50px;top:1045.88px;font:24px/24px 'Liberation Sans',sans-serif;color:#1d1d1b;transform:scaleX(1.0075);-webkit-text-stroke:0.5px #1d1d1b;">%</span>
<svg style="left:411.00px;top:1052.60px;" width="90" height="45" viewBox="0 0 90 45"><g fill="#e5007d"><g transform="translate(0.00,0.00)"><path d="M4.375 0C5.6 0 6.45 .9 6.45 2.25C6.45 3.3 5.95 4.2 5.35 4.7C5.1 4.9 5.15 5.3 5.5 5.5L7.6 6.45C8.4 6.85 8.75 7.6 8.75 8.5V10H0V8.5C0 7.6 .35 6.85 1.15 6.45L3.25 5.5C3.6 5.3 3.65 4.9 3.4 4.7C2.8 4.2 2.3 3.3 2.3 2.25C2.3 .9 3.15 0 4.375 0Z"/></g><g transform="translate(11.54,0.00)"><path d="M4.375 0C5.6 0 6.45 .9 6.45 2.25C6.45 3.3 5.95 4.2 5.35 4.7C5.1 4.9 5.15 5.3 5.5 5.5L7.6 6.45C8.4 6.85 8.75 7.6 8.75 8.5V10H0V8.5C0 7.6 .35 6.85 1.15 6.45L3.25 5.5C3.6 5.3 3.65 4.9 3.4 4.7C2.8 4.2 2.3 3.3 2.3 2.25C2.3 .9 3.15 0 4.375 0Z"/></g><g transform="translate(23.08,0.00)"><path d="M4.375 0C5.6 0 6.45 .9 6.45 2.25C6.45 3.3 5.95 4.2 5.35 4.7C5.1 4.9 5.15 5.3 5.5 5.5L7.6 6.45C8.4 6.85 8.75 7.6 8.75 8.5V10H0V8.5C0 7.6 .35 6.85 1.15 6.45L3.25 5.5C3.6 5.3 3.65 4.9 3.4 4.7C2.8 4.2 2.3 3.3 2.3 2.25C2.3 .9 3.15 0 4.375 0Z"/></g></g></svg>
<span class="t" style="left:530.00px;top:1051.07px;font:bold 17.64px/17.64px 'Liberation Sans',sans-serif;color:#1d1d1b;transform:scaleX(1.2232);-webkit-text-stroke:0.528px #1d1d1b;">2</span>
<span class="t" style="left:542.00px;top:1045.68px;font:bold 24px/24px 'Liberation Sans',sans-serif;color:#1d1d1b;transform:scaleX(0.8998);">,</span>
<span class="t" style="left:548.00px;top:1049.64px;font:bold 24px/24px 'Liberation Sans',sans-serif;color:#1d1d1b;transform:scaleX(0.9739);">9</span>
<svg style="left:589.50px;top:1041.05px;" width="110" height="32" viewBox="0 0 110 32"><g transform="translate(0.00,0)"><path d="M0.45 23.40 v4.2 a8.4 3.9 0 0 0 16.8 0 v-4.2 z" fill="#e5007d"/><ellipse cx="8.85" cy="23.40" rx="8.4" ry="3.9" fill="#e5007d"/><path d="M0.45 18.52 v4.2 a8.4 3.9 0 0 0 16.8 0 v-4.2 z" fill="#e5007d"/><ellipse cx="8.85" cy="18.52" rx="8.4" ry="3.9" fill="#e5007d"/><path d="M1.35 24.40 a7.50 3.30 0 0 0 15.00 0" fill="none" stroke="#ff94cb" stroke-width="1.0"/><ellipse cx="8.85" cy="18.38" rx="6.3" ry="2.45" fill="#b9d6f2"/><path d="M5.65 18.02 q1.6 1.7 3.2 0.2 q1.6 1.5 3.2 -0.2" fill="none" stroke="#7a1a6a" stroke-width="0.9"/></g></svg>
<span class="t" style="left:700.70px;top:1051.07px;font:bold 17.64px/17.64px 'Liberation Sans',sans-serif;color:#1d1d1b;transform:scaleX(1.4066);-webkit-text-stroke:0.528px #1d1d1b;">0</span>
<span class="t" style="left:714.50px;top:1045.68px;font:bold 24px/24px 'Liberation Sans',sans-serif;color:#1d1d1b;transform:scaleX(0.8998);">,</span>
<span class="t" style="left:720.50px;top:1049.64px;font:bold 24px/24px 'Liberation Sans',sans-serif;color:#1d1d1b;transform:scaleX(1.0489);">4</span>
<svg style="left:47.00px;top:1029.00px;" width="57" height="56" viewBox="0 0 800 786"><line x1="262" y1="532" x2="532" y2="262" stroke="#fff" stroke-width="146"/>
<circle cx="214" cy="496" r="60" fill="#fff"/><circle cx="296" cy="578" r="60" fill="#fff"/><circle cx="498" cy="216" r="60" fill="#fff"/><circle cx="578" cy="296" r="60" fill="#fff"/></svg>
<div style="left:47.00px;top:1105.75px;width:304.00px;height:1.70px;background:#0b72b5;"></div>
<div style="left:446.20px;top:1105.75px;width:306.80px;height:1.70px;background:#0b72b5;"></div>
<span class="t" style="left:368.40px;top:1094.02px;font:bold 21px/21px 'Liberation Sans',sans-serif;color:#0b72b5;transform:scaleX(0.9307);">Arbeid</span>
<div style="left:223.50px;top:1127.80px;width:172.90px;height:38.70px;background:#42145f;"></div>
<span class="t" style="left:230.25px;top:1132.26px;font:bold 13.4px/13.4px 'Liberation Sans',sans-serif;color:#fff;transform:scaleX(0.9803);">ZIEKTELAST</span>
<span class="t" style="left:230.25px;top:1149.26px;font:italic 13.4px/13.4px 'Liberation Sans',sans-serif;color:#fff;transform:scaleX(1.0317);-webkit-text-stroke:0.25px #fff;">(%)</span>
<div style="left:400.80px;top:1127.80px;width:172.90px;height:38.70px;background:#42145f;"></div>
<span class="t" style="left:409.30px;top:1132.26px;font:bold 13.4px/13.4px 'Liberation Sans',sans-serif;color:#fff;transform:scaleX(0.9583);">STERFTE</span>
<span class="t" style="left:409.30px;top:1149.26px;font:italic 13.4px/13.4px 'Liberation Sans',sans-serif;color:#fff;transform:scaleX(1.0124);-webkit-text-stroke:0.25px #fff;">(x1000)</span>
<div style="left:578.80px;top:1127.80px;width:172.90px;height:38.70px;background:#42145f;"></div>
<span class="t" style="left:587.25px;top:1132.26px;font:bold 13.4px/13.4px 'Liberation Sans',sans-serif;color:#fff;transform:scaleX(1.0328);">ZORGUITGAVEN €</span>
<span class="t" style="left:587.25px;top:1149.26px;font:italic 13.4px/13.4px 'Liberation Sans',sans-serif;color:#fff;transform:scaleX(1.0543);-webkit-text-stroke:0.25px #fff;">(x miljard)</span>
<div style="left:47.00px;top:1171.80px;width:56.80px;height:56.30px;background:#e5007d;"></div>
<div style="left:103.70px;top:1171.80px;width:115.90px;height:56.30px;background:#f19ec7;"></div>
<div style="left:224.70px;top:1171.80px;width:173.00px;height:56.30px;background:#7ecff3;"></div>
<div style="left:402.00px;top:1171.80px;width:173.00px;height:56.30px;background:#7ecff3;"></div>
<div style="left:580.00px;top:1171.80px;width:173.00px;height:56.30px;background:#7ecff3;"></div>
<span class="t" style="left:120.00px;top:1182.96px;font:italic bold 16px/16px 'Liberation Sans',sans-serif;color:#2b1a2e;transform:scaleX(0.8724);">Stoffen/</span>
<span class="t" style="left:120.00px;top:1200.86px;font:italic bold 16px/16px 'Liberation Sans',sans-serif;color:#2b1a2e;transform:scaleX(0.8734);">omgeving</span>
<svg style="left:235.30px;top:1184.70px;" width="86" height="31.6" viewBox="0 0 86 31.6"><defs><clipPath id="c235_1184"><rect x="0" y="0" width="86" height="31.6" rx="15.8" ry="15.8"/></clipPath>
<linearGradient id="g235_1184" x1="0" y1="0" x2="0" y2="1"><stop offset="0" stop-color="#ffffff"/><stop offset="0.55" stop-color="#fbfbfb"/><stop offset="1" stop-color="#dcdcdc"/></linearGradient>
<linearGradient id="h235_1184" x1="0" y1="0" x2="0" y2="1"><stop offset="0" stop-color="#e5007d"/><stop offset="0.6" stop-color="#e0047a"/><stop offset="1" stop-color="#c4006a"/></linearGradient></defs>
<ellipse cx="46.0" cy="32.1" rx="39.0" ry="2.4" fill="#3a7ea0" opacity="0.28"/>
<g clip-path="url(#c235_1184)"><rect x="0" y="0" width="86" height="31.6" fill="url(#g235_1184)"/>
<rect x="0" y="0" width="25.8" height="31.6" fill="url(#h235_1184)"/>
<rect x="42.4" y="0" width="0.9" height="31.6" fill="#000" opacity="0.13"/></g></svg>
<span class="t" style="left:329.70px;top:1192.84px;font:24px/24px 'Liberation Sans',sans-serif;color:#1d1d1b;transform:scaleX(0.8990);-webkit-text-stroke:0.5px #1d1d1b;">3</span>
<span class="t" style="left:341.70px;top:1188.88px;font:24px/24px 'Liberation Sans',sans-serif;color:#1d1d1b;transform:scaleX(0.8998);-webkit-text-stroke:0.5px #1d1d1b;">,</span>
<span class="t" style="left:347.70px;top:1194.27px;font:17.64px/17.64px 'Liberation Sans',sans-serif;color:#1d1d1b;transform:scaleX(1.4066);-webkit-text-stroke:0.788px #1d1d1b;">0</span>
<span class="t" style="left:361.50px;top:1188.88px;font:24px/24px 'Liberation Sans',sans-serif;color:#1d1d1b;transform:scaleX(1.0075);-webkit-text-stroke:0.5px #1d1d1b;">%</span>
<svg style="left:411.00px;top:1195.60px;" width="90" height="45" viewBox="0 0 90 45"><g fill="#e5007d"><g transform="translate(0.00,0.00)"><path d="M4.375 0C5.6 0 6.45 .9 6.45 2.25C6.45 3.3 5.95 4.2 5.35 4.7C5.1 4.9 5.15 5.3 5.5 5.5L7.6 6.45C8.4 6.85 8.75 7.6 8.75 8.5V10H0V8.5C0 7.6 .35 6.85 1.15 6.45L3.25 5.5C3.6 5.3 3.65 4.9 3.4 4.7C2.8 4.2 2.3 3.3 2.3 2.25C2.3 .9 3.15 0 4.375 0Z"/></g><g transform="translate(11.54,0.00)"><path d="M4.375 0C5.6 0 6.45 .9 6.45 2.25C6.45 3.3 5.95 4.2 5.35 4.7C5.1 4.9 5.15 5.3 5.5 5.5L7.6 6.45C8.4 6.85 8.75 7.6 8.75 8.5V10H0V8.5C0 7.6 .35 6.85 1.15 6.45L3.25 5.5C3.6 5.3 3.65 4.9 3.4 4.7C2.8 4.2 2.3 3.3 2.3 2.25C2.3 .9 3.15 0 4.375 0Z"/></g><g transform="translate(23.08,0.00)"><path d="M4.375 0C5.6 0 6.45 .9 6.45 2.25C6.45 3.3 5.95 4.2 5.35 4.7C5.1 4.9 5.15 5.3 5.5 5.5L7.6 6.45C8.4 6.85 8.75 7.6 8.75 8.5V10H0V8.5C0 7.6 .35 6.85 1.15 6.45L3.25 5.5C3.6 5.3 3.65 4.9 3.4 4.7C2.8 4.2 2.3 3.3 2.3 2.25C2.3 .9 3.15 0 4.375 0Z"/></g><g transform="translate(34.62,0.00)"><path d="M4.375 0C5.6 0 6.45 .9 6.45 2.25C6.45 3.3 5.95 4.2 5.35 4.7C5.1 4.9 5.15 5.3 5.5 5.5L7.6 6.45C8.4 6.85 8.75 7.6 8.75 8.5V10H0V8.5C0 7.6 .35 6.85 1.15 6.45L3.25 5.5C3.6 5.3 3.65 4.9 3.4 4.7C2.8 4.2 2.3 3.3 2.3 2.25C2.3 .9 3.15 0 4.375 0Z"/></g></g></svg>
<span class="t" style="left:532.40px;top:1192.64px;font:bold 24px/24px 'Liberation Sans',sans-serif;color:#1d1d1b;transform:scaleX(1.0489);">4</span>
<span class="t" style="left:546.40px;top:1188.68px;font:bold 24px/24px 'Liberation Sans',sans-serif;color:#1d1d1b;transform:scaleX(0.8998);">,</span>
<span class="t" style="left:552.40px;top:1194.07px;font:bold 17.64px/17.64px 'Liberation Sans',sans-serif;color:#1d1d1b;transform:scaleX(0.8766);-webkit-text-stroke:0.528px #1d1d1b;">1</span>
<svg style="left:589.50px;top:1184.05px;" width="110" height="32" viewBox="0 0 110 32"><g transform="translate(0.00,0)"><path d="M0.45 23.40 v4.2 a8.4 3.9 0 0 0 16.8 0 v-4.2 z" fill="#e5007d"/><ellipse cx="8.85" cy="23.40" rx="8.4" ry="3.9" fill="#e5007d"/><path d="M0.45 18.52 v4.2 a8.4 3.9 0 0 0 16.8 0 v-4.2 z" fill="#e5007d"/><ellipse cx="8.85" cy="18.52" rx="8.4" ry="3.9" fill="#e5007d"/><path d="M0.45 13.65 v4.2 a8.4 3.9 0 0 0 16.8 0 v-4.2 z" fill="#e5007d"/><ellipse cx="8.85" cy="13.65" rx="8.4" ry="3.9" fill="#e5007d"/><path d="M0.45 8.77 v4.2 a8.4 3.9 0 0 0 16.8 0 v-4.2 z" fill="#e5007d"/><ellipse cx="8.85" cy="8.77" rx="8.4" ry="3.9" fill="#e5007d"/><path d="M0.45 3.90 v4.2 a8.4 3.9 0 0 0 16.8 0 v-4.2 z" fill="#e5007d"/><ellipse cx="8.85" cy="3.90" rx="8.4" ry="3.9" fill="#e5007d"/><path d="M1.35 24.40 a7.50 3.30 0 0 0 15.00 0" fill="none" stroke="#ff94cb" stroke-width="1.0"/><path d="M1.35 19.52 a7.50 3.30 0 0 0 15.00 0" fill="none" stroke="#ff94cb" stroke-width="1.0"/><path d="M1.35 14.65 a7.50 3.30 0 0 0 15.00 0" fill="none" stroke="#ff94cb" stroke-width="1.0"/><path d="M1.35 9.77 a7.50 3.30 0 0 0 15.00 0" fill="none" stroke="#ff94cb" stroke-width="1.0"/><ellipse cx="8.85" cy="3.75" rx="6.3" ry="2.45" fill="#b9d6f2"/><path d="M5.65 3.40 q1.6 1.7 3.2 0.2 q1.6 1.5 3.2 -0.2" fill="none" stroke="#7a1a6a" stroke-width="0.9"/></g></svg>
<span class="t" style="left:711.30px;top:1194.07px;font:bold 17.64px/17.64px 'Liberation Sans',sans-serif;color:#1d1d1b;transform:scaleX(0.8766);-webkit-text-stroke:0.528px #1d1d1b;">1</span>
<span class="t" style="left:719.90px;top:1188.68px;font:bold 24px/24px 'Liberation Sans',sans-serif;color:#1d1d1b;transform:scaleX(0.8998);">,</span>
<span class="t" style="left:725.90px;top:1194.07px;font:bold 17.64px/17.64px 'Liberation Sans',sans-serif;color:#1d1d1b;transform:scaleX(0.8766);-webkit-text-stroke:0.528px #1d1d1b;">1</span>
<svg style="left:47.00px;top:1172.00px;" width="57" height="56" viewBox="0 0 800 786"><rect x="295" y="211" width="202" height="30" rx="8" fill="#fff"/>
<path d="M348 240 V385 L232 570 Q215 625 270 628 H525 Q582 625 565 570 L448 385 V240" fill="#e5007d" stroke="#fff" stroke-width="28" stroke-linejoin="round"/>
<path d="M300 455 H496 L560 575 Q570 618 525 620 H270 Q226 618 238 575 Z" fill="#fff"/>
<circle cx="370" cy="170" r="28" fill="#fff"/><circle cx="438" cy="128" r="20" fill="#fff"/><circle cx="400" cy="405" r="24" fill="#fff"/>
<circle cx="435" cy="540" r="18" fill="#e5007d"/><circle cx="312" cy="490" r="10" fill="#e5007d"/><path d="M262 570 q5 -40 35 -60" stroke="#e5007d" stroke-width="9" fill="none"/></svg>
<div style="left:47.00px;top:1233.00px;width:56.80px;height:56.30px;background:#e5007d;"></div>
<div style="left:103.70px;top:1233.00px;width:115.90px;height:56.30px;background:#f19ec7;"></div>
<div style="left:224.70px;top:1233.00px;width:173.00px;height:56.30px;background:#7ecff3;"></div>
<div style="left:402.00px;top:1233.00px;width:173.00px;height:56.30px;background:#7ecff3;"></div>
<div style="left:580.00px;top:1233.00px;width:173.00px;height:56.30px;background:#7ecff3;"></div>
<span class="t" style="left:120.00px;top:1244.16px;font:italic bold 16px/16px 'Liberation Sans',sans-serif;color:#2b1a2e;transform:scaleX(0.7813);">Psychische</span>
<span class="t" style="left:120.00px;top:1262.06px;font:italic bold 16px/16px 'Liberation Sans',sans-serif;color:#2b1a2e;transform:scaleX(0.8742);">belasting</span>
<svg style="left:235.30px;top:1245.90px;" width="86" height="31.6" viewBox="0 0 86 31.6"><defs><clipPath id="c235_1245"><rect x="0" y="0" width="86" height="31.6" rx="15.8" ry="15.8"/></clipPath>
<linearGradient id="g235_1245" x1="0" y1="0" x2="0" y2="1"><stop offset="0" stop-color="#ffffff"/><stop offset="0.55" stop-color="#fbfbfb"/><stop offset="1" stop-color="#dcdcdc"/></linearGradient>
<linearGradient id="h235_1245" x1="0" y1="0" x2="0" y2="1"><stop offset="0" stop-color="#e5007d"/><stop offset="0.6" stop-color="#e0047a"/><stop offset="1" stop-color="#c4006a"/></linearGradient></defs>
<ellipse cx="46.0" cy="32.1" rx="39.0" ry="2.4" fill="#3a7ea0" opacity="0.28"/>
<g clip-path="url(#c235_1245)"><rect x="0" y="0" width="86" height="31.6" fill="url(#g235_1245)"/>
<rect x="0" y="0" width="7.7" height="31.6" fill="url(#h235_1245)"/>
<rect x="42.4" y="0" width="0.9" height="31.6" fill="#000" opacity="0.13"/></g></svg>
<span class="t" style="left:328.70px;top:1255.47px;font:17.64px/17.64px 'Liberation Sans',sans-serif;color:#1d1d1b;transform:scaleX(1.4066);-webkit-text-stroke:0.788px #1d1d1b;">0</span>
<span class="t" style="left:342.50px;top:1250.08px;font:24px/24px 'Liberation Sans',sans-serif;color:#1d1d1b;transform:scaleX(0.8998);-webkit-text-stroke:0.5px #1d1d1b;">,</span>
<span class="t" style="left:348.50px;top:1254.04px;font:24px/24px 'Liberation Sans',sans-serif;color:#1d1d1b;transform:scaleX(0.9739);-webkit-text-stroke:0.5px #1d1d1b;">9</span>
<span class="t" style="left:361.50px;top:1250.08px;font:24px/24px 'Liberation Sans',sans-serif;color:#1d1d1b;transform:scaleX(1.0075);-webkit-text-stroke:0.5px #1d1d1b;">%</span>
<span class="t" style="left:527.40px;top:1255.27px;font:bold 17.64px/17.64px 'Liberation Sans',sans-serif;color:#1d1d1b;transform:scaleX(1.4066);-webkit-text-stroke:0.528px #1d1d1b;">0</span>
<span class="t" style="left:541.20px;top:1249.88px;font:bold 24px/24px 'Liberation Sans',sans-serif;color:#1d1d1b;transform:scaleX(0.8998);">,</span>
<span class="t" style="left:547.20px;top:1255.27px;font:bold 17.64px/17.64px 'Liberation Sans',sans-serif;color:#1d1d1b;transform:scaleX(1.4066);-webkit-text-stroke:0.528px #1d1d1b;">0</span>
<svg style="left:589.50px;top:1245.25px;" width="110" height="32" viewBox="0 0 110 32"><g transform="translate(0.00,0)"><path d="M0.45 23.40 v4.2 a8.4 3.9 0 0 0 16.8 0 v-4.2 z" fill="#e5007d"/><ellipse cx="8.85" cy="23.40" rx="8.4" ry="3.9" fill="#e5007d"/><ellipse cx="8.85" cy="23.25" rx="6.3" ry="2.45" fill="#b9d6f2"/><path d="M5.65 22.90 q1.6 1.7 3.2 0.2 q1.6 1.5 3.2 -0.2" fill="none" stroke="#7a1a6a" stroke-width="0.9"/></g></svg>
<span class="t" style="left:702.70px;top:1255.27px;font:bold 17.64px/17.64px 'Liberation Sans',sans-serif;color:#1d1d1b;transform:scaleX(1.4066);-webkit-text-stroke:0.528px #1d1d1b;">0</span>
<span class="t" style="left:716.50px;top:1249.88px;font:bold 24px/24px 'Liberation Sans',sans-serif;color:#1d1d1b;transform:scaleX(0.8998);">,</span>
<span class="t" style="left:722.50px;top:1255.27px;font:bold 17.64px/17.64px 'Liberation Sans',sans-serif;color:#1d1d1b;transform:scaleX(1.2232);-webkit-text-stroke:0.528px #1d1d1b;">2</span>
<svg style="left:47.00px;top:1233.00px;" width="57" height="56" viewBox="0 0 800 786"><path d="M285 612 C300 520 282 440 236 380 C190 300 232 180 380 170 C482 165 540 232 540 330 L582 410 L546 430 L540 512 C530 540 480 546 446 546 L446 612 Z" fill="#fff"/>
<ellipse cx="365" cy="298" rx="128" ry="100" fill="#ef5aa6"/>
<g fill="none" stroke="#fff" stroke-width="9" opacity="0.85"><path d="M260 260 q40 -30 70 0 t70 0 t60 10"/><path d="M250 310 q40 -25 70 5 t70 -5 t70 5"/><path d="M270 355 q40 -25 70 5 t70 -5 t50 0"/><path d="M330 215 q10 60 -10 150 M410 215 q-15 70 5 150"/></g>
<ellipse cx="365" cy="298" rx="128" ry="100" fill="none" stroke="#e5007d" stroke-width="8"/></svg>
<div style="left:47.00px;top:1294.20px;width:56.80px;height:56.30px;background:#e5007d;"></div>
<div style="left:103.70px;top:1294.20px;width:115.90px;height:56.30px;background:#f19ec7;"></div>
<div style="left:224.70px;top:1294.20px;width:173.00px;height:56.30px;background:#7ecff3;"></div>
<div style="left:402.00px;top:1294.20px;width:173.00px;height:56.30px;background:#7ecff3;"></div>
<div style="left:580.00px;top:1294.20px;width:173.00px;height:56.30px;background:#7ecff3;"></div>
<span class="t" style="left:120.00px;top:1305.36px;font:italic bold 16px/16px 'Liberation Sans',sans-serif;color:#2b1a2e;transform:scaleX(0.8022);">Fysieke</span>
<span class="t" style="left:120.00px;top:1323.26px;font:italic bold 16px/16px 'Liberation Sans',sans-serif;color:#2b1a2e;transform:scaleX(0.8742);">belasting</span>
<svg style="left:235.30px;top:1307.10px;" width="86" height="31.6" viewBox="0 0 86 31.6"><defs><clipPath id="c235_1307"><rect x="0" y="0" width="86" height="31.6" rx="15.8" ry="15.8"/></clipPath>
<linearGradient id="g235_1307" x1="0" y1="0" x2="0" y2="1"><stop offset="0" stop-color="#ffffff"/><stop offset="0.55" stop-color="#fbfbfb"/><stop offset="1" stop-color="#dcdcdc"/></linearGradient>
<linearGradient id="h235_1307" x1="0" y1="0" x2="0" y2="1"><stop offset="0" stop-color="#e5007d"/><stop offset="0.6" stop-color="#e0047a"/><stop offset="1" stop-color="#c4006a"/></linearGradient></defs>
<ellipse cx="46.0" cy="32.1" rx="39.0" ry="2.4" fill="#3a7ea0" opacity="0.28"/>
<g clip-path="url(#c235_1307)"><rect x="0" y="0" width="86" height="31.6" fill="url(#g235_1307)"/>
<rect x="0" y="0" width="6.0" height="31.6" fill="url(#h235_1307)"/>
<rect x="42.4" y="0" width="0.9" height="31.6" fill="#000" opacity="0.13"/></g></svg>
<span class="t" style="left:329.70px;top:1316.67px;font:17.64px/17.64px 'Liberation Sans',sans-serif;color:#1d1d1b;transform:scaleX(1.4066);-webkit-text-stroke:0.788px #1d1d1b;">0</span>
<span class="t" style="left:343.50px;top:1311.28px;font:24px/24px 'Liberation Sans',sans-serif;color:#1d1d1b;transform:scaleX(0.8998);-webkit-text-stroke:0.5px #1d1d1b;">,</span>
<span class="t" style="left:349.50px;top:1315.24px;font:24px/24px 'Liberation Sans',sans-serif;color:#1d1d1b;transform:scaleX(0.8990);-webkit-text-stroke:0.5px #1d1d1b;">7</span>
<span class="t" style="left:361.50px;top:1311.28px;font:24px/24px 'Liberation Sans',sans-serif;color:#1d1d1b;transform:scaleX(1.0075);-webkit-text-stroke:0.5px #1d1d1b;">%</span>
<span class="t" style="left:527.40px;top:1316.47px;font:bold 17.64px/17.64px 'Liberation Sans',sans-serif;color:#1d1d1b;transform:scaleX(1.4066);-webkit-text-stroke:0.528px #1d1d1b;">0</span>
<span class="t" style="left:541.20px;top:1311.08px;font:bold 24px/24px 'Liberation Sans',sans-serif;color:#1d1d1b;transform:scaleX(0.8998);">,</span>
<span class="t" style="left:547.20px;top:1316.47px;font:bold 17.64px/17.64px 'Liberation Sans',sans-serif;color:#1d1d1b;transform:scaleX(1.4066);-webkit-text-stroke:0.528px #1d1d1b;">0</span>
<svg style="left:589.50px;top:1306.45px;" width="110" height="32" viewBox="0 0 110 32"><g transform="translate(0.00,0)"><path d="M0.45 23.40 v4.2 a8.4 3.9 0 0 0 16.8 0 v-4.2 z" fill="#e5007d"/><ellipse cx="8.85" cy="23.40" rx="8.4" ry="3.9" fill="#e5007d"/><path d="M0.45 18.52 v4.2 a8.4 3.9 0 0 0 16.8 0 v-4.2 z" fill="#e5007d"/><ellipse cx="8.85" cy="18.52" rx="8.4" ry="3.9" fill="#e5007d"/><path d="M0.45 13.65 v4.2 a8.4 3.9 0 0 0 16.8 0 v-4.2 z" fill="#e5007d"/><ellipse cx="8.85" cy="13.65" rx="8.4" ry="3.9" fill="#e5007d"/><path d="M1.35 24.40 a7.50 3.30 0 0 0 15.00 0" fill="none" stroke="#ff94cb" stroke-width="1.0"/><path d="M1.35 19.52 a7.50 3.30 0 0 0 15.00 0" fill="none" stroke="#ff94cb" stroke-width="1.0"/><ellipse cx="8.85" cy="13.50" rx="6.3" ry="2.45" fill="#b9d6f2"/><path d="M5.65 13.15 q1.6 1.7 3.2 0.2 q1.6 1.5 3.2 -0.2" fill="none" stroke="#7a1a6a" stroke-width="0.9"/></g></svg>
<span class="t" style="left:702.70px;top:1316.47px;font:bold 17.64px/17.64px 'Liberation Sans',sans-serif;color:#1d1d1b;transform:scaleX(1.4066);-webkit-text-stroke:0.528px #1d1d1b;">0</span>
<span class="t" style="left:716.50px;top:1311.08px;font:bold 24px/24px 'Liberation Sans',sans-serif;color:#1d1d1b;transform:scaleX(0.8998);">,</span>
<span class="t" style="left:722.50px;top:1315.04px;font:bold 24px/24px 'Liberation Sans',sans-serif;color:#1d1d1b;transform:scaleX(0.8990);">3</span>
<svg style="left:47.00px;top:1294.00px;" width="57" height="56" viewBox="0 0 800 786"><circle cx="378" cy="175" r="46" fill="#fff"/>
<g fill="none" stroke="#fff" stroke-linecap="round" stroke-linejoin="round">
<path d="M268 262 L345 262 L300 400" stroke-width="70"/>
<path d="M285 400 L160 612" stroke-width="48"/><path d="M300 410 L330 612" stroke-width="46"/>
<path d="M232 238 L180 315 L235 335" stroke-width="28"/>
<path d="M352 260 L385 425" stroke-width="30"/>
<path d="M185 312 L452 492" stroke-width="14"/></g>
<polygon points="372,632 520,430 655,632" fill="#fff"/><polygon points="410,520 470,470 480,540" fill="#fff"/></svg>
<div style="left:47.00px;top:1370.55px;width:310.40px;height:1.70px;background:#0b72b5;"></div>
<div style="left:441.30px;top:1370.55px;width:311.70px;height:1.70px;background:#0b72b5;"></div>
<span class="t" style="left:371.10px;top:1360.22px;font:bold 21px/21px 'Liberation Sans',sans-serif;color:#0b72b5;transform:scaleX(0.9478);">Milieu</span>
<div style="left:47.00px;top:1392.70px;width:56.80px;height:56.30px;background:#e5007d;"></div>
<div style="left:103.70px;top:1392.70px;width:115.90px;height:56.30px;background:#f19ec7;"></div>
<div style="left:224.70px;top:1392.70px;width:173.00px;height:56.30px;background:#7ecff3;"></div>
<div style="left:402.00px;top:1392.70px;width:173.00px;height:56.30px;background:#7ecff3;"></div>
<div style="left:580.00px;top:1392.70px;width:173.00px;height:56.30px;background:#7ecff3;"></div>
<span class="t" style="left:120.00px;top:1412.86px;font:italic bold 16px/16px 'Liberation Sans',sans-serif;color:#2b1a2e;transform:scaleX(0.8853);">Buitenmilieu</span>
<svg style="left:235.30px;top:1405.60px;" width="86" height="31.6" viewBox="0 0 86 31.6"><defs><clipPath id="c235_1405"><rect x="0" y="0" width="86" height="31.6" rx="15.8" ry="15.8"/></clipPath>
<linearGradient id="g235_1405" x1="0" y1="0" x2="0" y2="1"><stop offset="0" stop-color="#ffffff"/><stop offset="0.55" stop-color="#fbfbfb"/><stop offset="1" stop-color="#dcdcdc"/></linearGradient>
<linearGradient id="h235_1405" x1="0" y1="0" x2="0" y2="1"><stop offset="0" stop-color="#e5007d"/><stop offset="0.6" stop-color="#e0047a"/><stop offset="1" stop-color="#c4006a"/></linearGradient></defs>
<ellipse cx="46.0" cy="32.1" rx="39.0" ry="2.4" fill="#3a7ea0" opacity="0.28"/>
<g clip-path="url(#c235_1405)"><rect x="0" y="0" width="86" height="31.6" fill="url(#g235_1405)"/>
<rect x="0" y="0" width="30.1" height="31.6" fill="url(#h235_1405)"/>
<rect x="42.4" y="0" width="0.9" height="31.6" fill="#000" opacity="0.13"/></g></svg>
<span class="t" style="left:331.50px;top:1413.74px;font:24px/24px 'Liberation Sans',sans-serif;color:#1d1d1b;transform:scaleX(0.8990);-webkit-text-stroke:0.5px #1d1d1b;">3</span>
<span class="t" style="left:343.50px;top:1409.78px;font:24px/24px 'Liberation Sans',sans-serif;color:#1d1d1b;transform:scaleX(0.8998);-webkit-text-stroke:0.5px #1d1d1b;">,</span>
<span class="t" style="left:349.50px;top:1413.74px;font:24px/24px 'Liberation Sans',sans-serif;color:#1d1d1b;transform:scaleX(0.8990);-webkit-text-stroke:0.5px #1d1d1b;">5</span>
<span class="t" style="left:361.50px;top:1409.78px;font:24px/24px 'Liberation Sans',sans-serif;color:#1d1d1b;transform:scaleX(1.0075);-webkit-text-stroke:0.5px #1d1d1b;">%</span>
<svg style="left:411.00px;top:1412.50px;" width="90" height="45" viewBox="0 0 90 45"><g fill="#e5007d"><g transform="translate(0.00,0.00)"><path d="M4.375 0C5.6 0 6.45 .9 6.45 2.25C6.45 3.3 5.95 4.2 5.35 4.7C5.1 4.9 5.15 5.3 5.5 5.5L7.6 6.45C8.4 6.85 8.75 7.6 8.75 8.5V10H0V8.5C0 7.6 .35 6.85 1.15 6.45L3.25 5.5C3.6 5.3 3.65 4.9 3.4 4.7C2.8 4.2 2.3 3.3 2.3 2.25C2.3 .9 3.15 0 4.375 0Z"/></g><g transform="translate(11.54,0.00)"><path d="M4.375 0C5.6 0 6.45 .9 6.45 2.25C6.45 3.3 5.95 4.2 5.35 4.7C5.1 4.9 5.15 5.3 5.5 5.5L7.6 6.45C8.4 6.85 8.75 7.6 8.75 8.5V10H0V8.5C0 7.6 .35 6.85 1.15 6.45L3.25 5.5C3.6 5.3 3.65 4.9 3.4 4.7C2.8 4.2 2.3 3.3 2.3 2.25C2.3 .9 3.15 0 4.375 0Z"/></g><g transform="translate(23.08,0.00)"><path d="M4.375 0C5.6 0 6.45 .9 6.45 2.25C6.45 3.3 5.95 4.2 5.35 4.7C5.1 4.9 5.15 5.3 5.5 5.5L7.6 6.45C8.4 6.85 8.75 7.6 8.75 8.5V10H0V8.5C0 7.6 .35 6.85 1.15 6.45L3.25 5.5C3.6 5.3 3.65 4.9 3.4 4.7C2.8 4.2 2.3 3.3 2.3 2.25C2.3 .9 3.15 0 4.375 0Z"/></g><g transform="translate(34.62,0.00)"><path d="M4.375 0C5.6 0 6.45 .9 6.45 2.25C6.45 3.3 5.95 4.2 5.35 4.7C5.1 4.9 5.15 5.3 5.5 5.5L7.6 6.45C8.4 6.85 8.75 7.6 8.75 8.5V10H0V8.5C0 7.6 .35 6.85 1.15 6.45L3.25 5.5C3.6 5.3 3.65 4.9 3.4 4.7C2.8 4.2 2.3 3.3 2.3 2.25C2.3 .9 3.15 0 4.375 0Z"/></g><g transform="translate(46.16,0.00)"><path d="M4.375 0C5.6 0 6.45 .9 6.45 2.25C6.45 3.3 5.95 4.2 5.35 4.7C5.1 4.9 5.15 5.3 5.5 5.5L7.6 6.45C8.4 6.85 8.75 7.6 8.75 8.5V10H0V8.5C0 7.6 .35 6.85 1.15 6.45L3.25 5.5C3.6 5.3 3.65 4.9 3.4 4.7C2.8 4.2 2.3 3.3 2.3 2.25C2.3 .9 3.15 0 4.375 0Z"/></g><g transform="translate(57.70,0.00)"><path d="M4.375 0C5.6 0 6.45 .9 6.45 2.25C6.45 3.3 5.95 4.2 5.35 4.7C5.1 4.9 5.15 5.3 5.5 5.5L7.6 6.45C8.4 6.85 8.75 7.6 8.75 8.5V10H0V8.5C0 7.6 .35 6.85 1.15 6.45L3.25 5.5C3.6 5.3 3.65 4.9 3.4 4.7C2.8 4.2 2.3 3.3 2.3 2.25C2.3 .9 3.15 0 4.375 0Z"/></g><g transform="translate(69.24,0.00)"><path d="M4.375 0C5.6 0 6.45 .9 6.45 2.25C6.45 3.3 5.95 4.2 5.35 4.7C5.1 4.9 5.15 5.3 5.5 5.5L7.6 6.45C8.4 6.85 8.75 7.6 8.75 8.5V10H0V8.5C0 7.6 .35 6.85 1.15 6.45L3.25 5.5C3.6 5.3 3.65 4.9 3.4 4.7C2.8 4.2 2.3 3.3 2.3 2.25C2.3 .9 3.15 0 4.375 0Z"/></g><g transform="translate(0.00,11.25)"><path d="M4.375 0C5.6 0 6.45 .9 6.45 2.25C6.45 3.3 5.95 4.2 5.35 4.7C5.1 4.9 5.15 5.3 5.5 5.5L7.6 6.45C8.4 6.85 8.75 7.6 8.75 8.5V10H0V8.5C0 7.6 .35 6.85 1.15 6.45L3.25 5.5C3.6 5.3 3.65 4.9 3.4 4.7C2.8 4.2 2.3 3.3 2.3 2.25C2.3 .9 3.15 0 4.375 0Z"/></g><g transform="translate(11.54,11.25)"><path d="M4.375 0C5.6 0 6.45 .9 6.45 2.25C6.45 3.3 5.95 4.2 5.35 4.7C5.1 4.9 5.15 5.3 5.5 5.5L7.6 6.45C8.4 6.85 8.75 7.6 8.75 8.5V10H0V8.5C0 7.6 .35 6.85 1.15 6.45L3.25 5.5C3.6 5.3 3.65 4.9 3.4 4.7C2.8 4.2 2.3 3.3 2.3 2.25C2.3 .9 3.15 0 4.375 0Z"/></g><g transform="translate(23.08,11.25)"><path d="M4.375 0C5.6 0 6.45 .9 6.45 2.25C6.45 3.3 5.95 4.2 5.35 4.7C5.1 4.9 5.15 5.3 5.5 5.5L7.6 6.45C8.4 6.85 8.75 7.6 8.75 8.5V10H0V8.5C0 7.6 .35 6.85 1.15 6.45L3.25 5.5C3.6 5.3 3.65 4.9 3.4 4.7C2.8 4.2 2.3 3.3 2.3 2.25C2.3 .9 3.15 0 4.375 0Z"/></g><g transform="translate(34.62,11.25)"><path d="M4.375 0C5.6 0 6.45 .9 6.45 2.25C6.45 3.3 5.95 4.2 5.35 4.7C5.1 4.9 5.15 5.3 5.5 5.5L7.6 6.45C8.4 6.85 8.75 7.6 8.75 8.5V10H0V8.5C0 7.6 .35 6.85 1.15 6.45L3.25 5.5C3.6 5.3 3.65 4.9 3.4 4.7C2.8 4.2 2.3 3.3 2.3 2.25C2.3 .9 3.15 0 4.375 0Z"/></g><g transform="translate(46.16,11.25)"><path d="M4.375 0C5.6 0 6.45 .9 6.45 2.25C6.45 3.3 5.95 4.2 5.35 4.7C5.1 4.9 5.15 5.3 5.5 5.5L7.6 6.45C8.4 6.85 8.75 7.6 8.75 8.5V10H0V8.5C0 7.6 .35 6.85 1.15 6.45L3.25 5.5C3.6 5.3 3.65 4.9 3.4 4.7C2.8 4.2 2.3 3.3 2.3 2.25C2.3 .9 3.15 0 4.375 0Z"/></g></g></svg>
<span class="t" style="left:524.80px;top:1414.97px;font:bold 17.64px/17.64px 'Liberation Sans',sans-serif;color:#1d1d1b;transform:scaleX(0.8766);-webkit-text-stroke:0.528px #1d1d1b;">1</span>
<span class="t" style="left:533.40px;top:1414.97px;font:bold 17.64px/17.64px 'Liberation Sans',sans-serif;color:#1d1d1b;transform:scaleX(0.8766);-webkit-text-stroke:0.528px #1d1d1b;">1</span>
<span class="t" style="left:542.00px;top:1409.58px;font:bold 24px/24px 'Liberation Sans',sans-serif;color:#1d1d1b;transform:scaleX(0.8998);">,</span>
<span class="t" style="left:548.00px;top:1413.54px;font:bold 24px/24px 'Liberation Sans',sans-serif;color:#1d1d1b;transform:scaleX(0.9739);">9</span>
<svg style="left:589.50px;top:1404.95px;" width="110" height="32" viewBox="0 0 110 32"><g transform="translate(0.00,0)"><path d="M0.45 23.40 v4.2 a8.4 3.9 0 0 0 16.8 0 v-4.2 z" fill="#e5007d"/><ellipse cx="8.85" cy="23.40" rx="8.4" ry="3.9" fill="#e5007d"/><path d="M0.45 18.52 v4.2 a8.4 3.9 0 0 0 16.8 0 v-4.2 z" fill="#e5007d"/><ellipse cx="8.85" cy="18.52" rx="8.4" ry="3.9" fill="#e5007d"/><path d="M0.45 13.65 v4.2 a8.4 3.9 0 0 0 16.8 0 v-4.2 z" fill="#e5007d"/><ellipse cx="8.85" cy="13.65" rx="8.4" ry="3.9" fill="#e5007d"/><path d="M0.45 8.77 v4.2 a8.4 3.9 0 0 0 16.8 0 v-4.2 z" fill="#e5007d"/><ellipse cx="8.85" cy="8.77" rx="8.4" ry="3.9" fill="#e5007d"/><path d="M1.35 24.40 a7.50 3.30 0 0 0 15.00 0" fill="none" stroke="#ff94cb" stroke-width="1.0"/><path d="M1.35 19.52 a7.50 3.30 0 0 0 15.00 0" fill="none" stroke="#ff94cb" stroke-width="1.0"/><path d="M1.35 14.65 a7.50 3.30 0 0 0 15.00 0" fill="none" stroke="#ff94cb" stroke-width="1.0"/><ellipse cx="8.85" cy="8.62" rx="6.3" ry="2.45" fill="#b9d6f2"/><path d="M5.65 8.27 q1.6 1.7 3.2 0.2 q1.6 1.5 3.2 -0.2" fill="none" stroke="#7a1a6a" stroke-width="0.9"/></g></svg>
<span class="t" style="left:701.40px;top:1414.97px;font:bold 17.64px/17.64px 'Liberation Sans',sans-serif;color:#1d1d1b;transform:scaleX(1.4066);-webkit-text-stroke:0.528px #1d1d1b;">0</span>
<span class="t" style="left:715.20px;top:1409.58px;font:bold 24px/24px 'Liberation Sans',sans-serif;color:#1d1d1b;transform:scaleX(0.8998);">,</span>
<span class="t" style="left:721.20px;top:1409.58px;font:bold 24px/24px 'Liberation Sans',sans-serif;color:#1d1d1b;">8</span>
<svg style="left:47.00px;top:1393.00px;" width="57" height="56" viewBox="0 0 800 786"><g fill="#fff"><circle cx="250" cy="210" r="62"/><circle cx="310" cy="160" r="62"/><circle cx="370" cy="205" r="62"/><circle cx="265" cy="275" r="58"/><circle cx="355" cy="272" r="58"/><circle cx="310" cy="230" r="70"/>
<rect x="275" y="290" width="72" height="172"/>
<polygon points="358,402 455,300 552,402"/><rect x="385" y="395" width="150" height="96"/>
<polygon points="118,512 165,474 662,520 662,690"/></g>
<rect x="440" y="432" width="32" height="60" fill="#e5007d"/>
<g stroke="#e5007d" stroke-width="13"><line x1="240" y1="514" x2="300" y2="524"/><line x1="395" y1="545" x2="470" y2="560"/><line x1="585" y1="585" x2="655" y2="600"/><line x1="165" y1="497" x2="185" y2="500"/></g></svg>
<div style="left:47.00px;top:1453.90px;width:56.80px;height:56.30px;background:#e5007d;"></div>
<div style="left:103.70px;top:1453.90px;width:115.90px;height:56.30px;background:#f19ec7;"></div>
<div style="left:224.70px;top:1453.90px;width:173.00px;height:56.30px;background:#7ecff3;"></div>
<div style="left:402.00px;top:1453.90px;width:173.00px;height:56.30px;background:#7ecff3;"></div>
<div style="left:580.00px;top:1453.90px;width:173.00px;height:56.30px;background:#7ecff3;"></div>
<span class="t" style="left:120.00px;top:1474.06px;font:italic bold 16px/16px 'Liberation Sans',sans-serif;color:#2b1a2e;transform:scaleX(0.8760);">Binnenmilieu</span>
<svg style="left:235.30px;top:1466.80px;" width="86" height="31.6" viewBox="0 0 86 31.6"><defs><clipPath id="c235_1466"><rect x="0" y="0" width="86" height="31.6" rx="15.8" ry="15.8"/></clipPath>
<linearGradient id="g235_1466" x1="0" y1="0" x2="0" y2="1"><stop offset="0" stop-color="#ffffff"/><stop offset="0.55" stop-color="#fbfbfb"/><stop offset="1" stop-color="#dcdcdc"/></linearGradient>
<linearGradient id="h235_1466" x1="0" y1="0" x2="0" y2="1"><stop offset="0" stop-color="#e5007d"/><stop offset="0.6" stop-color="#e0047a"/><stop offset="1" stop-color="#c4006a"/></linearGradient></defs>
<ellipse cx="46.0" cy="32.1" rx="39.0" ry="2.4" fill="#3a7ea0" opacity="0.28"/>
<g clip-path="url(#c235_1466)"><rect x="0" y="0" width="86" height="31.6" fill="url(#g235_1466)"/>
<rect x="0" y="0" width="4.3" height="31.6" fill="url(#h235_1466)"/>
<rect x="42.4" y="0" width="0.9" height="31.6" fill="#000" opacity="0.13"/></g></svg>
<span class="t" style="left:329.70px;top:1476.37px;font:17.64px/17.64px 'Liberation Sans',sans-serif;color:#1d1d1b;transform:scaleX(1.4066);-webkit-text-stroke:0.788px #1d1d1b;">0</span>
<span class="t" style="left:343.50px;top:1470.98px;font:24px/24px 'Liberation Sans',sans-serif;color:#1d1d1b;transform:scaleX(0.8998);-webkit-text-stroke:0.5px #1d1d1b;">,</span>
<span class="t" style="left:349.50px;top:1474.94px;font:24px/24px 'Liberation Sans',sans-serif;color:#1d1d1b;transform:scaleX(0.8990);-webkit-text-stroke:0.5px #1d1d1b;">5</span>
<span class="t" style="left:361.50px;top:1470.98px;font:24px/24px 'Liberation Sans',sans-serif;color:#1d1d1b;transform:scaleX(1.0075);-webkit-text-stroke:0.5px #1d1d1b;">%</span>
<svg style="left:411.00px;top:1477.70px;" width="90" height="45" viewBox="0 0 90 45"><g fill="#e5007d"><g transform="translate(0.00,0.00)"><path d="M4.375 0C5.6 0 6.45 .9 6.45 2.25C6.45 3.3 5.95 4.2 5.35 4.7C5.1 4.9 5.15 5.3 5.5 5.5L7.6 6.45C8.4 6.85 8.75 7.6 8.75 8.5V10H0V8.5C0 7.6 .35 6.85 1.15 6.45L3.25 5.5C3.6 5.3 3.65 4.9 3.4 4.7C2.8 4.2 2.3 3.3 2.3 2.25C2.3 .9 3.15 0 4.375 0Z"/></g></g></svg>
<span class="t" style="left:537.80px;top:1476.17px;font:bold 17.64px/17.64px 'Liberation Sans',sans-serif;color:#1d1d1b;transform:scaleX(0.8766);-webkit-text-stroke:0.528px #1d1d1b;">1</span>
<span class="t" style="left:546.40px;top:1470.78px;font:bold 24px/24px 'Liberation Sans',sans-serif;color:#1d1d1b;transform:scaleX(0.8998);">,</span>
<span class="t" style="left:552.40px;top:1476.17px;font:bold 17.64px/17.64px 'Liberation Sans',sans-serif;color:#1d1d1b;transform:scaleX(0.8766);-webkit-text-stroke:0.528px #1d1d1b;">1</span>
<svg style="left:589.50px;top:1466.15px;" width="110" height="32" viewBox="0 0 110 32"><g transform="translate(0.00,0)"><path d="M0.45 23.40 v4.2 a8.4 3.9 0 0 0 16.8 0 v-4.2 z" fill="#e5007d"/><ellipse cx="8.85" cy="23.40" rx="8.4" ry="3.9" fill="#e5007d"/><path d="M0.45 18.52 v4.2 a8.4 3.9 0 0 0 16.8 0 v-4.2 z" fill="#e5007d"/><ellipse cx="8.85" cy="18.52" rx="8.4" ry="3.9" fill="#e5007d"/><path d="M1.35 24.40 a7.50 3.30 0 0 0 15.00 0" fill="none" stroke="#ff94cb" stroke-width="1.0"/><ellipse cx="8.85" cy="18.38" rx="6.3" ry="2.45" fill="#b9d6f2"/><path d="M5.65 18.02 q1.6 1.7 3.2 0.2 q1.6 1.5 3.2 -0.2" fill="none" stroke="#7a1a6a" stroke-width="0.9"/></g></svg>
<span class="t" style="left:700.70px;top:1476.17px;font:bold 17.64px/17.64px 'Liberation Sans',sans-serif;color:#1d1d1b;transform:scaleX(1.4066);-webkit-text-stroke:0.528px #1d1d1b;">0</span>
<span class="t" style="left:714.50px;top:1470.78px;font:bold 24px/24px 'Liberation Sans',sans-serif;color:#1d1d1b;transform:scaleX(0.8998);">,</span>
<span class="t" style="left:720.50px;top:1474.74px;font:bold 24px/24px 'Liberation Sans',sans-serif;color:#1d1d1b;transform:scaleX(1.0489);">4</span>
<svg style="left:47.00px;top:1454.00px;" width="57" height="56" viewBox="0 0 800 786"><polygon points="180,576 180,285 290,195 400,280 510,195 626,285 626,576" fill="#fff"/><rect x="222" y="335" width="43" height="65" fill="#e5007d"/><rect x="322" y="335" width="40" height="65" fill="#e5007d"/><rect x="440" y="335" width="43" height="65" fill="#e5007d"/><rect x="545" y="335" width="40" height="65" fill="#e5007d"/><rect x="222" y="465" width="43" height="65" fill="#e5007d"/><rect x="440" y="465" width="43" height="65" fill="#e5007d"/><rect x="322" y="465" width="40" height="115" fill="#e5007d"/><rect x="545" y="465" width="40" height="115" fill="#e5007d"/></svg>
<span class="t" style="left:484.50px;top:1524.27px;font:11.5px/11.5px 'Liberation Sans',sans-serif;color:#333;transform:scaleX(0.9337);">Rijksinstituut voor Volksgezondheid en Milieu, April 2018</span>
</div></body></html>
